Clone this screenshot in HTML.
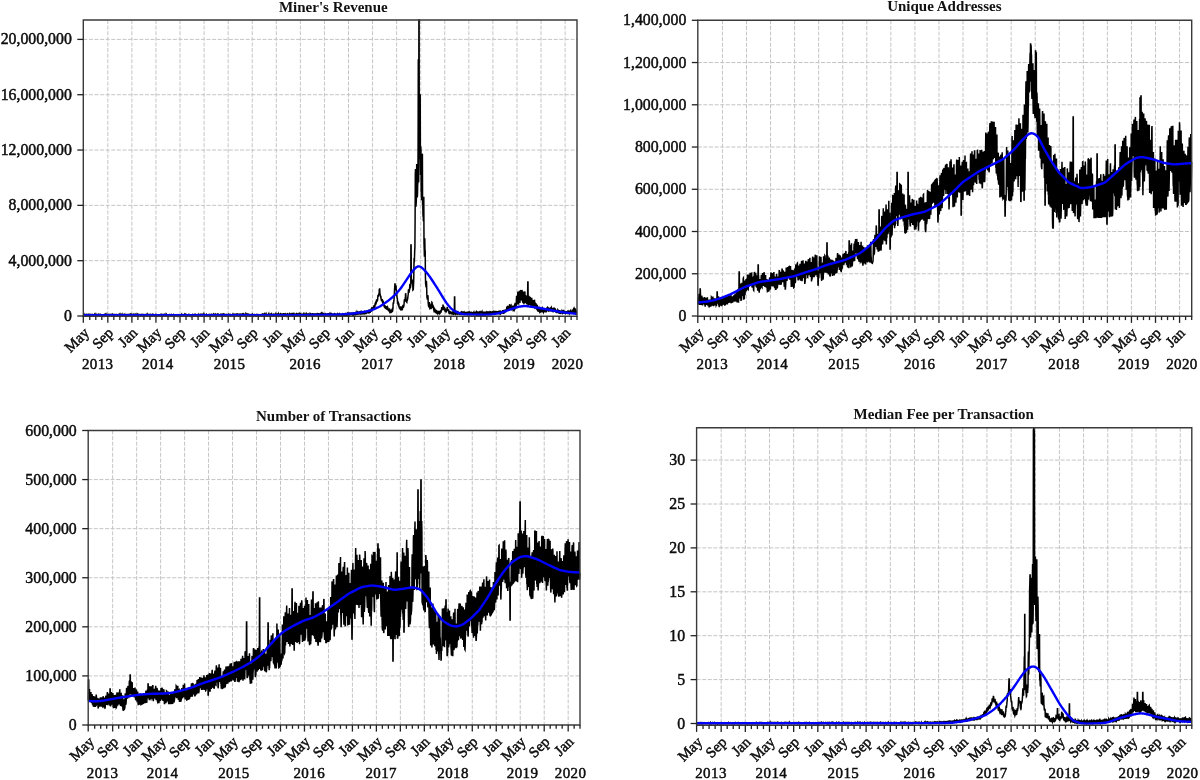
<!DOCTYPE html>
<html><head><meta charset="utf-8"><title>Charts</title><style>
html,body{margin:0;padding:0;background:#fff;}
svg{display:block;filter:blur(0.35px);}
.g{stroke:#c4c4c4;stroke-width:1;stroke-dasharray:4 1.6;fill:none;}
.d{stroke:#000;stroke-width:1.5;fill:none;stroke-linejoin:miter;}
.t{stroke:#0000ff;stroke-width:2.4;fill:none;}
.f{stroke:#3a3a3a;stroke-width:1.4;fill:none;}
.k{stroke:#222;stroke-width:1.3;}
text{font-family:"Liberation Serif",serif;fill:#111;}
.yl{font-size:15.8px;text-anchor:end;stroke:#000;stroke-width:0.45;}
.ml{font-size:15px;text-anchor:end;stroke:#000;stroke-width:0.45;}
.yr{font-size:15px;text-anchor:middle;letter-spacing:0.4px;stroke:#000;stroke-width:0.45;}
.ti{font-size:15px;font-weight:bold;text-anchor:middle;}
</style></head>
<body><svg width="1200" height="780" viewBox="0 0 1200 780">
<rect width="1200" height="780" fill="#fff"/>
<line x1="83.30" y1="260.68" x2="577.00" y2="260.68" class="g"/>
<line x1="83.30" y1="205.36" x2="577.00" y2="205.36" class="g"/>
<line x1="83.30" y1="150.04" x2="577.00" y2="150.04" class="g"/>
<line x1="83.30" y1="94.72" x2="577.00" y2="94.72" class="g"/>
<line x1="83.30" y1="39.40" x2="577.00" y2="39.40" class="g"/>
<line x1="107.82" y1="20.00" x2="107.82" y2="316.20" class="g"/>
<line x1="131.89" y1="20.00" x2="131.89" y2="316.20" class="g"/>
<line x1="155.95" y1="20.00" x2="155.95" y2="316.20" class="g"/>
<line x1="180.02" y1="20.00" x2="180.02" y2="316.20" class="g"/>
<line x1="204.09" y1="20.00" x2="204.09" y2="316.20" class="g"/>
<line x1="228.16" y1="20.00" x2="228.16" y2="316.20" class="g"/>
<line x1="252.23" y1="20.00" x2="252.23" y2="316.20" class="g"/>
<line x1="276.29" y1="20.00" x2="276.29" y2="316.20" class="g"/>
<line x1="300.36" y1="20.00" x2="300.36" y2="316.20" class="g"/>
<line x1="324.43" y1="20.00" x2="324.43" y2="316.20" class="g"/>
<line x1="348.50" y1="20.00" x2="348.50" y2="316.20" class="g"/>
<line x1="372.57" y1="20.00" x2="372.57" y2="316.20" class="g"/>
<line x1="396.63" y1="20.00" x2="396.63" y2="316.20" class="g"/>
<line x1="420.70" y1="20.00" x2="420.70" y2="316.20" class="g"/>
<line x1="444.77" y1="20.00" x2="444.77" y2="316.20" class="g"/>
<line x1="468.84" y1="20.00" x2="468.84" y2="316.20" class="g"/>
<line x1="492.91" y1="20.00" x2="492.91" y2="316.20" class="g"/>
<line x1="516.97" y1="20.00" x2="516.97" y2="316.20" class="g"/>
<line x1="541.04" y1="20.00" x2="541.04" y2="316.20" class="g"/>
<line x1="565.11" y1="20.00" x2="565.11" y2="316.20" class="g"/>
<path d="M83.4,315.6L83.6,316.0L83.8,315.9L84.0,315.9L84.2,315.5L84.4,314.9L84.6,314.6L84.8,315.8L85.0,315.8L85.2,316.0L85.4,315.9L85.6,315.6L85.8,315.0L86.0,314.8L86.2,315.8L86.4,316.0L86.6,315.8L86.8,315.6L87.0,315.5L87.2,314.6L87.4,314.6L87.6,315.7L87.8,315.7L87.9,315.8L88.1,315.8L88.3,315.5L88.5,314.5L88.7,314.3L88.9,315.6L89.1,315.5L89.3,315.8L89.5,315.8L89.7,315.6L89.9,314.9L90.1,314.7L90.3,315.9L90.5,315.8L90.7,315.9L90.9,315.8L91.1,315.7L91.3,314.7L91.5,314.6L91.7,315.5L91.9,315.7L92.1,315.5L92.3,315.8L92.5,315.5L92.7,314.6L92.9,314.7L93.1,315.8L93.3,315.7L93.5,315.8L93.7,315.6L93.9,315.4L94.1,314.8L94.3,314.5L94.5,315.7L94.7,315.8L94.9,315.9L95.1,315.8L95.3,315.5L95.5,314.8L95.7,314.4L95.9,315.4L96.1,315.6L96.3,315.7L96.5,315.5L96.7,315.7L96.8,314.6L97.0,314.5L97.2,315.7L97.4,315.7L97.6,315.6L97.8,315.6L98.0,315.5L98.2,314.7L98.4,314.5L98.6,315.5L98.8,315.8L99.0,315.8L99.2,315.6L99.4,315.4L99.6,314.4L99.8,314.3L100.0,315.5L100.2,315.6L100.4,315.7L100.6,315.5L100.8,315.5L101.0,314.7L101.2,314.8L101.4,315.8L101.6,315.7L101.8,315.9L102.0,315.8L102.2,315.3L102.4,314.7L102.6,314.7L102.8,315.4L103.0,315.5L103.2,315.6L103.4,315.6L103.6,315.4L103.8,314.8L104.0,314.6L104.2,315.9L104.4,315.7L104.6,315.6L104.8,315.9L105.0,315.4L105.2,314.8L105.4,314.5L105.6,315.5L105.7,315.9L105.9,316.0L106.1,315.8L106.3,315.7L106.5,314.9L106.7,314.5L106.9,315.7L107.1,315.9L107.3,315.7L107.5,315.6L107.7,315.6L107.9,314.9L108.1,314.7L108.3,315.5L108.5,315.8L108.7,315.6L108.9,315.7L109.1,315.6L109.3,314.6L109.5,314.5L109.7,315.7L109.9,315.9L110.1,315.6L110.3,315.7L110.5,315.5L110.7,314.4L110.9,314.3L111.1,315.4L111.3,315.7L111.5,315.6L111.7,315.6L111.9,315.4L112.1,314.6L112.3,314.4L112.5,315.6L112.7,315.9L112.9,315.9L113.1,315.6L113.3,315.3L113.5,314.6L113.7,314.6L113.9,315.6L114.1,315.8L114.3,315.6L114.5,315.4L114.7,315.3L114.8,314.5L115.0,314.5L115.2,315.6L115.4,315.7L115.6,315.5L115.8,315.6L116.0,315.5L116.2,314.8L116.4,314.7L116.6,315.8L116.8,315.7L117.0,315.7L117.2,315.8L117.4,315.6L117.6,314.7L117.8,314.6L118.0,315.6L118.2,315.9L118.4,315.8L118.6,315.5L118.8,315.6L119.0,314.8L119.2,314.5L119.4,315.5L119.6,316.1L119.8,316.2L120.0,315.8L120.2,315.7L120.4,315.0L120.6,314.6L120.8,315.7L121.0,315.8L121.2,315.9L121.4,316.0L121.6,315.4L121.8,314.6L122.0,314.3L122.2,315.6L122.4,315.7L122.6,315.8L122.8,315.5L123.0,315.6L123.2,314.9L123.4,314.7L123.6,315.9L123.7,315.9L123.9,315.9L124.1,315.9L124.3,315.8L124.5,314.8L124.7,314.5L124.9,315.8L125.1,315.7L125.3,315.7L125.5,315.7L125.7,315.4L125.9,314.7L126.1,314.6L126.3,315.4L126.5,315.5L126.7,315.8L126.9,315.4L127.1,315.6L127.3,314.7L127.5,314.6L127.7,315.4L127.9,315.8L128.1,315.5L128.3,315.7L128.5,315.3L128.7,314.4L128.9,314.3L129.1,315.3L129.3,315.5L129.5,315.4L129.7,315.3L129.9,315.4L130.1,314.6L130.3,314.4L130.5,315.5L130.7,315.6L130.9,315.4L131.1,315.4L131.3,315.3L131.5,314.3L131.7,314.5L131.9,315.5L132.1,315.4L132.3,315.8L132.5,315.4L132.7,315.2L132.8,314.6L133.0,314.4L133.2,315.6L133.4,315.4L133.6,315.5L133.8,315.5L134.0,315.3L134.2,314.5L134.4,314.4L134.6,315.4L134.8,315.8L135.0,315.6L135.2,315.5L135.4,315.2L135.6,314.6L135.8,314.3L136.0,315.4L136.2,315.5L136.4,315.6L136.6,315.7L136.8,315.3L137.0,314.5L137.2,314.3L137.4,315.5L137.6,315.7L137.8,315.6L138.0,315.7L138.2,315.5L138.4,314.3L138.6,314.4L138.8,315.4L139.0,315.5L139.2,315.8L139.4,315.5L139.6,315.2L139.8,314.6L140.0,314.6L140.2,315.5L140.4,315.5L140.6,315.5L140.8,315.3L141.0,315.2L141.2,314.6L141.4,314.5L141.6,315.6L141.7,315.9L141.9,315.9L142.1,315.8L142.3,315.8L142.5,314.8L142.7,314.6L142.9,315.5L143.1,315.9L143.3,315.6L143.5,315.6L143.7,315.4L143.9,314.9L144.1,314.8L144.3,315.6L144.5,315.9L144.7,315.9L144.9,315.8L145.1,315.5L145.3,314.8L145.5,314.7L145.7,315.8L145.9,315.9L146.1,315.6L146.3,315.7L146.5,315.4L146.7,314.8L146.9,314.4L147.1,315.5L147.3,315.7L147.5,315.6L147.7,315.4L147.9,315.2L148.1,314.4L148.3,314.5L148.5,315.4L148.7,315.8L148.9,315.9L149.1,315.5L149.3,315.3L149.5,314.8L149.7,314.6L149.9,315.5L150.1,315.9L150.3,315.7L150.5,315.8L150.6,315.5L150.8,314.6L151.0,314.6L151.2,315.3L151.4,315.8L151.6,315.6L151.8,315.7L152.0,315.4L152.2,314.7L152.4,314.5L152.6,315.5L152.8,315.7L153.0,315.7L153.2,315.6L153.4,315.7L153.6,314.6L153.8,314.7L154.0,315.7L154.2,315.9L154.4,315.9L154.6,315.8L154.8,315.5L155.0,314.8L155.2,314.7L155.4,315.6L155.6,316.0L155.8,316.0L156.0,315.7L156.2,315.5L156.4,314.7L156.6,314.8L156.8,315.8L157.0,315.7L157.2,316.0L157.4,315.7L157.6,315.6L157.8,314.8L158.0,314.8L158.2,315.8L158.4,315.9L158.6,316.0L158.8,315.9L159.0,315.6L159.2,314.8L159.4,314.8L159.6,315.9L159.7,316.0L159.9,316.1L160.1,316.1L160.3,315.6L160.5,315.0L160.7,314.7L160.9,315.9L161.1,315.9L161.3,315.8L161.5,315.8L161.7,315.5L161.9,314.6L162.1,314.7L162.3,315.9L162.5,315.7L162.7,315.9L162.9,315.8L163.1,315.7L163.3,314.6L163.5,314.8L163.7,315.6L163.9,315.8L164.1,316.0L164.3,315.9L164.5,315.4L164.7,314.6L164.9,314.3L165.1,315.4L165.3,315.5L165.5,315.6L165.7,315.5L165.9,315.6L166.1,314.8L166.3,314.5L166.5,315.6L166.7,315.6L166.9,315.8L167.1,315.6L167.3,315.6L167.5,314.8L167.7,314.8L167.9,315.6L168.1,316.0L168.3,316.0L168.5,315.8L168.6,315.9L168.8,314.9L169.0,314.8L169.2,315.8L169.4,316.1L169.6,316.2L169.8,316.0L170.0,315.6L170.2,314.6L170.4,314.7L170.6,315.7L170.8,315.9L171.0,315.8L171.2,315.7L171.4,315.8L171.6,314.7L171.8,314.9L172.0,316.0L172.2,316.2L172.4,316.2L172.6,315.9L172.8,315.7L173.0,315.1L173.2,314.8L173.4,315.7L173.6,315.8L173.8,316.0L174.0,316.1L174.2,315.8L174.4,315.2L174.6,315.2L174.8,316.1L175.0,316.2L175.2,316.2L175.4,316.0L175.6,315.8L175.8,315.2L176.0,315.1L176.2,316.1L176.4,316.2L176.6,316.2L176.8,315.9L177.0,315.8L177.2,314.9L177.4,314.8L177.6,315.8L177.7,315.8L177.9,316.2L178.1,316.0L178.3,315.8L178.5,314.8L178.7,314.9L178.9,315.8L179.1,316.2L179.3,316.0L179.5,316.1L179.7,316.0L179.9,315.2L180.1,315.1L180.3,316.1L180.5,316.1L180.7,315.9L180.9,316.0L181.1,315.9L181.3,315.1L181.5,314.7L181.7,315.7L181.9,316.1L182.1,316.1L182.3,315.9L182.5,315.6L182.7,314.7L182.9,314.8L183.1,315.7L183.3,315.9L183.5,315.8L183.7,315.8L183.9,315.5L184.1,314.8L184.3,314.5L184.5,315.7L184.7,315.9L184.9,315.7L185.1,315.5L185.3,315.3L185.5,314.5L185.7,314.8L185.9,315.7L186.1,315.8L186.3,315.7L186.5,315.9L186.6,315.7L186.8,314.8L187.0,315.0L187.2,316.0L187.4,316.0L187.6,315.9L187.8,315.9L188.0,315.4L188.2,314.8L188.4,314.6L188.6,315.4L188.8,315.6L189.0,315.8L189.2,315.5L189.4,315.6L189.6,314.7L189.8,314.8L190.0,315.8L190.2,316.1L190.4,316.1L190.6,316.0L190.8,315.7L191.0,314.8L191.2,314.8L191.4,316.1L191.6,315.8L191.8,315.9L192.0,315.8L192.2,315.8L192.4,315.0L192.6,314.7L192.8,315.4L193.0,315.7L193.2,316.0L193.4,315.8L193.6,315.7L193.8,314.8L194.0,314.6L194.2,315.9L194.4,315.9L194.6,315.9L194.8,316.1L195.0,315.7L195.2,314.9L195.4,314.7L195.5,316.1L195.7,316.1L195.9,315.9L196.1,315.9L196.3,315.8L196.5,315.1L196.7,315.1L196.9,315.9L197.1,316.1L197.3,315.8L197.5,315.7L197.7,315.7L197.9,314.8L198.1,314.5L198.3,315.7L198.5,316.0L198.7,315.7L198.9,315.6L199.1,315.6L199.3,314.7L199.5,314.6L199.7,315.3L199.9,315.5L200.1,315.5L200.3,315.2L200.5,315.2L200.7,314.3L200.9,314.3L201.1,315.1L201.3,315.3L201.5,315.4L201.7,315.3L201.9,315.1L202.1,314.3L202.3,314.3L202.5,315.5L202.7,315.7L202.9,315.7L203.1,315.7L203.3,315.7L203.5,314.8L203.7,314.3L203.9,315.5L204.1,315.8L204.3,315.6L204.5,315.6L204.6,315.3L204.8,314.4L205.0,314.5L205.2,315.4L205.4,315.7L205.6,315.7L205.8,315.6L206.0,315.5L206.2,314.9L206.4,314.6L206.6,315.7L206.8,315.7L207.0,316.0L207.2,315.8L207.4,315.6L207.6,315.0L207.8,315.0L208.0,315.8L208.2,316.2L208.4,316.1L208.6,316.0L208.8,315.8L209.0,314.6L209.2,314.6L209.4,315.8L209.6,315.9L209.8,315.9L210.0,315.8L210.2,315.8L210.4,314.7L210.6,314.9L210.8,315.7L211.0,315.8L211.2,315.9L211.4,315.6L211.6,315.4L211.8,314.4L212.0,314.5L212.2,315.6L212.4,315.4L212.6,315.6L212.8,315.5L213.0,315.2L213.2,314.4L213.4,314.2L213.5,315.5L213.7,315.2L213.9,315.5L214.1,315.1L214.3,314.9L214.5,314.2L214.7,314.2L214.9,315.2L215.1,315.5L215.3,315.4L215.5,315.5L215.7,315.3L215.9,314.2L216.1,314.4L216.3,315.4L216.5,315.2L216.7,315.6L216.9,315.3L217.1,315.1L217.3,314.5L217.5,314.3L217.7,315.5L217.9,315.4L218.1,315.7L218.3,315.3L218.5,315.2L218.7,314.4L218.9,314.5L219.1,315.7L219.3,315.6L219.5,315.6L219.7,315.7L219.9,315.3L220.1,314.4L220.3,314.3L220.5,315.4L220.7,315.5L220.9,315.8L221.1,315.5L221.3,315.4L221.5,314.3L221.7,314.3L221.9,315.2L222.1,315.3L222.3,315.0L222.4,315.1L222.6,314.9L222.8,314.1L223.0,314.1L223.2,315.0L223.4,315.2L223.6,315.2L223.8,315.1L224.0,314.9L224.2,314.1L224.4,314.3L224.6,315.3L224.8,315.3L225.0,315.5L225.2,315.3L225.4,315.4L225.6,314.6L225.8,314.5L226.0,315.5L226.2,315.7L226.4,316.0L226.6,315.7L226.8,315.2L227.0,314.4L227.2,314.4L227.4,315.5L227.6,315.6L227.8,315.9L228.0,315.9L228.2,315.6L228.4,314.5L228.6,314.3L228.8,315.4L229.0,315.6L229.2,315.7L229.4,315.8L229.6,315.2L229.8,314.5L230.0,314.4L230.2,315.3L230.4,315.5L230.6,315.7L230.8,315.4L231.0,315.4L231.2,314.7L231.4,314.2L231.5,315.3L231.7,315.5L231.9,315.6L232.1,315.7L232.3,315.5L232.5,314.6L232.7,314.3L232.9,315.5L233.1,315.6L233.3,315.5L233.5,315.5L233.7,315.3L233.9,314.2L234.1,314.2L234.3,315.2L234.5,315.4L234.7,315.3L234.9,315.3L235.1,315.4L235.3,314.3L235.5,314.3L235.7,315.4L235.9,315.6L236.1,315.7L236.3,315.2L236.5,315.4L236.7,314.0L236.9,314.0L237.1,315.3L237.3,315.1L237.5,315.1L237.7,315.0L237.9,314.9L238.1,314.1L238.3,314.2L238.5,315.2L238.7,315.3L238.9,315.4L239.1,315.2L239.3,315.0L239.5,314.3L239.7,314.2L239.9,315.3L240.1,315.6L240.3,315.5L240.4,315.8L240.6,315.3L240.8,314.2L241.0,314.2L241.2,315.6L241.4,315.4L241.6,315.7L241.8,315.5L242.0,315.0L242.2,314.1L242.4,314.0L242.6,315.3L242.8,315.4L243.0,315.2L243.2,315.3L243.4,315.2L243.6,314.1L243.8,314.3L244.0,315.2L244.2,315.4L244.4,315.7L244.6,315.4L244.8,315.1L245.0,314.4L245.2,314.0L245.4,315.4L245.6,315.4L245.8,315.4L246.0,315.3L246.2,315.1L246.4,314.5L246.6,314.2L246.8,315.2L247.0,315.4L247.2,315.7L247.4,315.7L247.6,315.5L247.8,314.1L248.0,314.1L248.2,315.6L248.4,315.8L248.6,315.7L248.8,315.4L249.0,315.3L249.2,314.4L249.4,314.4L249.5,315.3L249.7,315.6L249.9,315.4L250.1,315.6L250.3,315.2L250.5,314.7L250.7,314.6L250.9,315.5L251.1,315.6L251.3,315.5L251.5,315.5L251.7,315.4L251.9,314.6L252.1,314.4L252.3,315.5L252.5,315.5L252.7,315.8L252.9,315.7L253.1,315.5L253.3,314.6L253.5,314.7L253.7,316.0L253.9,315.8L254.1,315.9L254.3,315.8L254.5,315.8L254.7,314.7L254.9,314.8L255.1,315.9L255.3,316.0L255.5,316.1L255.7,316.0L255.9,315.5L256.1,314.6L256.3,314.5L256.5,315.7L256.7,315.8L256.9,315.6L257.1,315.8L257.3,315.6L257.5,314.6L257.7,314.5L257.9,315.4L258.1,315.5L258.3,315.8L258.4,315.6L258.6,315.4L258.8,314.9L259.0,314.3L259.2,316.0L259.4,316.1L259.6,315.9L259.8,315.8L260.0,315.4L260.2,314.9L260.4,314.8L260.6,315.7L260.8,315.6L261.0,315.9L261.2,315.8L261.4,315.2L261.6,314.6L261.8,314.4L262.0,315.4L262.2,315.6L262.4,315.5L262.6,315.4L262.8,315.1L263.0,314.1L263.2,314.1L263.4,315.3L263.6,315.6L263.8,315.8L264.0,315.2L264.2,315.3L264.4,314.2L264.6,313.9L264.8,315.4L265.0,315.3L265.2,315.5L265.4,315.5L265.6,315.3L265.8,314.4L266.0,314.0L266.2,315.2L266.4,315.5L266.6,315.5L266.8,315.4L267.0,315.5L267.2,314.4L267.3,314.4L267.5,315.5L267.7,315.5L267.9,315.4L268.1,315.3L268.3,315.2L268.5,314.2L268.7,313.8L268.9,315.3L269.1,315.5L269.3,315.6L269.5,315.3L269.7,315.1L269.9,314.2L270.1,314.1L270.3,315.5L270.5,315.3L270.7,315.8L270.9,315.7L271.1,315.3L271.3,314.3L271.5,314.0L271.7,315.4L271.9,315.3L272.1,315.6L272.3,315.3L272.5,315.5L272.7,314.5L272.9,314.4L273.1,315.6L273.3,315.7L273.5,315.7L273.7,315.7L273.9,315.2L274.1,314.2L274.3,314.2L274.5,315.4L274.7,315.6L274.9,315.5L275.1,315.2L275.3,314.8L275.5,314.2L275.7,313.8L275.9,315.0L276.1,315.4L276.3,315.3L276.4,315.3L276.6,315.2L276.8,314.5L277.0,314.3L277.2,315.5L277.4,315.3L277.6,315.7L277.8,315.5L278.0,315.3L278.2,314.6L278.4,314.1L278.6,315.6L278.8,315.3L279.0,315.5L279.2,315.7L279.4,315.4L279.6,314.5L279.8,314.3L280.0,315.4L280.2,315.6L280.4,315.2L280.6,315.5L280.8,314.9L281.0,314.0L281.2,314.2L281.4,315.4L281.6,315.5L281.8,315.7L282.0,315.4L282.2,314.9L282.4,314.0L282.6,314.0L282.8,315.2L283.0,315.4L283.2,315.6L283.4,315.3L283.6,314.9L283.8,313.8L284.0,313.8L284.2,314.7L284.4,314.9L284.6,315.2L284.8,315.0L285.0,314.8L285.2,314.1L285.3,314.0L285.5,314.9L285.7,315.3L285.9,315.4L286.1,315.0L286.3,314.9L286.5,314.2L286.7,314.1L286.9,315.6L287.1,315.3L287.3,315.2L287.5,315.7L287.7,315.3L287.9,314.1L288.1,314.3L288.3,315.6L288.5,315.7L288.7,315.7L288.9,315.5L289.1,315.2L289.3,313.9L289.5,313.7L289.7,315.1L289.9,315.1L290.1,315.1L290.3,315.2L290.5,314.9L290.7,314.0L290.9,314.0L291.1,315.0L291.3,315.0L291.5,314.9L291.7,314.8L291.9,314.9L292.1,313.6L292.3,313.6L292.5,315.1L292.7,315.1L292.9,315.3L293.1,315.2L293.3,314.7L293.5,314.0L293.7,313.7L293.9,315.0L294.1,315.4L294.2,315.4L294.4,315.4L294.6,315.2L294.8,314.0L295.0,314.1L295.2,315.3L295.4,315.6L295.6,315.3L295.8,315.4L296.0,315.0L296.2,314.1L296.4,313.9L296.6,315.3L296.8,315.5L297.0,315.7L297.2,315.3L297.4,315.2L297.6,314.1L297.8,313.9L298.0,315.2L298.2,315.4L298.4,315.6L298.6,315.2L298.8,315.4L299.0,314.2L299.2,313.9L299.4,315.3L299.6,315.4L299.8,315.4L300.0,315.2L300.2,314.9L300.4,314.1L300.6,313.9L300.8,315.4L301.0,315.1L301.2,315.5L301.4,315.3L301.6,315.1L301.8,314.3L302.0,313.7L302.2,315.2L302.4,315.5L302.6,315.4L302.8,315.1L303.0,315.2L303.2,314.4L303.3,314.2L303.5,315.3L303.7,315.6L303.9,315.8L304.1,315.6L304.3,315.4L304.5,314.5L304.7,314.1L304.9,315.3L305.1,315.7L305.3,315.8L305.5,315.6L305.7,315.5L305.9,314.4L306.1,314.0L306.3,315.6L306.5,315.4L306.7,315.7L306.9,315.4L307.1,315.0L307.3,314.1L307.5,314.1L307.7,315.4L307.9,315.5L308.1,315.8L308.3,315.8L308.5,315.0L308.7,314.3L308.9,314.0L309.1,315.2L309.3,315.6L309.5,315.7L309.7,315.7L309.9,315.4L310.1,314.0L310.3,313.8L310.5,315.6L310.7,315.7L310.9,315.4L311.1,315.5L311.3,315.2L311.5,313.9L311.7,313.9L311.9,315.1L312.1,315.3L312.2,315.1L312.4,315.1L312.6,314.7L312.8,313.7L313.0,313.7L313.2,314.9L313.4,315.0L313.6,315.2L313.8,315.1L314.0,315.1L314.2,314.2L314.4,314.1L314.6,315.4L314.8,315.3L315.0,315.6L315.2,315.2L315.4,314.9L315.6,314.1L315.8,314.0L316.0,315.4L316.2,315.4L316.4,315.4L316.6,315.2L316.8,315.2L317.0,314.2L317.2,314.0L317.4,315.3L317.6,315.3L317.8,315.1L318.0,315.2L318.2,315.0L318.4,313.8L318.6,313.8L318.8,314.9L319.0,315.3L319.2,315.3L319.4,315.4L319.6,315.3L319.8,314.0L320.0,313.8L320.2,315.1L320.4,315.2L320.6,315.4L320.8,315.4L321.0,315.1L321.2,313.8L321.3,313.6L321.5,314.9L321.7,315.3L321.9,315.0L322.1,315.1L322.3,314.7L322.5,313.5L322.7,313.8L322.9,314.8L323.1,315.2L323.3,315.1L323.5,314.9L323.7,314.7L323.9,313.6L324.1,313.7L324.3,314.8L324.5,315.3L324.7,315.4L324.9,315.0L325.1,314.9L325.3,314.2L325.5,314.0L325.7,315.1L325.9,315.3L326.1,315.3L326.3,315.1L326.5,315.2L326.7,314.2L326.9,314.1L327.1,315.6L327.3,315.5L327.5,315.5L327.7,315.5L327.9,315.3L328.1,313.8L328.3,313.8L328.5,315.4L328.7,315.2L328.9,315.6L329.1,315.1L329.3,315.2L329.5,313.9L329.7,313.6L329.9,315.4L330.1,315.1L330.2,315.0L330.4,315.1L330.6,314.7L330.8,313.4L331.0,313.4L331.2,315.1L331.4,315.0L331.6,315.2L331.8,315.5L332.0,315.4L332.2,314.1L332.4,314.3L332.6,315.7L332.8,315.8L333.0,315.7L333.2,315.6L333.4,315.2L333.6,314.3L333.8,314.1L334.0,315.4L334.2,315.7L334.4,315.5L334.6,315.4L334.8,315.2L335.0,313.9L335.2,314.0L335.4,315.3L335.6,315.7L335.8,315.5L336.0,315.7L336.2,315.2L336.4,314.3L336.6,314.3L336.8,315.5L337.0,315.7L337.2,315.4L337.4,315.5L337.6,314.7L337.8,313.7L338.0,313.9L338.2,315.2L338.4,315.2L338.6,315.4L338.8,315.3L339.0,314.9L339.1,314.0L339.3,313.8L339.5,315.3L339.7,315.5L339.9,315.4L340.1,315.7L340.3,315.2L340.5,314.3L340.7,313.8L340.9,315.4L341.1,315.7L341.3,315.6L341.5,315.6L341.7,315.5L341.9,314.3L342.1,314.1L342.3,315.1L342.5,315.7L342.7,315.7L342.9,315.7L343.1,315.5L343.3,314.4L343.5,314.3L343.7,315.5L343.9,315.7L344.1,315.8L344.3,315.6L344.5,315.2L344.7,314.4L344.9,314.1L345.1,315.2L345.3,315.2L345.5,315.4L345.7,315.1L345.9,314.9L346.1,313.8L346.3,313.9L346.5,315.1L346.7,315.6L346.9,315.3L347.1,315.2L347.3,314.7L347.5,313.2L347.7,313.0L347.9,314.4L348.1,314.9L348.2,314.8L348.4,314.7L348.6,314.9L348.8,313.3L349.0,313.2L349.2,314.8L349.4,315.0L349.6,314.9L349.8,314.8L350.0,314.2L350.2,313.4L350.4,313.3L350.6,314.4L350.8,314.5L351.0,314.7L351.2,314.5L351.4,314.3L351.6,313.4L351.8,313.2L352.0,314.3L352.2,314.5L352.4,314.8L352.6,314.6L352.8,314.5L353.0,313.6L353.2,313.4L353.4,314.8L353.6,314.6L353.8,314.8L354.0,314.5L354.2,314.5L354.4,313.2L354.6,313.1L354.8,314.1L355.0,314.3L355.2,314.7L355.4,314.4L355.6,314.0L355.8,313.0L356.0,312.5L356.2,313.9L356.4,314.1L356.6,313.9L356.8,313.7L357.0,313.8L357.1,312.6L357.3,312.3L357.5,313.7L357.7,313.9L357.9,314.1L358.1,313.9L358.3,313.3L358.5,312.3L358.7,312.2L358.9,313.3L359.1,313.7L359.3,313.3L359.5,313.0L359.7,313.0L359.9,312.0L360.1,311.8L360.3,313.4L360.5,313.7L360.7,313.9L360.9,313.5L361.1,313.2L361.3,311.9L361.5,311.7L361.7,313.4L361.9,313.8L362.1,313.7L362.3,313.1L362.5,313.3L362.7,311.8L362.9,311.8L363.1,313.4L363.3,313.3L363.5,313.3L363.7,313.5L363.9,312.9L364.1,311.9L364.3,311.7L364.5,313.1L364.7,313.1L364.9,313.5L365.1,313.2L365.3,312.7L365.5,311.8L365.7,311.6L365.9,313.0L366.1,313.4L366.2,313.3L366.4,312.9L366.6,312.7L366.8,311.4L367.0,311.5L367.2,312.7L367.4,312.8L367.6,312.8L367.8,312.5L368.0,312.0L368.2,311.1L368.4,310.9L368.6,312.1L368.8,312.5L369.0,312.8L369.2,312.3L369.4,312.1L369.6,310.7L369.8,311.0L370.0,312.2L370.2,312.2L370.4,311.8L370.6,311.6L370.8,311.1L371.0,309.4L371.2,309.0L371.4,310.7L371.6,310.8L371.8,310.6L372.0,310.4L372.2,310.0L372.4,308.0L372.6,307.3L372.8,309.3L373.0,309.0L373.2,309.0L373.4,308.4L373.6,307.5L373.8,306.0L374.0,305.8L374.2,307.4L374.4,307.5L374.6,307.2L374.8,307.1L375.0,305.8L375.1,303.6L375.3,303.2L375.5,305.0L375.7,304.1L375.9,303.9L376.1,303.3L376.3,302.6L376.5,300.0L376.7,299.4L376.9,301.3L377.1,301.0L377.3,300.6L377.5,300.2L377.7,298.7L377.9,295.9L378.1,295.0L378.3,296.7L378.5,295.8L378.7,294.9L378.9,293.9L379.1,292.9L379.3,289.4L379.5,289.0L379.7,289.0L379.9,293.3L380.1,294.2L380.3,295.7L380.5,296.4L380.7,296.1L380.9,296.4L381.1,299.4L381.3,300.0L381.5,300.6L381.7,300.8L381.9,300.8L382.1,299.6L382.3,299.7L382.5,302.1L382.7,302.7L382.9,302.9L383.1,303.6L383.3,303.5L383.5,302.6L383.7,303.2L383.9,305.7L384.0,306.1L384.2,306.6L384.4,306.9L384.6,307.1L384.8,305.6L385.0,305.7L385.2,308.0L385.4,308.2L385.6,308.4L385.8,308.3L386.0,308.1L386.2,306.5L386.4,306.0L386.6,308.4L386.8,309.1L387.0,309.3L387.2,309.3L387.4,308.8L387.6,307.2L387.8,307.5L388.0,309.8L388.2,310.2L388.4,310.6L388.6,310.6L388.8,310.2L389.0,309.2L389.2,309.1L389.4,311.6L389.6,311.8L389.8,312.2L390.0,311.7L390.2,311.9L390.4,310.4L390.6,310.7L390.8,313.0L391.0,312.5L391.2,312.1L391.4,312.1L391.6,311.6L391.8,310.0L392.0,309.6L392.2,311.1L392.4,311.3L392.6,310.9L392.8,309.5L393.0,308.1L393.1,304.3L393.3,302.2L393.5,304.0L393.7,302.0L393.9,301.0L394.1,298.3L394.3,295.3L394.5,290.0L394.7,287.6L394.9,284.0L395.1,284.0L395.3,287.6L395.5,288.2L395.7,287.7L395.9,286.5L396.1,286.4L396.3,290.5L396.5,291.6L396.7,293.4L396.9,295.6L397.1,297.8L397.3,298.2L397.5,300.2L397.7,302.7L397.9,304.0L398.1,304.6L398.3,305.1L398.5,304.6L398.7,303.6L398.9,304.1L399.1,307.3L399.3,307.8L399.5,308.3L399.7,308.4L399.9,308.7L400.1,307.3L400.3,307.2L400.5,309.4L400.7,309.5L400.9,309.7L401.1,309.4L401.3,309.3L401.5,307.5L401.7,307.7L401.9,309.8L402.0,310.4L402.2,309.6L402.4,309.2L402.6,307.6L402.8,305.8L403.0,304.9L403.2,307.6L403.4,307.1L403.6,306.9L403.8,306.0L404.0,305.0L404.2,301.9L404.4,299.4L404.6,301.9L404.8,301.0L405.0,299.4L405.2,298.7L405.4,296.4L405.6,293.2L405.8,294.1L406.0,298.8L406.2,299.7L406.4,301.5L406.6,302.1L406.8,302.3L407.0,300.4L407.2,299.0L407.4,299.8L407.6,299.1L407.8,298.0L408.0,295.8L408.2,294.4L408.4,290.1L408.6,289.4L408.8,292.2L409.0,290.8L409.2,291.1L409.4,289.4L409.6,289.4L409.8,284.7L410.0,284.1L410.2,288.5L410.4,286.4L410.6,286.5L410.8,285.2L410.9,245.0L411.1,245.0L411.3,276.0L411.5,280.8L411.7,281.1L411.9,282.2L412.1,280.4L412.3,283.6L412.5,279.6L412.7,282.3L412.9,290.1L413.1,289.9L413.3,289.2L413.5,285.1L413.7,281.4L413.9,268.9L414.1,257.9L414.3,262.4L414.5,257.2L414.7,250.6L414.9,247.5L415.1,219.4L415.3,174.4L415.5,169.0L415.7,205.2L415.9,206.7L416.1,204.3L416.3,201.0L416.5,190.9L416.7,164.1L416.9,168.9L417.1,188.3L417.3,197.5L417.5,193.7L417.7,184.0L417.9,183.1L418.1,143.9L418.3,60.0L418.5,60.0L418.7,182.3L418.9,20.0L419.1,20.0L419.3,156.1L419.5,130.5L419.7,126.0L419.9,159.6L420.0,95.0L420.2,95.0L420.4,166.3L420.6,175.0L420.8,146.4L421.0,151.3L421.2,190.4L421.4,193.9L421.6,200.3L421.8,194.4L422.0,195.1L422.2,153.9L422.4,154.4L422.6,205.1L422.8,203.9L423.0,216.4L423.2,215.5L423.4,221.1L423.6,200.6L423.8,196.8L424.0,242.8L424.2,248.6L424.4,256.7L424.6,239.0L424.8,239.0L425.0,250.8L425.2,250.2L425.4,275.0L425.6,283.7L425.8,284.7L426.0,286.6L426.2,287.4L426.4,280.7L426.6,283.8L426.8,293.5L427.0,297.7L427.2,297.8L427.4,299.7L427.6,298.2L427.8,295.2L428.0,296.2L428.2,302.6L428.4,305.3L428.6,306.3L428.8,306.6L428.9,305.7L429.1,302.6L429.3,302.1L429.5,306.3L429.7,306.7L429.9,308.1L430.1,307.8L430.3,307.2L430.5,305.2L430.7,305.6L430.9,308.9L431.1,308.4L431.3,307.9L431.5,306.9L431.7,306.0L431.9,302.3L432.1,302.5L432.3,306.0L432.5,306.5L432.7,307.4L432.9,307.6L433.1,307.3L433.3,306.3L433.5,306.7L433.7,309.6L433.9,310.6L434.1,311.3L434.3,311.0L434.5,310.8L434.7,309.0L434.9,309.3L435.1,311.8L435.3,312.0L435.5,312.4L435.7,312.3L435.9,311.9L436.1,310.5L436.3,310.6L436.5,312.7L436.7,313.2L436.9,313.4L437.1,313.5L437.3,313.1L437.5,311.4L437.7,311.5L437.9,312.9L438.0,313.6L438.2,313.2L438.4,312.9L438.6,312.7L438.8,311.6L439.0,311.7L439.2,313.2L439.4,313.7L439.6,313.9L439.8,313.7L440.0,313.6L440.2,311.2L440.4,310.3L440.6,312.1L440.8,312.1L441.0,311.2L441.2,311.4L441.4,310.5L441.6,308.1L441.8,307.3L442.0,310.2L442.2,309.4L442.4,308.9L442.6,308.6L442.8,307.9L443.0,304.6L443.2,305.6L443.4,307.9L443.6,309.1L443.8,309.3L444.0,309.6L444.2,309.4L444.4,307.7L444.6,307.9L444.8,310.2L445.0,311.0L445.2,311.3L445.4,311.4L445.6,311.2L445.8,310.2L446.0,310.6L446.2,311.7L446.4,311.4L446.6,310.6L446.8,310.2L446.9,309.7L447.1,307.7L447.3,307.1L447.5,308.6L447.7,309.8L447.9,309.8L448.1,310.4L448.3,310.4L448.5,309.9L448.7,309.9L448.9,312.8L449.1,313.2L449.3,312.9L449.5,313.1L449.7,312.4L449.9,311.5L450.1,311.6L450.3,312.9L450.5,313.4L450.7,313.4L450.9,313.1L451.1,313.1L451.3,312.2L451.5,311.5L451.7,313.3L451.9,313.6L452.1,314.0L452.3,313.7L452.5,313.3L452.7,312.0L452.9,311.9L453.1,313.6L453.3,313.6L453.5,314.0L453.7,313.6L453.9,313.3L454.1,312.3L454.3,312.2L454.5,297.0L454.7,297.0L454.9,314.1L455.1,314.2L455.3,314.1L455.5,312.9L455.7,312.5L455.8,314.1L456.0,313.9L456.2,314.1L456.4,314.0L456.6,313.8L456.8,312.5L457.0,312.3L457.2,313.8L457.4,314.0L457.6,313.9L457.8,313.7L458.0,313.2L458.2,312.2L458.4,312.5L458.6,313.7L458.8,313.6L459.0,313.9L459.2,313.9L459.4,313.4L459.6,312.7L459.8,312.6L460.0,314.0L460.2,313.8L460.4,313.9L460.6,314.0L460.8,313.4L461.0,312.4L461.2,312.2L461.4,313.8L461.6,313.5L461.8,313.7L462.0,313.7L462.2,313.5L462.4,312.1L462.6,312.1L462.8,313.6L463.0,313.7L463.2,313.8L463.4,313.4L463.6,313.1L463.8,312.2L464.0,312.0L464.2,313.6L464.4,313.5L464.6,313.8L464.8,313.3L464.9,313.2L465.1,312.4L465.3,311.8L465.5,313.3L465.7,313.7L465.9,313.6L466.1,313.7L466.3,313.3L466.5,312.4L466.7,312.3L466.9,313.6L467.1,313.8L467.3,313.4L467.5,313.7L467.7,313.2L467.9,312.4L468.1,312.2L468.3,313.4L468.5,313.8L468.7,313.8L468.9,314.0L469.1,313.5L469.3,312.5L469.5,312.2L469.7,313.7L469.9,313.9L470.1,314.0L470.3,313.9L470.5,313.6L470.7,312.5L470.9,312.4L471.1,313.7L471.3,314.0L471.5,313.8L471.7,313.6L471.9,313.7L472.1,312.5L472.3,312.0L472.5,313.7L472.7,314.1L472.9,314.1L473.1,313.7L473.3,313.2L473.5,312.5L473.7,312.2L473.8,313.9L474.0,313.8L474.2,313.7L474.4,313.4L474.6,313.2L474.8,312.5L475.0,312.4L475.2,313.4L475.4,313.8L475.6,313.5L475.8,313.8L476.0,313.6L476.2,312.2L476.4,311.9L476.6,313.6L476.8,313.4L477.0,313.9L477.2,313.9L477.4,313.2L477.6,312.1L477.8,312.1L478.0,313.2L478.2,313.5L478.4,313.5L478.6,313.7L478.8,313.4L479.0,312.3L479.2,312.1L479.4,313.5L479.6,313.4L479.8,313.7L480.0,313.3L480.2,313.0L480.4,312.0L480.6,311.8L480.8,313.1L481.0,313.1L481.2,313.1L481.4,313.1L481.6,313.1L481.8,312.2L482.0,311.8L482.2,313.3L482.4,314.0L482.6,314.0L482.7,313.6L482.9,313.6L483.1,312.2L483.3,312.2L483.5,313.9L483.7,313.7L483.9,313.5L484.1,313.7L484.3,313.2L484.5,312.3L484.7,312.3L484.9,313.4L485.1,313.9L485.3,313.9L485.5,313.5L485.7,313.5L485.9,312.3L486.1,312.1L486.3,313.5L486.5,313.4L486.7,313.7L486.9,313.4L487.1,313.2L487.3,312.1L487.5,312.0L487.7,313.2L487.9,313.2L488.1,313.4L488.3,313.2L488.5,313.2L488.7,312.2L488.9,312.0L489.1,313.6L489.3,313.8L489.5,313.5L489.7,313.7L489.9,313.3L490.1,311.9L490.3,311.8L490.5,313.0L490.7,313.4L490.9,313.4L491.1,313.5L491.3,313.3L491.5,311.9L491.7,311.9L491.8,313.2L492.0,313.2L492.2,313.4L492.4,313.4L492.6,312.9L492.8,311.7L493.0,311.5L493.2,313.0L493.4,313.3L493.6,312.9L493.8,312.8L494.0,312.8L494.2,311.8L494.4,311.7L494.6,312.8L494.8,313.1L495.0,313.3L495.2,313.3L495.4,312.8L495.6,311.6L495.8,311.6L496.0,312.9L496.2,313.0L496.4,313.0L496.6,313.1L496.8,313.0L497.0,311.9L497.2,311.2L497.4,312.9L497.6,313.0L497.8,313.0L498.0,313.1L498.2,313.0L498.4,311.4L498.6,311.3L498.8,313.1L499.0,313.3L499.2,313.7L499.4,313.4L499.6,313.0L499.8,311.2L500.0,311.1L500.2,312.8L500.4,312.9L500.6,313.6L500.7,313.4L500.9,312.6L501.1,311.7L501.3,311.1L501.5,312.6L501.7,313.1L501.9,313.0L502.1,312.8L502.3,312.3L502.5,310.8L502.7,310.8L502.9,313.0L503.1,313.1L503.3,313.2L503.5,312.8L503.7,312.7L503.9,310.6L504.1,310.6L504.3,312.2L504.5,312.7L504.7,312.6L504.9,312.3L505.1,311.6L505.3,310.1L505.5,309.5L505.7,311.2L505.9,311.4L506.1,311.4L506.3,310.7L506.5,309.7L506.7,307.5L506.9,307.2L507.1,310.0L507.3,309.5L507.5,309.2L507.7,309.3L507.9,308.5L508.1,306.7L508.3,306.6L508.5,308.5L508.7,308.5L508.9,308.2L509.1,308.2L509.3,307.3L509.5,305.4L509.7,304.2L509.8,307.2L510.0,307.6L510.2,307.8L510.4,308.1L510.6,307.7L510.8,305.7L511.0,305.4L511.2,308.2L511.4,308.5L511.6,309.0L511.8,308.5L512.0,308.2L512.2,306.4L512.4,305.5L512.6,308.6L512.8,309.4L513.0,310.0L513.2,309.6L513.4,309.4L513.6,306.9L513.8,306.5L514.0,309.7L514.2,310.4L514.4,310.0L514.6,309.0L514.8,307.9L515.0,304.1L515.2,302.8L515.4,307.3L515.6,307.0L515.8,307.7L516.0,307.4L516.2,304.9L516.4,299.2L516.6,295.7L516.8,302.6L517.0,303.3L517.2,303.5L517.4,302.9L517.6,298.9L517.8,292.5L518.0,291.8L518.2,302.9L518.4,303.0L518.6,303.4L518.7,301.7L518.9,301.1L519.1,293.7L519.3,290.7L519.5,300.8L519.7,301.8L519.9,303.0L520.1,299.2L520.3,300.0L520.5,291.2L520.7,289.9L520.9,298.5L521.1,300.4L521.3,298.1L521.5,297.4L521.7,296.5L521.9,290.0L522.1,290.9L522.3,300.1L522.5,300.8L522.7,301.7L522.9,301.4L523.1,298.9L523.3,292.1L523.5,291.4L523.7,302.4L523.9,303.3L524.1,303.1L524.3,300.9L524.5,300.6L524.7,294.7L524.9,291.4L525.1,300.3L525.3,302.9L525.5,302.3L525.7,301.7L525.9,300.1L526.1,296.2L526.3,296.4L526.5,301.6L526.7,303.0L526.9,304.4L527.1,302.1L527.3,302.3L527.5,296.5L527.6,295.6L527.8,282.0L528.0,282.0L528.2,305.6L528.4,305.2L528.6,303.5L528.8,298.2L529.0,295.8L529.2,302.6L529.4,304.1L529.6,304.0L529.8,304.0L530.0,303.5L530.2,296.9L530.4,297.8L530.6,304.7L530.8,304.9L531.0,305.5L531.2,305.3L531.4,303.3L531.6,297.9L531.8,298.5L532.0,305.1L532.2,306.6L532.4,307.8L532.6,306.7L532.8,305.9L533.0,301.8L533.2,300.1L533.4,305.3L533.6,305.5L533.8,305.6L534.0,305.5L534.2,305.4L534.4,299.7L534.6,301.0L534.8,306.4L535.0,307.6L535.2,307.3L535.4,307.5L535.6,307.0L535.8,303.6L536.0,303.8L536.2,307.8L536.4,308.2L536.6,309.4L536.7,308.7L536.9,309.1L537.1,305.3L537.3,305.4L537.5,309.7L537.7,310.5L537.9,310.7L538.1,310.9L538.3,310.3L538.5,308.0L538.7,307.7L538.9,310.1L539.1,310.3L539.3,310.9L539.5,311.4L539.7,310.2L539.9,308.3L540.1,309.0L540.3,311.5L540.5,311.9L540.7,311.8L540.9,311.6L541.1,310.4L541.3,308.6L541.5,308.1L541.7,310.9L541.9,311.0L542.1,311.4L542.3,311.0L542.5,310.5L542.7,308.4L542.9,308.8L543.1,311.2L543.3,311.2L543.5,312.0L543.7,311.4L543.9,310.8L544.1,309.1L544.3,308.5L544.5,311.0L544.7,311.4L544.9,311.7L545.1,311.8L545.3,311.2L545.5,309.4L545.6,308.6L545.8,311.0L546.0,311.0L546.2,310.8L546.4,311.1L546.6,310.1L546.8,308.2L547.0,307.9L547.2,310.3L547.4,310.6L547.6,310.5L547.8,310.2L548.0,309.7L548.2,307.8L548.4,308.0L548.6,310.7L548.8,311.1L549.0,310.9L549.2,310.2L549.4,310.0L549.6,308.4L549.8,308.3L550.0,310.2L550.2,310.7L550.4,310.8L550.6,310.2L550.8,309.7L551.0,307.8L551.2,307.5L551.4,310.5L551.6,310.6L551.8,310.5L552.0,310.8L552.2,309.7L552.4,308.6L552.6,307.9L552.8,310.5L553.0,310.5L553.2,310.9L553.4,310.2L553.6,309.9L553.8,308.3L554.0,308.3L554.2,310.7L554.4,310.5L554.6,310.8L554.7,310.9L554.9,310.6L555.1,308.8L555.3,309.0L555.5,311.2L555.7,311.5L555.9,312.0L556.1,311.9L556.3,311.6L556.5,310.2L556.7,309.7L556.9,311.7L557.1,312.4L557.3,312.2L557.5,312.1L557.7,311.6L557.9,309.9L558.1,310.2L558.3,312.1L558.5,312.7L558.7,312.6L558.9,312.0L559.1,312.3L559.3,310.8L559.5,310.8L559.7,312.6L559.9,312.9L560.1,313.1L560.3,312.5L560.5,312.7L560.7,311.2L560.9,310.7L561.1,312.3L561.3,312.7L561.5,312.8L561.7,312.9L561.9,312.7L562.1,311.0L562.3,311.4L562.5,313.0L562.7,312.7L562.9,313.0L563.1,312.8L563.3,312.2L563.5,310.6L563.6,310.6L563.8,312.9L564.0,312.8L564.2,313.0L564.4,313.1L564.6,312.7L564.8,311.3L565.0,311.4L565.2,312.9L565.4,313.0L565.6,313.5L565.8,313.2L566.0,312.7L566.2,311.7L566.4,311.2L566.6,312.8L566.8,313.0L567.0,313.2L567.2,312.8L567.4,312.4L567.6,311.3L567.8,311.1L568.0,312.6L568.2,313.1L568.4,312.8L568.6,312.9L568.8,312.8L569.0,311.2L569.2,311.2L569.4,312.4L569.6,313.2L569.8,312.5L570.0,312.3L570.2,312.1L570.4,310.9L570.6,310.6L570.8,312.7L571.0,313.1L571.2,312.9L571.4,312.8L571.6,312.7L571.8,311.5L572.0,311.2L572.2,312.4L572.4,312.8L572.5,312.8L572.7,312.6L572.9,312.3L573.1,309.9L573.3,309.5L573.5,312.3L573.7,312.5L573.9,311.8L574.1,311.7L574.3,311.5L574.5,308.8L574.7,309.2L574.9,311.5L575.1,311.7L575.3,312.4L575.5,312.5L575.7,312.0L575.9,310.4L576.1,310.8L576.3,313.0L576.5,313.5L576.7,313.3L576.9,313.5" class="d"/>
<path d="M83.3,315.30L83.8,315.30L84.3,315.30L84.8,315.30L85.3,315.30L85.8,315.30L86.3,315.30L86.8,315.30L87.3,315.30L87.8,315.30L88.3,315.30L88.8,315.30L89.3,315.30L89.8,315.30L90.3,315.30L90.8,315.30L91.3,315.30L91.8,315.30L92.3,315.30L92.8,315.30L93.3,315.30L93.8,315.30L94.3,315.29L94.8,315.29L95.3,315.29L95.8,315.29L96.3,315.29L96.8,315.29L97.3,315.29L97.8,315.29L98.3,315.29L98.8,315.29L99.3,315.29L99.8,315.29L100.3,315.29L100.8,315.29L101.3,315.29L101.8,315.29L102.3,315.29L102.8,315.29L103.3,315.29L103.8,315.29L104.3,315.29L104.8,315.29L105.3,315.29L105.8,315.29L106.3,315.29L106.8,315.29L107.3,315.29L107.8,315.29L108.3,315.29L108.8,315.29L109.3,315.29L109.8,315.29L110.3,315.29L110.8,315.29L111.3,315.29L111.8,315.29L112.3,315.29L112.8,315.29L113.3,315.29L113.8,315.29L114.3,315.29L114.8,315.29L115.3,315.29L115.8,315.29L116.3,315.28L116.8,315.28L117.3,315.28L117.8,315.28L118.3,315.28L118.8,315.28L119.3,315.28L119.8,315.28L120.3,315.28L120.8,315.28L121.3,315.28L121.8,315.28L122.3,315.28L122.8,315.28L123.3,315.28L123.8,315.28L124.3,315.28L124.8,315.28L125.3,315.28L125.8,315.28L126.3,315.28L126.8,315.28L127.3,315.28L127.8,315.28L128.3,315.28L128.8,315.28L129.3,315.28L129.8,315.28L130.3,315.28L130.8,315.28L131.3,315.28L131.8,315.28L132.3,315.28L132.8,315.28L133.3,315.28L133.8,315.28L134.3,315.28L134.8,315.28L135.3,315.28L135.8,315.28L136.3,315.28L136.8,315.28L137.3,315.28L137.8,315.27L138.3,315.27L138.8,315.27L139.3,315.27L139.8,315.27L140.3,315.27L140.8,315.27L141.3,315.27L141.8,315.27L142.3,315.27L142.8,315.27L143.3,315.27L143.8,315.27L144.3,315.27L144.8,315.27L145.3,315.27L145.8,315.27L146.3,315.27L146.8,315.27L147.3,315.27L147.8,315.27L148.3,315.27L148.8,315.27L149.3,315.27L149.8,315.27L150.3,315.27L150.8,315.27L151.3,315.27L151.8,315.27L152.3,315.27L152.8,315.27L153.3,315.27L153.8,315.27L154.3,315.27L154.8,315.27L155.3,315.27L155.8,315.27L156.3,315.27L156.8,315.27L157.3,315.27L157.8,315.27L158.3,315.27L158.8,315.27L159.3,315.26L159.8,315.26L160.3,315.26L160.8,315.26L161.3,315.26L161.8,315.26L162.3,315.26L162.8,315.26L163.3,315.26L163.8,315.26L164.3,315.26L164.8,315.26L165.3,315.26L165.8,315.26L166.3,315.26L166.8,315.26L167.3,315.26L167.8,315.26L168.3,315.26L168.8,315.26L169.3,315.26L169.8,315.26L170.3,315.26L170.8,315.26L171.3,315.26L171.8,315.26L172.3,315.26L172.8,315.26L173.3,315.26L173.8,315.26L174.3,315.26L174.8,315.26L175.3,315.26L175.8,315.26L176.3,315.26L176.8,315.26L177.3,315.26L177.8,315.26L178.3,315.26L178.8,315.26L179.3,315.26L179.8,315.26L180.3,315.26L180.8,315.26L181.3,315.25L181.8,315.25L182.3,315.25L182.8,315.25L183.3,315.25L183.8,315.25L184.3,315.25L184.8,315.25L185.3,315.25L185.8,315.25L186.3,315.25L186.8,315.25L187.3,315.25L187.8,315.25L188.3,315.25L188.8,315.25L189.3,315.25L189.8,315.25L190.3,315.25L190.8,315.25L191.3,315.25L191.8,315.25L192.3,315.25L192.8,315.25L193.3,315.25L193.8,315.25L194.3,315.25L194.8,315.25L195.3,315.25L195.8,315.25L196.3,315.25L196.8,315.25L197.3,315.25L197.8,315.25L198.3,315.25L198.8,315.25L199.3,315.25L199.8,315.25L200.3,315.25L200.8,315.25L201.3,315.25L201.8,315.25L202.3,315.25L202.8,315.24L203.3,315.24L203.8,315.24L204.3,315.24L204.8,315.24L205.3,315.24L205.8,315.24L206.3,315.24L206.8,315.24L207.3,315.24L207.8,315.24L208.3,315.24L208.8,315.24L209.3,315.24L209.8,315.24L210.3,315.24L210.8,315.24L211.3,315.24L211.8,315.24L212.3,315.24L212.8,315.24L213.3,315.24L213.8,315.24L214.3,315.24L214.8,315.24L215.3,315.24L215.8,315.24L216.3,315.24L216.8,315.24L217.3,315.24L217.8,315.24L218.3,315.24L218.8,315.24L219.3,315.24L219.8,315.24L220.3,315.24L220.8,315.24L221.3,315.24L221.8,315.24L222.3,315.24L222.8,315.24L223.3,315.24L223.8,315.24L224.3,315.23L224.8,315.23L225.3,315.23L225.8,315.23L226.3,315.23L226.8,315.23L227.3,315.23L227.8,315.23L228.3,315.23L228.8,315.23L229.3,315.23L229.8,315.23L230.3,315.23L230.8,315.23L231.3,315.23L231.8,315.23L232.3,315.23L232.8,315.23L233.3,315.23L233.8,315.23L234.3,315.23L234.8,315.23L235.3,315.23L235.8,315.23L236.3,315.23L236.8,315.23L237.3,315.23L237.8,315.23L238.3,315.23L238.8,315.23L239.3,315.23L239.8,315.23L240.3,315.23L240.8,315.23L241.3,315.23L241.8,315.23L242.3,315.23L242.8,315.23L243.3,315.23L243.8,315.23L244.3,315.23L244.8,315.23L245.3,315.23L245.8,315.23L246.3,315.22L246.8,315.22L247.3,315.22L247.8,315.22L248.3,315.22L248.8,315.22L249.3,315.22L249.8,315.22L250.3,315.22L250.8,315.22L251.3,315.22L251.8,315.22L252.3,315.22L252.8,315.22L253.3,315.22L253.8,315.22L254.3,315.22L254.8,315.22L255.3,315.22L255.8,315.22L256.3,315.22L256.8,315.22L257.3,315.22L257.8,315.22L258.3,315.22L258.8,315.22L259.3,315.22L259.8,315.22L260.3,315.22L260.8,315.22L261.3,315.22L261.8,315.22L262.3,315.22L262.8,315.22L263.3,315.22L263.8,315.22L264.3,315.22L264.8,315.22L265.3,315.22L265.8,315.22L266.3,315.22L266.8,315.22L267.3,315.22L267.8,315.21L268.3,315.21L268.8,315.21L269.3,315.21L269.8,315.21L270.3,315.21L270.8,315.21L271.3,315.21L271.8,315.21L272.3,315.21L272.8,315.21L273.3,315.21L273.8,315.21L274.3,315.21L274.8,315.21L275.3,315.21L275.8,315.21L276.3,315.21L276.8,315.21L277.3,315.21L277.8,315.21L278.3,315.21L278.8,315.21L279.3,315.21L279.8,315.21L280.3,315.21L280.8,315.21L281.3,315.21L281.8,315.21L282.3,315.21L282.8,315.21L283.3,315.21L283.8,315.21L284.3,315.21L284.8,315.21L285.3,315.21L285.8,315.21L286.3,315.21L286.8,315.21L287.3,315.21L287.8,315.21L288.3,315.21L288.8,315.21L289.3,315.20L289.8,315.20L290.3,315.20L290.8,315.20L291.3,315.20L291.8,315.20L292.3,315.20L292.8,315.20L293.3,315.20L293.8,315.20L294.3,315.20L294.8,315.20L295.3,315.20L295.8,315.20L296.3,315.20L296.8,315.20L297.3,315.20L297.8,315.20L298.3,315.20L298.8,315.20L299.3,315.20L299.8,315.19L300.3,315.19L300.8,315.18L301.3,315.18L301.8,315.17L302.3,315.16L302.8,315.16L303.3,315.15L303.8,315.14L304.3,315.14L304.8,315.13L305.3,315.12L305.8,315.11L306.3,315.11L306.8,315.10L307.3,315.09L307.8,315.08L308.3,315.08L308.8,315.07L309.3,315.06L309.8,315.05L310.3,315.05L310.8,315.04L311.3,315.03L311.8,315.02L312.3,315.02L312.8,315.01L313.3,315.00L313.8,314.99L314.3,314.99L314.8,314.98L315.3,314.97L315.8,314.96L316.3,314.96L316.8,314.95L317.3,314.94L317.8,314.93L318.3,314.93L318.8,314.92L319.3,314.91L319.8,314.90L320.3,314.90L320.8,314.89L321.3,314.88L321.8,314.87L322.3,314.87L322.8,314.86L323.3,314.85L323.8,314.84L324.3,314.84L324.8,314.83L325.3,314.82L325.8,314.81L326.3,314.81L326.8,314.80L327.3,314.79L327.8,314.78L328.3,314.78L328.8,314.77L329.3,314.76L329.8,314.75L330.3,314.75L330.8,314.74L331.3,314.73L331.8,314.72L332.3,314.72L332.8,314.71L333.3,314.70L333.8,314.69L334.3,314.69L334.8,314.68L335.3,314.67L335.8,314.66L336.3,314.66L336.8,314.65L337.3,314.64L337.8,314.63L338.3,314.62L338.8,314.61L339.3,314.59L339.8,314.57L340.3,314.54L340.8,314.51L341.3,314.48L341.8,314.44L342.3,314.40L342.8,314.36L343.3,314.31L343.8,314.27L344.3,314.23L344.8,314.18L345.3,314.14L345.8,314.10L346.3,314.05L346.8,314.01L347.3,313.97L347.8,313.92L348.3,313.88L348.8,313.84L349.3,313.79L349.8,313.75L350.3,313.71L350.8,313.66L351.3,313.62L351.8,313.58L352.3,313.53L352.8,313.49L353.3,313.44L353.8,313.39L354.3,313.34L354.8,313.29L355.3,313.23L355.8,313.16L356.3,313.09L356.8,313.02L357.3,312.95L357.8,312.88L358.3,312.80L358.8,312.73L359.3,312.65L359.8,312.58L360.3,312.50L360.8,312.43L361.3,312.35L361.8,312.28L362.3,312.20L362.8,312.13L363.3,312.05L363.8,311.96L364.3,311.88L364.8,311.79L365.3,311.69L365.8,311.58L366.3,311.48L366.8,311.36L367.3,311.25L367.8,311.13L368.3,311.01L368.8,310.89L369.3,310.77L369.8,310.64L370.3,310.51L370.8,310.36L371.3,310.21L371.8,310.04L372.3,309.86L372.8,309.67L373.3,309.46L373.8,309.25L374.3,309.04L374.8,308.82L375.3,308.59L375.8,308.37L376.3,308.15L376.8,307.92L377.3,307.70L377.8,307.47L378.3,307.23L378.8,306.99L379.3,306.73L379.8,306.46L380.3,306.17L380.8,305.87L381.3,305.55L381.8,305.22L382.3,304.88L382.8,304.53L383.3,304.18L383.8,303.84L384.3,303.48L384.8,303.13L385.3,302.78L385.8,302.43L386.3,302.08L386.8,301.72L387.3,301.36L387.8,300.99L388.3,300.62L388.8,300.23L389.3,299.83L389.8,299.43L390.3,299.01L390.8,298.59L391.3,298.17L391.8,297.74L392.3,297.31L392.8,296.87L393.3,296.43L393.8,295.98L394.3,295.51L394.8,295.03L395.3,294.53L395.8,294.01L396.3,293.48L396.8,292.93L397.3,292.38L397.8,291.81L398.3,291.24L398.8,290.66L399.3,290.07L399.8,289.47L400.3,288.84L400.8,288.19L401.3,287.52L401.8,286.82L402.3,286.09L402.8,285.35L403.3,284.60L403.8,283.85L404.3,283.09L404.8,282.33L405.3,281.58L405.8,280.83L406.3,280.08L406.8,279.34L407.3,278.59L407.8,277.85L408.3,277.11L408.8,276.38L409.3,275.64L409.8,274.91L410.3,274.19L410.8,273.48L411.3,272.78L411.8,272.09L412.3,271.42L412.8,270.77L413.3,270.16L413.8,269.59L414.3,269.05L414.8,268.56L415.3,268.11L415.8,267.69L416.3,267.32L416.8,266.99L417.3,266.72L417.8,266.51L418.3,266.39L418.8,266.36L419.3,266.41L419.8,266.55L420.3,266.75L420.8,267.01L421.3,267.33L421.8,267.68L422.3,268.09L422.8,268.53L423.3,269.00L423.8,269.51L424.3,270.03L424.8,270.56L425.3,271.11L425.8,271.66L426.3,272.23L426.8,272.82L427.3,273.42L427.8,274.05L428.3,274.71L428.8,275.39L429.3,276.09L429.8,276.80L430.3,277.53L430.8,278.26L431.3,279.00L431.8,279.74L432.3,280.49L432.8,281.25L433.3,282.01L433.8,282.77L434.3,283.54L434.8,284.31L435.3,285.08L435.8,285.86L436.3,286.64L436.8,287.42L437.3,288.22L437.8,289.03L438.3,289.84L438.8,290.66L439.3,291.49L439.8,292.32L440.3,293.15L440.8,293.98L441.3,294.80L441.8,295.62L442.3,296.44L442.8,297.25L443.3,298.05L443.8,298.85L444.3,299.64L444.8,300.43L445.3,301.20L445.8,301.96L446.3,302.69L446.8,303.40L447.3,304.07L447.8,304.72L448.3,305.33L448.8,305.92L449.3,306.49L449.8,307.04L450.3,307.57L450.8,308.08L451.3,308.56L451.8,309.01L452.3,309.43L452.8,309.81L453.3,310.16L453.8,310.48L454.3,310.79L454.8,311.08L455.3,311.36L455.8,311.62L456.3,311.87L456.8,312.11L457.3,312.33L457.8,312.53L458.3,312.72L458.8,312.91L459.3,313.08L459.8,313.24L460.3,313.41L460.8,313.56L461.3,313.71L461.8,313.85L462.3,313.98L462.8,314.08L463.3,314.17L463.8,314.24L464.3,314.29L464.8,314.33L465.3,314.36L465.8,314.38L466.3,314.39L466.8,314.41L467.3,314.43L467.8,314.44L468.3,314.46L468.8,314.47L469.3,314.49L469.8,314.50L470.3,314.51L470.8,314.53L471.3,314.54L471.8,314.56L472.3,314.57L472.8,314.59L473.3,314.60L473.8,314.62L474.3,314.63L474.8,314.65L475.3,314.66L475.8,314.68L476.3,314.69L476.8,314.71L477.3,314.72L477.8,314.73L478.3,314.75L478.8,314.76L479.3,314.76L479.8,314.77L480.3,314.77L480.8,314.77L481.3,314.77L481.8,314.76L482.3,314.75L482.8,314.74L483.3,314.73L483.8,314.72L484.3,314.71L484.8,314.70L485.3,314.69L485.8,314.68L486.3,314.67L486.8,314.66L487.3,314.65L487.8,314.64L488.3,314.62L488.8,314.60L489.3,314.57L489.8,314.54L490.3,314.49L490.8,314.44L491.3,314.38L491.8,314.32L492.3,314.25L492.8,314.18L493.3,314.10L493.8,314.03L494.3,313.95L494.8,313.88L495.3,313.80L495.8,313.73L496.3,313.65L496.8,313.58L497.3,313.50L497.8,313.42L498.3,313.33L498.8,313.24L499.3,313.14L499.8,313.02L500.3,312.90L500.8,312.75L501.3,312.60L501.8,312.43L502.3,312.26L502.8,312.09L503.3,311.91L503.8,311.73L504.3,311.55L504.8,311.37L505.3,311.19L505.8,311.01L506.3,310.83L506.8,310.65L507.3,310.47L507.8,310.29L508.3,310.11L508.8,309.94L509.3,309.76L509.8,309.58L510.3,309.41L510.8,309.24L511.3,309.06L511.8,308.89L512.3,308.72L512.8,308.56L513.3,308.39L513.8,308.22L514.3,308.05L514.8,307.88L515.3,307.72L515.8,307.55L516.3,307.39L516.8,307.24L517.3,307.10L517.8,306.97L518.3,306.86L518.8,306.76L519.3,306.67L519.8,306.59L520.3,306.51L520.8,306.44L521.3,306.38L521.8,306.31L522.3,306.25L522.8,306.20L523.3,306.14L523.8,306.10L524.3,306.07L524.8,306.06L525.3,306.07L525.8,306.09L526.3,306.13L526.8,306.17L527.3,306.23L527.8,306.30L528.3,306.36L528.8,306.43L529.3,306.50L529.8,306.57L530.3,306.64L530.8,306.71L531.3,306.78L531.8,306.85L532.3,306.92L532.8,306.99L533.3,307.06L533.8,307.14L534.3,307.21L534.8,307.29L535.3,307.36L535.8,307.44L536.3,307.53L536.8,307.61L537.3,307.69L537.8,307.78L538.3,307.86L538.8,307.95L539.3,308.03L539.8,308.12L540.3,308.20L540.8,308.29L541.3,308.37L541.8,308.46L542.3,308.54L542.8,308.63L543.3,308.71L543.8,308.80L544.3,308.89L544.8,308.98L545.3,309.07L545.8,309.16L546.3,309.26L546.8,309.35L547.3,309.45L547.8,309.54L548.3,309.64L548.8,309.73L549.3,309.83L549.8,309.93L550.3,310.02L550.8,310.12L551.3,310.22L551.8,310.31L552.3,310.41L552.8,310.51L553.3,310.60L553.8,310.70L554.3,310.80L554.8,310.89L555.3,310.99L555.8,311.09L556.3,311.18L556.8,311.28L557.3,311.38L557.8,311.47L558.3,311.56L558.8,311.65L559.3,311.74L559.8,311.82L560.3,311.90L560.8,311.97L561.3,312.04L561.8,312.11L562.3,312.17L562.8,312.23L563.3,312.29L563.8,312.35L564.3,312.41L564.8,312.46L565.3,312.52L565.8,312.58L566.3,312.64L566.8,312.70L567.3,312.76L567.8,312.82L568.3,312.88L568.8,312.94L569.3,312.99L569.8,313.05L570.3,313.11L570.8,313.17L571.3,313.23L571.8,313.29L572.3,313.35L572.8,313.41L573.3,313.46L573.8,313.52L574.3,313.58L574.8,313.63L575.3,313.69L575.8,313.73L576.3,313.77L576.8,313.81" class="t"/>
<path d="M83.30,316.20V20.00H577.00V316.20Z" class="f"/>
<line x1="77.30" y1="316.00" x2="83.30" y2="316.00" class="k"/>
<text x="71.80" y="321.00" class="yl">0</text>
<line x1="77.30" y1="260.68" x2="83.30" y2="260.68" class="k"/>
<text x="71.80" y="265.68" class="yl">4,000,000</text>
<line x1="77.30" y1="205.36" x2="83.30" y2="205.36" class="k"/>
<text x="71.80" y="210.36" class="yl">8,000,000</text>
<line x1="77.30" y1="150.04" x2="83.30" y2="150.04" class="k"/>
<text x="71.80" y="155.04" class="yl">12,000,000</text>
<line x1="77.30" y1="94.72" x2="83.30" y2="94.72" class="k"/>
<text x="71.80" y="99.72" class="yl">16,000,000</text>
<line x1="77.30" y1="39.40" x2="83.30" y2="39.40" class="k"/>
<text x="71.80" y="44.40" class="yl">20,000,000</text>
<line x1="83.30" y1="316.20" x2="83.30" y2="322.80" class="k"/>
<line x1="89.77" y1="316.20" x2="89.77" y2="320.00" class="k"/>
<line x1="95.78" y1="316.20" x2="95.78" y2="320.00" class="k"/>
<line x1="101.80" y1="316.20" x2="101.80" y2="320.00" class="k"/>
<line x1="107.82" y1="316.20" x2="107.82" y2="322.80" class="k"/>
<line x1="113.84" y1="316.20" x2="113.84" y2="320.00" class="k"/>
<line x1="119.85" y1="316.20" x2="119.85" y2="320.00" class="k"/>
<line x1="125.87" y1="316.20" x2="125.87" y2="320.00" class="k"/>
<line x1="131.89" y1="316.20" x2="131.89" y2="322.80" class="k"/>
<line x1="137.90" y1="316.20" x2="137.90" y2="320.00" class="k"/>
<line x1="143.92" y1="316.20" x2="143.92" y2="320.00" class="k"/>
<line x1="149.94" y1="316.20" x2="149.94" y2="320.00" class="k"/>
<line x1="155.95" y1="316.20" x2="155.95" y2="322.80" class="k"/>
<line x1="161.97" y1="316.20" x2="161.97" y2="320.00" class="k"/>
<line x1="167.99" y1="316.20" x2="167.99" y2="320.00" class="k"/>
<line x1="174.00" y1="316.20" x2="174.00" y2="320.00" class="k"/>
<line x1="180.02" y1="316.20" x2="180.02" y2="322.80" class="k"/>
<line x1="186.04" y1="316.20" x2="186.04" y2="320.00" class="k"/>
<line x1="192.06" y1="316.20" x2="192.06" y2="320.00" class="k"/>
<line x1="198.07" y1="316.20" x2="198.07" y2="320.00" class="k"/>
<line x1="204.09" y1="316.20" x2="204.09" y2="322.80" class="k"/>
<line x1="210.11" y1="316.20" x2="210.11" y2="320.00" class="k"/>
<line x1="216.12" y1="316.20" x2="216.12" y2="320.00" class="k"/>
<line x1="222.14" y1="316.20" x2="222.14" y2="320.00" class="k"/>
<line x1="228.16" y1="316.20" x2="228.16" y2="322.80" class="k"/>
<line x1="234.18" y1="316.20" x2="234.18" y2="320.00" class="k"/>
<line x1="240.19" y1="316.20" x2="240.19" y2="320.00" class="k"/>
<line x1="246.21" y1="316.20" x2="246.21" y2="320.00" class="k"/>
<line x1="252.23" y1="316.20" x2="252.23" y2="322.80" class="k"/>
<line x1="258.24" y1="316.20" x2="258.24" y2="320.00" class="k"/>
<line x1="264.26" y1="316.20" x2="264.26" y2="320.00" class="k"/>
<line x1="270.28" y1="316.20" x2="270.28" y2="320.00" class="k"/>
<line x1="276.29" y1="316.20" x2="276.29" y2="322.80" class="k"/>
<line x1="282.31" y1="316.20" x2="282.31" y2="320.00" class="k"/>
<line x1="288.33" y1="316.20" x2="288.33" y2="320.00" class="k"/>
<line x1="294.35" y1="316.20" x2="294.35" y2="320.00" class="k"/>
<line x1="300.36" y1="316.20" x2="300.36" y2="322.80" class="k"/>
<line x1="306.38" y1="316.20" x2="306.38" y2="320.00" class="k"/>
<line x1="312.40" y1="316.20" x2="312.40" y2="320.00" class="k"/>
<line x1="318.41" y1="316.20" x2="318.41" y2="320.00" class="k"/>
<line x1="324.43" y1="316.20" x2="324.43" y2="322.80" class="k"/>
<line x1="330.45" y1="316.20" x2="330.45" y2="320.00" class="k"/>
<line x1="336.46" y1="316.20" x2="336.46" y2="320.00" class="k"/>
<line x1="342.48" y1="316.20" x2="342.48" y2="320.00" class="k"/>
<line x1="348.50" y1="316.20" x2="348.50" y2="322.80" class="k"/>
<line x1="354.52" y1="316.20" x2="354.52" y2="320.00" class="k"/>
<line x1="360.53" y1="316.20" x2="360.53" y2="320.00" class="k"/>
<line x1="366.55" y1="316.20" x2="366.55" y2="320.00" class="k"/>
<line x1="372.57" y1="316.20" x2="372.57" y2="322.80" class="k"/>
<line x1="378.58" y1="316.20" x2="378.58" y2="320.00" class="k"/>
<line x1="384.60" y1="316.20" x2="384.60" y2="320.00" class="k"/>
<line x1="390.62" y1="316.20" x2="390.62" y2="320.00" class="k"/>
<line x1="396.63" y1="316.20" x2="396.63" y2="322.80" class="k"/>
<line x1="402.65" y1="316.20" x2="402.65" y2="320.00" class="k"/>
<line x1="408.67" y1="316.20" x2="408.67" y2="320.00" class="k"/>
<line x1="414.69" y1="316.20" x2="414.69" y2="320.00" class="k"/>
<line x1="420.70" y1="316.20" x2="420.70" y2="322.80" class="k"/>
<line x1="426.72" y1="316.20" x2="426.72" y2="320.00" class="k"/>
<line x1="432.74" y1="316.20" x2="432.74" y2="320.00" class="k"/>
<line x1="438.75" y1="316.20" x2="438.75" y2="320.00" class="k"/>
<line x1="444.77" y1="316.20" x2="444.77" y2="322.80" class="k"/>
<line x1="450.79" y1="316.20" x2="450.79" y2="320.00" class="k"/>
<line x1="456.80" y1="316.20" x2="456.80" y2="320.00" class="k"/>
<line x1="462.82" y1="316.20" x2="462.82" y2="320.00" class="k"/>
<line x1="468.84" y1="316.20" x2="468.84" y2="322.80" class="k"/>
<line x1="474.86" y1="316.20" x2="474.86" y2="320.00" class="k"/>
<line x1="480.87" y1="316.20" x2="480.87" y2="320.00" class="k"/>
<line x1="486.89" y1="316.20" x2="486.89" y2="320.00" class="k"/>
<line x1="492.91" y1="316.20" x2="492.91" y2="322.80" class="k"/>
<line x1="498.92" y1="316.20" x2="498.92" y2="320.00" class="k"/>
<line x1="504.94" y1="316.20" x2="504.94" y2="320.00" class="k"/>
<line x1="510.96" y1="316.20" x2="510.96" y2="320.00" class="k"/>
<line x1="516.97" y1="316.20" x2="516.97" y2="322.80" class="k"/>
<line x1="522.99" y1="316.20" x2="522.99" y2="320.00" class="k"/>
<line x1="529.01" y1="316.20" x2="529.01" y2="320.00" class="k"/>
<line x1="535.03" y1="316.20" x2="535.03" y2="320.00" class="k"/>
<line x1="541.04" y1="316.20" x2="541.04" y2="322.80" class="k"/>
<line x1="547.06" y1="316.20" x2="547.06" y2="320.00" class="k"/>
<line x1="553.08" y1="316.20" x2="553.08" y2="320.00" class="k"/>
<line x1="559.09" y1="316.20" x2="559.09" y2="320.00" class="k"/>
<line x1="565.11" y1="316.20" x2="565.11" y2="322.80" class="k"/>
<line x1="571.13" y1="316.20" x2="571.13" y2="320.00" class="k"/>
<line x1="577.00" y1="316.20" x2="577.00" y2="320.00" class="k"/>
<text x="90.05" y="333.80" transform="rotate(-45 90.05 333.80)" class="ml">May</text>
<text x="114.12" y="333.80" transform="rotate(-45 114.12 333.80)" class="ml">Sep</text>
<text x="138.19" y="333.80" transform="rotate(-45 138.19 333.80)" class="ml">Jan</text>
<text x="162.25" y="333.80" transform="rotate(-45 162.25 333.80)" class="ml">May</text>
<text x="186.32" y="333.80" transform="rotate(-45 186.32 333.80)" class="ml">Sep</text>
<text x="210.39" y="333.80" transform="rotate(-45 210.39 333.80)" class="ml">Jan</text>
<text x="234.46" y="333.80" transform="rotate(-45 234.46 333.80)" class="ml">May</text>
<text x="258.53" y="333.80" transform="rotate(-45 258.53 333.80)" class="ml">Sep</text>
<text x="282.59" y="333.80" transform="rotate(-45 282.59 333.80)" class="ml">Jan</text>
<text x="306.66" y="333.80" transform="rotate(-45 306.66 333.80)" class="ml">May</text>
<text x="330.73" y="333.80" transform="rotate(-45 330.73 333.80)" class="ml">Sep</text>
<text x="354.80" y="333.80" transform="rotate(-45 354.80 333.80)" class="ml">Jan</text>
<text x="378.87" y="333.80" transform="rotate(-45 378.87 333.80)" class="ml">May</text>
<text x="402.93" y="333.80" transform="rotate(-45 402.93 333.80)" class="ml">Sep</text>
<text x="427.00" y="333.80" transform="rotate(-45 427.00 333.80)" class="ml">Jan</text>
<text x="451.07" y="333.80" transform="rotate(-45 451.07 333.80)" class="ml">May</text>
<text x="475.14" y="333.80" transform="rotate(-45 475.14 333.80)" class="ml">Sep</text>
<text x="499.21" y="333.80" transform="rotate(-45 499.21 333.80)" class="ml">Jan</text>
<text x="523.27" y="333.80" transform="rotate(-45 523.27 333.80)" class="ml">May</text>
<text x="547.34" y="333.80" transform="rotate(-45 547.34 333.80)" class="ml">Sep</text>
<text x="571.41" y="333.80" transform="rotate(-45 571.41 333.80)" class="ml">Jan</text>
<text x="97.71" y="369.00" class="yr">2013</text>
<text x="157.88" y="369.00" class="yr">2014</text>
<text x="229.60" y="369.00" class="yr">2015</text>
<text x="305.18" y="369.00" class="yr">2016</text>
<text x="377.38" y="369.00" class="yr">2017</text>
<text x="449.58" y="369.00" class="yr">2018</text>
<text x="519.38" y="369.00" class="yr">2019</text>
<text x="567.52" y="369.00" class="yr">2020</text>
<text x="333.30" y="11.70" class="ti">Miner's Revenue</text>
<line x1="697.80" y1="273.76" x2="1191.70" y2="273.76" class="g"/>
<line x1="697.80" y1="231.51" x2="1191.70" y2="231.51" class="g"/>
<line x1="697.80" y1="189.27" x2="1191.70" y2="189.27" class="g"/>
<line x1="697.80" y1="147.03" x2="1191.70" y2="147.03" class="g"/>
<line x1="697.80" y1="104.79" x2="1191.70" y2="104.79" class="g"/>
<line x1="697.80" y1="62.54" x2="1191.70" y2="62.54" class="g"/>
<line x1="722.43" y1="20.30" x2="722.43" y2="316.30" class="g"/>
<line x1="746.49" y1="20.30" x2="746.49" y2="316.30" class="g"/>
<line x1="770.55" y1="20.30" x2="770.55" y2="316.30" class="g"/>
<line x1="794.61" y1="20.30" x2="794.61" y2="316.30" class="g"/>
<line x1="818.67" y1="20.30" x2="818.67" y2="316.30" class="g"/>
<line x1="842.73" y1="20.30" x2="842.73" y2="316.30" class="g"/>
<line x1="866.79" y1="20.30" x2="866.79" y2="316.30" class="g"/>
<line x1="890.85" y1="20.30" x2="890.85" y2="316.30" class="g"/>
<line x1="914.91" y1="20.30" x2="914.91" y2="316.30" class="g"/>
<line x1="938.97" y1="20.30" x2="938.97" y2="316.30" class="g"/>
<line x1="963.03" y1="20.30" x2="963.03" y2="316.30" class="g"/>
<line x1="987.09" y1="20.30" x2="987.09" y2="316.30" class="g"/>
<line x1="1011.15" y1="20.30" x2="1011.15" y2="316.30" class="g"/>
<line x1="1035.21" y1="20.30" x2="1035.21" y2="316.30" class="g"/>
<line x1="1059.27" y1="20.30" x2="1059.27" y2="316.30" class="g"/>
<line x1="1083.33" y1="20.30" x2="1083.33" y2="316.30" class="g"/>
<line x1="1107.39" y1="20.30" x2="1107.39" y2="316.30" class="g"/>
<line x1="1131.45" y1="20.30" x2="1131.45" y2="316.30" class="g"/>
<line x1="1155.51" y1="20.30" x2="1155.51" y2="316.30" class="g"/>
<line x1="1179.57" y1="20.30" x2="1179.57" y2="316.30" class="g"/>
<path d="M697.9,302.8L698.1,304.4L698.3,302.4L698.5,299.5L698.7,299.8L698.9,296.1L699.1,293.8L699.3,303.9L699.5,304.7L699.7,303.8L699.9,303.8L700.1,289.0L700.3,289.0L700.5,294.5L700.7,303.3L700.9,305.0L701.1,303.7L701.3,302.2L701.5,303.2L701.7,295.7L701.9,296.7L702.1,304.7L702.3,304.0L702.5,305.4L702.6,303.4L702.8,304.3L703.0,299.1L703.2,297.4L703.4,303.4L703.6,301.9L703.8,304.4L704.0,302.5L704.2,303.5L704.4,299.4L704.6,297.1L704.8,304.4L705.0,305.1L705.2,306.6L705.4,304.4L705.6,303.7L705.8,297.9L706.0,299.2L706.2,305.0L706.4,303.6L706.6,303.4L706.8,303.4L707.0,302.6L707.2,298.9L707.4,297.3L707.6,304.3L707.8,304.7L708.0,304.3L708.2,303.8L708.4,304.5L708.6,299.8L708.8,300.4L709.0,306.7L709.2,306.7L709.4,306.7L709.6,305.7L709.8,305.3L710.0,301.0L710.2,299.7L710.4,306.1L710.6,305.3L710.8,306.6L711.0,304.1L711.2,301.9L711.4,297.2L711.6,297.5L711.8,303.3L711.9,305.7L712.1,304.2L712.3,305.4L712.5,304.1L712.7,297.7L712.9,296.6L713.1,303.2L713.3,303.8L713.5,306.1L713.7,303.8L713.9,303.9L714.1,298.6L714.3,299.0L714.5,302.8L714.7,303.8L714.9,303.4L715.1,303.5L715.3,303.9L715.5,299.7L715.7,300.0L715.9,303.8L716.1,305.3L716.3,304.8L716.5,304.9L716.7,302.6L716.9,298.6L717.1,292.0L717.3,292.0L717.5,302.8L717.7,302.6L717.9,300.7L718.1,302.0L718.3,297.6L718.5,296.2L718.7,305.5L718.9,304.9L719.1,305.9L719.3,307.2L719.5,304.3L719.7,300.2L719.9,299.4L720.1,304.2L720.3,303.3L720.5,304.3L720.7,305.7L720.9,303.6L721.1,299.7L721.2,299.1L721.4,305.5L721.6,305.1L721.8,306.0L722.0,305.2L722.2,303.0L722.4,299.2L722.6,298.6L722.8,304.7L723.0,303.5L723.2,304.3L723.4,303.3L723.6,300.8L723.8,297.8L724.0,298.7L724.2,304.0L724.4,304.9L724.6,303.0L724.8,305.7L725.0,303.3L725.2,298.3L725.4,296.9L725.6,303.5L725.8,303.9L726.0,303.7L726.2,302.8L726.4,301.7L726.6,297.9L726.8,296.3L727.0,302.2L727.2,302.5L727.4,304.4L727.6,302.1L727.8,301.1L728.0,297.8L728.2,295.3L728.4,301.7L728.6,302.8L728.8,301.9L729.0,301.9L729.2,301.7L729.4,297.3L729.6,295.5L729.8,301.3L730.0,302.7L730.2,301.5L730.4,301.2L730.5,299.4L730.7,296.4L730.9,295.1L731.1,301.5L731.3,302.5L731.5,302.3L731.7,302.3L731.9,301.1L732.1,296.5L732.3,297.1L732.5,302.6L732.7,300.5L732.9,302.0L733.1,300.9L733.3,300.0L733.5,296.9L733.7,295.4L733.9,298.7L734.1,301.4L734.3,300.2L734.5,299.9L734.7,299.9L734.9,295.8L735.1,293.7L735.3,300.6L735.5,300.4L735.7,300.7L735.9,301.4L736.1,297.6L736.3,292.9L736.5,291.7L736.7,300.5L736.9,301.4L737.1,302.2L737.3,298.2L737.5,298.4L737.7,291.0L737.9,291.3L738.1,300.3L738.3,299.6L738.5,302.7L738.7,298.2L738.9,294.8L739.1,272.0L739.3,272.0L739.5,297.7L739.7,297.7L739.8,297.2L740.0,298.0L740.2,294.1L740.4,287.1L740.6,283.4L740.8,297.5L741.0,300.9L741.2,298.0L741.4,300.0L741.6,298.9L741.8,286.1L742.0,282.8L742.2,294.6L742.4,295.7L742.6,295.1L742.8,294.4L743.0,290.6L743.2,278.2L743.4,277.9L743.6,296.1L743.8,298.9L744.0,298.8L744.2,298.6L744.4,298.5L744.6,282.7L744.8,280.5L745.0,295.2L745.2,291.8L745.4,288.7L745.6,290.3L745.8,289.0L746.0,279.6L746.2,279.5L746.4,291.1L746.6,289.3L746.8,288.5L747.0,287.7L747.2,287.1L747.4,276.8L747.6,274.5L747.8,287.5L748.0,288.9L748.2,289.2L748.4,286.3L748.6,283.0L748.8,279.3L749.0,274.6L749.1,286.3L749.3,285.8L749.5,285.6L749.7,284.3L749.9,281.9L750.1,273.4L750.3,273.4L750.5,281.8L750.7,284.1L750.9,281.0L751.1,278.5L751.3,275.2L751.5,273.2L751.7,273.1L751.9,284.4L752.1,286.9L752.3,287.0L752.5,287.5L752.7,280.7L752.9,277.8L753.1,277.5L753.3,284.2L753.5,290.1L753.7,290.4L753.9,283.8L754.1,284.0L754.3,272.7L754.5,272.6L754.7,279.7L754.9,281.0L755.1,284.1L755.3,282.3L755.5,285.3L755.7,272.8L755.9,277.2L756.1,286.4L756.3,286.6L756.5,285.9L756.7,285.8L756.9,278.9L757.1,275.4L757.3,276.0L757.5,286.2L757.7,290.7L757.9,286.2L758.1,265.0L758.3,265.0L758.4,279.8L758.6,275.5L758.8,288.5L759.0,290.8L759.2,292.6L759.4,290.0L759.6,289.6L759.8,279.0L760.0,279.4L760.2,289.1L760.4,284.8L760.6,285.8L760.8,283.9L761.0,287.8L761.2,276.8L761.4,274.9L761.6,285.0L761.8,287.2L762.0,287.5L762.2,282.9L762.4,283.5L762.6,272.9L762.8,273.8L763.0,284.8L763.2,286.0L763.4,284.5L763.6,284.5L763.8,284.1L764.0,273.1L764.2,272.3L764.4,283.8L764.6,285.4L764.8,285.9L765.0,286.8L765.2,284.9L765.4,278.8L765.6,275.1L765.8,284.7L766.0,285.5L766.2,284.8L766.4,287.8L766.6,285.2L766.8,279.0L767.0,280.7L767.2,289.1L767.4,291.3L767.6,291.1L767.7,289.3L767.9,288.5L768.1,280.5L768.3,281.9L768.5,291.1L768.7,291.1L768.9,291.0L769.1,289.1L769.3,286.1L769.5,279.0L769.7,277.3L769.9,286.6L770.1,289.7L770.3,286.7L770.5,287.0L770.7,282.8L770.9,272.5L771.1,273.5L771.3,284.0L771.5,286.2L771.7,283.4L771.9,283.5L772.1,281.9L772.3,273.7L772.5,273.3L772.7,286.5L772.9,283.0L773.1,283.3L773.3,284.0L773.5,283.1L773.7,274.6L773.9,272.0L774.1,284.0L774.3,286.0L774.5,287.1L774.7,287.3L774.9,286.0L775.1,276.6L775.3,277.0L775.5,288.6L775.7,288.4L775.9,290.0L776.1,288.3L776.3,283.9L776.5,274.0L776.7,274.4L776.9,286.1L777.0,285.1L777.2,288.3L777.4,287.6L777.6,284.7L777.8,277.9L778.0,276.6L778.2,283.2L778.4,282.0L778.6,284.5L778.8,283.5L779.0,276.7L779.2,270.6L779.4,270.2L779.6,281.6L779.8,281.7L780.0,284.8L780.2,282.9L780.4,277.1L780.6,273.3L780.8,271.7L781.0,280.3L781.2,284.6L781.4,280.9L781.6,279.6L781.8,276.1L782.0,269.2L782.2,269.2L782.4,280.5L782.6,277.8L782.8,282.2L783.0,271.0L783.2,271.0L783.4,274.0L783.6,271.6L783.8,281.4L784.0,282.2L784.2,285.5L784.4,286.9L784.6,283.7L784.8,275.9L785.0,271.8L785.2,288.9L785.4,288.9L785.6,286.4L785.8,282.7L786.0,278.0L786.2,269.0L786.3,267.6L786.5,277.7L786.7,279.0L786.9,281.0L787.1,279.8L787.3,275.2L787.5,268.2L787.7,267.1L787.9,273.4L788.1,275.6L788.3,275.3L788.5,275.2L788.7,272.5L788.9,266.6L789.1,266.5L789.3,277.3L789.5,278.6L789.7,279.5L789.9,277.8L790.1,278.4L790.3,270.1L790.5,266.0L790.7,275.7L790.9,279.3L791.1,279.9L791.3,286.9L791.5,281.4L791.7,271.5L791.9,269.7L792.1,284.3L792.3,285.8L792.5,286.1L792.7,286.0L792.9,280.8L793.1,273.9L793.3,270.2L793.5,283.8L793.7,287.9L793.9,287.8L794.1,287.1L794.3,283.9L794.5,270.5L794.7,268.6L794.9,280.7L795.1,283.1L795.3,282.0L795.5,281.9L795.6,277.2L795.8,265.0L796.0,264.5L796.2,276.8L796.4,274.6L796.6,274.0L796.8,273.0L797.0,275.0L797.2,263.2L797.4,263.0L797.6,277.6L797.8,275.3L798.0,278.8L798.2,280.4L798.4,275.3L798.6,267.4L798.8,265.5L799.0,274.9L799.2,278.5L799.4,279.3L799.6,275.1L799.8,275.8L800.0,263.7L800.2,266.0L800.4,278.7L800.6,280.7L800.8,276.9L801.0,277.4L801.2,271.8L801.4,264.0L801.6,260.9L801.8,276.5L802.0,281.2L802.2,279.9L802.4,274.4L802.6,274.3L802.8,264.3L803.0,260.2L803.2,274.3L803.4,276.6L803.6,277.6L803.8,276.9L804.0,278.0L804.2,266.4L804.4,263.4L804.6,278.3L804.8,283.9L805.0,281.0L805.1,282.1L805.3,277.6L805.5,266.5L805.7,260.8L805.9,271.3L806.1,273.1L806.3,275.1L806.5,271.8L806.7,268.4L806.9,262.1L807.1,261.5L807.3,276.7L807.5,276.4L807.7,276.7L807.9,274.2L808.1,270.1L808.3,259.3L808.5,259.9L808.7,272.8L808.9,275.3L809.1,267.8L809.3,267.2L809.5,264.8L809.7,259.9L809.9,257.7L810.1,272.3L810.3,271.8L810.5,276.9L810.7,273.8L810.9,272.6L811.1,262.1L811.3,265.4L811.5,281.4L811.7,278.9L811.9,279.2L812.1,278.8L812.3,273.8L812.5,258.7L812.7,256.6L812.9,271.0L813.1,272.5L813.3,277.0L813.5,272.9L813.7,275.1L813.9,260.0L814.1,257.6L814.3,271.1L814.4,275.9L814.6,275.6L814.8,274.5L815.0,271.5L815.2,255.4L815.4,254.8L815.6,272.1L815.8,274.2L816.0,274.9L816.2,272.2L816.4,271.0L816.6,258.3L816.8,255.2L817.0,270.5L817.2,276.1L817.4,276.6L817.6,274.5L817.8,271.5L818.0,285.0L818.2,285.0L818.4,270.6L818.6,273.1L818.8,278.1L819.0,272.5L819.2,270.1L819.4,260.0L819.6,256.2L819.8,268.5L820.0,271.4L820.2,269.3L820.4,273.4L820.6,272.0L820.8,257.0L821.0,257.6L821.2,274.2L821.4,278.0L821.6,280.1L821.8,280.0L822.0,274.3L822.2,264.3L822.4,264.0L822.6,273.7L822.8,277.6L823.0,279.6L823.2,278.4L823.4,271.4L823.6,256.3L823.7,258.2L823.9,268.8L824.1,268.7L824.3,270.1L824.5,272.6L824.7,267.6L824.9,255.7L825.1,256.0L825.3,271.7L825.5,271.1L825.7,270.8L825.9,271.8L826.1,272.4L826.3,260.2L826.5,258.0L826.7,270.6L826.9,243.0L827.1,243.0L827.3,273.3L827.5,270.8L827.7,256.8L827.9,256.7L828.1,271.2L828.3,271.7L828.5,274.4L828.7,268.9L828.9,272.1L829.1,263.3L829.3,257.5L829.5,267.5L829.7,275.0L829.9,276.2L830.1,275.2L830.3,276.6L830.5,259.3L830.7,262.1L830.9,273.4L831.1,270.6L831.3,269.9L831.5,270.1L831.7,270.7L831.9,261.8L832.1,259.7L832.3,273.6L832.5,275.9L832.7,272.2L832.9,269.4L833.0,267.4L833.2,262.4L833.4,260.5L833.6,270.2L833.8,275.5L834.0,272.5L834.2,275.3L834.4,273.9L834.6,262.2L834.8,261.5L835.0,273.0L835.2,272.9L835.4,271.9L835.6,273.4L835.8,267.2L836.0,258.5L836.2,258.0L836.4,267.3L836.6,270.7L836.8,273.2L837.0,270.4L837.2,269.4L837.4,256.4L837.6,253.0L837.8,265.4L838.0,265.5L838.2,267.1L838.4,266.4L838.6,263.1L838.8,256.4L839.0,254.5L839.2,266.4L839.4,270.0L839.6,268.7L839.8,266.9L840.0,268.2L840.2,256.2L840.4,256.3L840.6,267.2L840.8,270.9L841.0,269.8L841.2,272.2L841.4,268.5L841.6,261.6L841.8,257.5L842.0,269.1L842.2,267.0L842.3,268.3L842.5,265.0L842.7,265.5L842.9,256.3L843.1,253.9L843.3,263.2L843.5,263.3L843.7,263.8L843.9,264.0L844.1,263.4L844.3,255.0L844.5,252.9L844.7,262.5L844.9,261.3L845.1,260.4L845.3,262.6L845.5,260.0L845.7,254.9L845.9,250.9L846.1,260.9L846.3,260.7L846.5,263.7L846.7,263.5L846.9,264.2L847.1,254.0L847.3,255.4L847.5,266.3L847.7,267.4L847.9,265.8L848.1,266.4L848.3,261.9L848.5,253.9L848.7,252.3L848.9,268.2L849.1,241.0L849.3,241.0L849.5,261.3L849.7,258.7L849.9,246.9L850.1,245.0L850.3,264.2L850.5,262.6L850.7,267.5L850.9,263.6L851.1,261.3L851.3,248.3L851.5,243.2L851.6,260.4L851.8,262.9L852.0,266.4L852.2,265.6L852.4,264.5L852.6,250.6L852.8,252.4L853.0,258.9L853.2,259.8L853.4,260.3L853.6,261.4L853.8,256.9L854.0,246.0L854.2,243.5L854.4,256.5L854.6,260.9L854.8,255.9L855.0,242.0L855.2,242.0L855.4,242.2L855.6,239.0L855.8,251.6L856.0,253.1L856.2,250.5L856.4,249.9L856.6,247.6L856.8,238.9L857.0,241.6L857.2,255.7L857.4,257.1L857.6,259.2L857.8,254.8L858.0,249.9L858.2,243.5L858.4,242.1L858.6,254.7L858.8,259.5L859.0,261.6L859.2,261.1L859.4,257.2L859.6,247.2L859.8,245.0L860.0,255.9L860.2,258.0L860.4,261.7L860.6,261.3L860.8,255.9L860.9,247.5L861.1,241.8L861.3,256.4L861.5,255.5L861.7,254.0L861.9,257.0L862.1,263.2L862.3,246.5L862.5,246.4L862.7,263.4L862.9,265.6L863.1,263.6L863.3,261.6L863.5,259.7L863.7,251.9L863.9,247.1L864.1,261.7L864.3,260.7L864.5,261.0L864.7,263.4L864.9,262.1L865.1,252.5L865.3,248.9L865.5,264.4L865.7,262.8L865.9,259.3L866.1,258.5L866.3,256.2L866.5,251.5L866.7,247.4L866.9,260.4L867.1,261.6L867.3,260.9L867.5,262.5L867.7,257.9L867.9,246.3L868.1,245.2L868.3,257.4L868.5,261.7L868.7,259.5L868.9,261.3L869.1,260.5L869.3,248.1L869.5,246.3L869.7,262.5L869.9,259.1L870.1,262.1L870.2,261.0L870.4,255.3L870.6,246.7L870.8,241.8L871.0,255.0L871.2,257.5L871.4,263.2L871.6,261.3L871.8,262.8L872.0,263.0L872.2,263.0L872.4,263.2L872.6,262.6L872.8,261.9L873.0,261.2L873.2,256.5L873.4,244.4L873.6,239.0L873.8,255.2L874.0,251.9L874.2,254.2L874.4,253.4L874.6,250.3L874.8,237.8L875.0,234.7L875.2,246.9L875.4,246.0L875.6,246.7L875.8,243.1L876.0,240.0L876.2,225.4L876.4,227.2L876.6,242.1L876.8,244.5L877.0,246.4L877.2,249.5L877.4,247.9L877.6,236.2L877.8,233.7L878.0,248.6L878.2,251.0L878.4,251.0L878.6,251.0L878.8,249.4L879.0,210.0L879.2,210.0L879.4,248.5L879.5,250.1L879.7,249.9L879.9,246.3L880.1,246.7L880.3,232.8L880.5,226.6L880.7,247.4L880.9,247.9L881.1,250.6L881.3,242.2L881.5,239.5L881.7,218.2L881.9,215.9L882.1,238.5L882.3,241.1L882.5,244.5L882.7,242.5L882.9,240.3L883.1,219.0L883.3,208.2L883.5,233.0L883.7,236.6L883.9,240.0L884.1,239.2L884.3,233.5L884.5,211.4L884.7,215.7L884.9,237.5L885.1,241.2L885.3,239.0L885.5,241.2L885.7,235.0L885.9,211.5L886.1,204.4L886.3,244.4L886.5,238.7L886.7,232.3L886.9,238.0L887.1,227.2L887.3,209.9L887.5,209.3L887.7,224.1L887.9,234.0L888.1,233.0L888.3,231.1L888.5,228.5L888.7,209.8L888.8,200.7L889.0,229.8L889.2,231.5L889.4,222.6L889.6,226.1L889.8,212.7L890.0,249.0L890.2,249.0L890.4,226.1L890.6,229.5L890.8,237.1L891.0,236.8L891.2,234.5L891.4,213.4L891.6,202.7L891.8,232.6L892.0,235.4L892.2,230.2L892.4,224.7L892.6,222.3L892.8,195.6L893.0,195.7L893.2,222.4L893.4,225.0L893.6,224.4L893.8,219.4L894.0,213.6L894.2,200.3L894.4,192.9L894.6,228.3L894.8,222.3L895.0,220.0L895.2,225.9L895.4,211.2L895.6,188.3L895.8,185.6L896.0,202.5L896.2,207.2L896.4,215.9L896.6,206.9L896.8,202.6L897.0,172.5L897.2,172.5L897.4,223.9L897.6,222.0L897.8,225.9L898.0,221.7L898.2,210.4L898.3,190.2L898.5,193.0L898.7,214.9L898.9,211.6L899.1,213.0L899.3,205.8L899.5,206.3L899.7,184.0L899.9,184.2L900.1,207.8L900.3,211.3L900.5,217.9L900.7,219.2L900.9,212.5L901.1,185.4L901.3,185.6L901.5,203.3L901.7,218.2L901.9,218.6L902.1,211.7L902.3,212.2L902.5,197.0L902.7,193.6L902.9,215.2L903.1,218.4L903.3,221.5L903.5,211.5L903.7,212.0L903.9,199.8L904.1,194.5L904.3,225.8L904.5,224.9L904.7,227.5L904.9,233.3L905.1,229.8L905.3,204.7L905.5,206.2L905.7,232.5L905.9,232.3L906.1,229.3L906.3,230.8L906.5,232.4L906.7,214.1L906.9,208.7L907.1,226.4L907.3,226.4L907.5,229.9L907.6,224.4L907.8,224.7L908.0,172.5L908.2,172.5L908.4,217.8L908.6,217.8L908.8,216.9L909.0,219.4L909.2,217.1L909.4,196.7L909.6,195.2L909.8,218.9L910.0,224.0L910.2,225.7L910.4,226.4L910.6,220.0L910.8,204.2L911.0,202.4L911.2,223.0L911.4,216.7L911.6,223.1L911.8,216.1L912.0,218.7L912.2,198.9L912.4,199.7L912.6,218.6L912.8,224.9L913.0,224.0L913.2,220.0L913.4,217.9L913.6,204.7L913.8,199.7L914.0,220.8L914.2,225.8L914.4,225.4L914.6,229.7L914.8,222.8L915.0,207.0L915.2,206.1L915.4,221.3L915.6,226.3L915.8,229.5L916.0,226.0L916.2,227.3L916.4,207.4L916.6,200.5L916.8,221.7L916.9,218.1L917.1,217.3L917.3,218.2L917.5,221.5L917.7,204.9L917.9,205.2L918.1,225.4L918.3,226.2L918.5,230.8L918.7,222.5L918.9,214.1L919.1,201.7L919.3,197.8L919.5,221.1L919.7,219.0L919.9,220.9L920.1,220.6L920.3,217.9L920.5,199.3L920.7,196.7L920.9,218.9L921.1,215.3L921.3,219.7L921.5,216.3L921.7,212.5L921.9,198.0L922.1,197.4L922.3,215.3L922.5,216.9L922.7,214.1L922.9,219.5L923.1,216.6L923.3,194.6L923.5,194.4L923.7,216.0L923.9,220.7L924.1,216.3L924.3,214.8L924.5,215.6L924.7,206.0L924.9,202.5L925.1,222.9L925.3,230.4L925.5,228.5L925.7,232.3L925.9,227.8L926.1,205.6L926.2,202.0L926.4,221.2L926.6,224.2L926.8,221.9L927.0,221.1L927.2,215.5L927.4,192.9L927.6,189.9L927.8,218.3L928.0,211.2L928.2,219.1L928.4,211.8L928.6,211.0L928.8,191.1L929.0,195.8L929.2,216.8L929.4,218.4L929.6,218.3L929.8,212.9L930.0,209.7L930.2,191.8L930.4,196.1L930.6,214.6L930.8,214.1L931.0,206.2L931.2,206.2L931.4,201.8L931.6,185.0L931.8,184.8L932.0,200.1L932.2,203.6L932.4,200.9L932.6,200.5L932.8,201.8L933.0,183.3L933.2,183.1L933.4,202.5L933.6,201.9L933.8,201.9L934.0,198.8L934.2,195.5L934.4,181.6L934.6,181.3L934.8,200.8L935.0,207.3L935.2,205.3L935.4,198.5L935.5,194.6L935.7,179.9L935.9,179.6L936.1,201.4L936.3,202.1L936.5,201.1L936.7,206.5L936.9,201.8L937.1,178.2L937.3,184.1L937.5,204.6L937.7,210.8L937.9,222.6L938.1,220.7L938.3,213.6L938.5,190.8L938.7,185.3L938.9,210.8L939.1,212.3L939.3,214.5L939.5,207.1L939.7,198.6L939.9,178.3L940.1,175.2L940.3,207.3L940.5,208.3L940.7,211.1L940.9,203.9L941.1,199.7L941.3,175.8L941.5,172.9L941.7,208.1L941.9,206.7L942.1,206.8L942.3,201.8L942.5,195.7L942.7,170.4L942.9,170.1L943.1,195.5L943.3,193.6L943.5,196.0L943.7,194.7L943.9,185.4L944.1,168.8L944.3,168.0L944.5,183.3L944.7,186.0L944.8,183.6L945.0,189.8L945.2,182.0L945.4,166.1L945.6,165.8L945.8,184.9L946.0,194.0L946.2,187.4L946.4,187.2L946.6,181.6L946.8,163.9L947.0,164.5L947.2,185.8L947.4,190.2L947.6,185.9L947.8,194.2L948.0,183.8L948.2,167.2L948.4,171.7L948.6,189.4L948.8,196.1L949.0,209.5L949.2,205.4L949.4,191.3L949.6,171.5L949.8,170.3L950.0,162.0L950.2,162.0L950.4,191.0L950.6,194.7L950.8,187.8L951.0,159.2L951.2,162.7L951.4,185.5L951.6,193.2L951.8,192.5L952.0,186.9L952.2,193.0L952.4,170.0L952.6,167.6L952.8,195.2L953.0,207.2L953.2,199.7L953.4,190.5L953.6,186.0L953.8,167.6L954.0,164.2L954.1,193.8L954.3,205.8L954.5,206.6L954.7,200.0L954.9,195.7L955.1,177.6L955.3,174.4L955.5,198.1L955.7,200.8L955.9,202.8L956.1,192.0L956.3,194.7L956.5,166.6L956.7,159.5L956.9,185.0L957.1,186.1L957.3,197.4L957.5,187.8L957.7,191.8L957.9,166.2L958.1,160.0L958.3,187.7L958.5,192.2L958.7,190.0L958.9,186.2L959.1,183.7L959.3,157.0L959.5,165.5L959.7,192.1L959.9,192.1L960.1,190.8L960.3,181.0L960.5,183.0L960.7,172.4L960.9,165.4L961.1,215.0L961.3,215.0L961.5,195.4L961.7,195.4L961.9,185.6L962.1,165.7L962.3,161.8L962.5,180.2L962.7,193.7L962.9,199.9L963.1,189.8L963.3,190.4L963.4,164.3L963.6,159.9L963.8,178.7L964.0,191.4L964.2,184.7L964.4,188.8L964.6,191.6L964.8,168.6L965.0,155.5L965.2,188.0L965.4,180.9L965.6,190.4L965.8,190.5L966.0,181.2L966.2,162.8L966.4,162.7L966.6,188.1L966.8,189.8L967.0,195.1L967.2,192.6L967.4,188.6L967.6,175.0L967.8,168.5L968.0,184.6L968.2,193.9L968.4,185.3L968.6,194.8L968.8,183.9L969.0,171.3L969.2,175.8L969.4,191.2L969.6,196.0L969.8,189.2L970.0,185.0L970.2,177.2L970.4,164.0L970.6,153.5L970.8,180.3L971.0,181.8L971.2,189.8L971.4,181.2L971.6,178.9L971.8,158.3L972.0,151.3L972.2,184.5L972.4,179.3L972.6,192.3L972.7,188.0L972.9,173.9L973.1,154.6L973.3,156.6L973.5,185.3L973.7,180.5L973.9,177.9L974.1,177.3L974.3,178.7L974.5,150.9L974.7,150.9L974.9,180.9L975.1,181.5L975.3,182.0L975.5,182.6L975.7,175.7L975.9,158.7L976.1,159.9L976.3,180.2L976.5,176.3L976.7,184.1L976.9,173.6L977.1,167.7L977.3,150.5L977.5,150.4L977.7,171.4L977.9,172.6L978.1,174.0L978.3,174.6L978.5,166.1L978.7,155.5L978.9,153.6L979.1,179.8L979.3,170.1L979.5,183.4L979.7,175.5L979.9,169.0L980.1,150.1L980.3,154.6L980.5,174.1L980.7,170.8L980.9,179.7L981.1,184.1L981.3,182.1L981.5,160.3L981.7,149.8L981.9,177.4L982.0,182.3L982.2,188.2L982.4,187.4L982.6,177.0L982.8,152.7L983.0,151.7L983.2,168.4L983.4,171.1L983.6,172.0L983.8,182.3L984.0,176.6L984.2,154.9L984.4,151.1L984.6,182.1L984.8,179.1L985.0,171.6L985.2,170.8L985.4,159.8L985.6,147.5L985.8,132.5L986.0,161.7L986.2,166.3L986.4,164.0L986.6,167.7L986.8,151.5L987.0,134.4L987.2,133.4L987.4,168.7L987.6,170.5L987.8,166.3L988.0,163.3L988.2,160.7L988.4,132.4L988.6,131.7L988.8,164.0L989.0,172.3L989.2,171.0L989.4,162.9L989.6,161.6L989.8,126.3L990.0,123.1L990.2,154.8L990.4,165.8L990.6,160.4L990.8,158.2L991.0,154.9L991.2,125.5L991.3,121.2L991.5,153.3L991.7,159.5L991.9,163.5L992.1,161.8L992.3,152.6L992.5,128.4L992.7,121.4L992.9,158.5L993.1,157.8L993.3,159.3L993.5,154.3L993.7,148.4L993.9,122.4L994.1,121.8L994.3,150.9L994.5,158.0L994.7,154.7L994.9,157.3L995.1,146.6L995.3,128.6L995.5,126.9L995.7,156.7L995.9,168.0L996.1,164.3L996.3,173.6L996.5,158.9L996.7,145.3L996.9,134.4L997.1,173.7L997.3,174.3L997.5,175.8L997.7,174.1L997.9,180.3L998.1,152.8L998.3,153.3L998.5,181.4L998.7,184.7L998.9,169.4L999.1,179.3L999.3,174.6L999.5,156.6L999.7,159.5L999.9,197.5L1000.1,194.9L1000.3,183.7L1000.5,189.4L1000.7,191.5L1000.8,155.4L1001.0,155.3L1001.2,191.2L1001.4,196.7L1001.6,185.3L1001.8,189.8L1002.0,190.1L1002.2,152.2L1002.4,163.9L1002.6,198.7L1002.8,193.5L1003.0,198.9L1003.2,198.6L1003.4,187.6L1003.6,162.2L1003.8,158.5L1004.0,194.7L1004.2,195.3L1004.4,199.4L1004.6,198.4L1004.8,194.9L1005.0,216.0L1005.2,216.0L1005.4,199.7L1005.6,195.7L1005.8,199.9L1006.0,199.9L1006.2,192.1L1006.4,162.9L1006.6,147.0L1006.8,177.4L1007.0,186.9L1007.2,178.4L1007.4,180.4L1007.6,173.6L1007.8,150.5L1008.0,157.7L1008.2,180.3L1008.4,190.3L1008.6,194.3L1008.8,200.6L1009.0,186.6L1009.2,154.0L1009.4,160.8L1009.6,200.5L1009.8,200.5L1010.0,200.5L1010.1,200.5L1010.3,198.8L1010.5,175.0L1010.7,162.9L1010.9,191.9L1011.1,190.8L1011.3,192.6L1011.5,200.4L1011.7,195.0L1011.9,159.8L1012.1,136.0L1012.3,183.9L1012.5,196.3L1012.7,185.4L1012.9,192.0L1013.1,176.9L1013.3,147.0L1013.5,140.2L1013.7,168.9L1013.9,174.9L1014.1,181.4L1014.3,174.8L1014.5,169.2L1014.7,144.3L1014.9,130.0L1015.1,163.9L1015.3,172.1L1015.5,179.1L1015.7,178.6L1015.9,165.9L1016.1,125.4L1016.3,124.6L1016.5,170.4L1016.7,170.6L1016.9,165.0L1017.1,176.3L1017.3,150.9L1017.5,126.2L1017.7,124.8L1017.9,160.7L1018.1,186.9L1018.3,168.9L1018.5,163.1L1018.7,158.5L1018.9,118.2L1019.1,129.4L1019.3,175.8L1019.4,175.3L1019.6,166.1L1019.8,175.9L1020.0,165.8L1020.2,128.0L1020.4,123.3L1020.6,186.6L1020.8,202.1L1021.0,201.3L1021.2,184.6L1021.4,186.9L1021.6,128.7L1021.8,148.0L1022.0,181.0L1022.2,183.1L1022.4,191.8L1022.6,184.0L1022.8,165.3L1023.0,114.8L1023.2,120.5L1023.4,162.6L1023.6,182.3L1023.8,166.1L1024.0,200.0L1024.2,200.0L1024.4,104.4L1024.6,126.5L1024.8,190.4L1025.0,176.5L1025.2,157.2L1025.4,158.9L1025.6,132.8L1025.8,93.2L1026.0,81.2L1026.2,138.9L1026.4,136.2L1026.6,136.9L1026.8,127.1L1027.0,129.1L1027.2,70.9L1027.4,71.5L1027.6,126.0L1027.8,132.6L1028.0,126.5L1028.2,106.7L1028.4,105.1L1028.6,68.8L1028.7,64.1L1028.9,92.7L1029.1,91.7L1029.3,85.5L1029.5,89.2L1029.7,91.4L1029.9,62.7L1030.1,52.8L1030.3,81.8L1030.5,44.0L1030.7,44.0L1030.9,46.0L1031.1,46.0L1031.3,54.0L1031.5,55.1L1031.7,87.5L1031.9,98.1L1032.1,98.8L1032.3,84.2L1032.5,85.4L1032.7,71.4L1032.9,63.3L1033.1,105.6L1033.3,114.1L1033.5,107.8L1033.7,111.1L1033.9,108.9L1034.1,79.2L1034.3,70.0L1034.5,106.6L1034.7,113.8L1034.9,113.5L1035.1,118.1L1035.3,104.5L1035.5,51.0L1035.7,51.0L1035.9,101.8L1036.1,53.0L1036.3,53.0L1036.5,112.7L1036.7,121.8L1036.9,92.5L1037.1,97.5L1037.3,132.3L1037.5,136.8L1037.7,131.9L1037.9,128.1L1038.0,134.3L1038.2,104.2L1038.4,104.1L1038.6,150.7L1038.8,147.3L1039.0,146.2L1039.2,139.6L1039.4,138.4L1039.6,108.5L1039.8,117.6L1040.0,144.5L1040.2,157.5L1040.4,154.3L1040.6,158.8L1040.8,154.6L1041.0,125.0L1041.2,133.9L1041.4,166.6L1041.6,167.5L1041.8,169.2L1042.0,148.2L1042.2,147.2L1042.4,113.5L1042.6,111.0L1042.8,149.6L1043.0,160.9L1043.2,163.4L1043.4,155.0L1043.6,142.0L1043.8,115.6L1044.0,113.5L1044.2,153.4L1044.4,177.9L1044.6,173.1L1044.8,162.9L1045.0,205.0L1045.2,205.0L1045.4,121.3L1045.6,180.0L1045.8,184.0L1046.0,179.4L1046.2,176.5L1046.4,170.1L1046.6,128.0L1046.8,123.7L1047.0,168.2L1047.2,191.5L1047.3,184.6L1047.5,187.5L1047.7,178.7L1047.9,145.3L1048.1,137.4L1048.3,195.1L1048.5,194.3L1048.7,204.4L1048.9,199.6L1049.1,196.6L1049.3,149.3L1049.5,145.1L1049.7,178.5L1049.9,190.5L1050.1,206.5L1050.3,193.0L1050.5,180.4L1050.7,146.0L1050.9,149.4L1051.1,205.3L1051.3,207.6L1051.5,196.1L1051.7,200.3L1051.9,195.4L1052.1,162.7L1052.3,166.0L1052.5,220.0L1052.7,228.4L1052.9,224.8L1053.1,228.0L1053.3,228.0L1053.5,164.0L1053.7,154.9L1053.9,199.5L1054.1,204.0L1054.3,211.9L1054.5,197.3L1054.7,186.5L1054.9,153.7L1055.1,163.5L1055.3,201.0L1055.5,198.4L1055.7,203.9L1055.9,208.8L1056.1,213.0L1056.3,174.9L1056.5,158.6L1056.6,197.5L1056.8,217.6L1057.0,203.9L1057.2,209.5L1057.4,207.4L1057.6,169.4L1057.8,172.7L1058.0,204.9L1058.2,204.5L1058.4,211.9L1058.6,219.5L1058.8,214.1L1059.0,173.3L1059.2,174.5L1059.4,222.5L1059.6,218.4L1059.8,222.3L1060.0,208.5L1060.2,218.8L1060.4,168.9L1060.6,175.4L1060.8,211.9L1061.0,218.7L1061.2,211.8L1061.4,203.6L1061.6,196.1L1061.8,171.3L1062.0,161.8L1062.2,190.0L1062.4,195.3L1062.6,203.9L1062.8,200.2L1063.0,191.4L1063.2,169.7L1063.4,167.8L1063.6,193.7L1063.8,209.1L1064.0,209.0L1064.2,199.9L1064.4,193.1L1064.6,175.5L1064.8,167.0L1065.0,201.6L1065.2,219.0L1065.4,207.9L1065.6,211.8L1065.8,208.1L1065.9,186.8L1066.1,184.0L1066.3,213.8L1066.5,213.8L1066.7,216.5L1066.9,213.4L1067.1,207.3L1067.3,168.4L1067.5,173.2L1067.7,194.1L1067.9,195.4L1068.1,207.7L1068.3,208.2L1068.5,199.5L1068.7,177.3L1068.9,172.2L1069.1,208.0L1069.3,203.8L1069.5,201.5L1069.7,199.5L1069.9,189.8L1070.1,168.1L1070.3,161.4L1070.5,204.2L1070.7,201.9L1070.9,196.0L1071.1,202.4L1071.3,187.6L1071.5,167.5L1071.7,161.8L1071.9,204.0L1072.1,201.0L1072.3,210.9L1072.5,199.2L1072.7,206.9L1072.9,176.5L1073.1,117.0L1073.3,117.0L1073.5,213.1L1073.7,210.1L1073.9,207.3L1074.1,202.0L1074.3,182.1L1074.5,182.1L1074.7,205.3L1074.9,212.9L1075.1,216.4L1075.2,207.9L1075.4,205.0L1075.6,181.0L1075.8,177.5L1076.0,202.7L1076.2,198.9L1076.4,204.4L1076.6,193.8L1076.8,197.7L1077.0,173.8L1077.2,178.9L1077.4,203.3L1077.6,217.7L1077.8,219.1L1078.0,215.7L1078.2,206.8L1078.4,185.2L1078.6,183.3L1078.8,208.2L1079.0,222.1L1079.2,217.2L1079.4,208.9L1079.6,204.4L1079.8,169.4L1080.0,171.7L1080.2,206.4L1080.4,216.4L1080.6,209.5L1080.8,197.2L1081.0,198.4L1081.2,170.6L1081.4,167.0L1081.6,189.4L1081.8,194.6L1082.0,204.2L1082.2,199.6L1082.4,189.2L1082.6,161.9L1082.8,161.8L1083.0,193.8L1083.2,196.5L1083.4,200.3L1083.6,191.6L1083.8,190.7L1084.0,167.8L1084.2,165.6L1084.4,188.6L1084.5,199.3L1084.7,195.8L1084.9,187.6L1085.1,192.3L1085.3,161.5L1085.5,164.7L1085.7,201.0L1085.9,203.1L1086.1,204.3L1086.3,205.6L1086.5,197.7L1086.7,175.0L1086.9,174.6L1087.1,190.0L1087.3,205.7L1087.5,201.0L1087.7,195.3L1087.9,185.0L1088.1,159.1L1088.3,159.0L1088.5,199.8L1088.7,193.6L1088.9,195.3L1089.1,188.0L1089.3,184.2L1089.5,165.1L1089.7,159.3L1089.9,188.6L1090.1,192.6L1090.3,197.0L1090.5,201.1L1090.7,177.6L1090.9,159.6L1091.1,157.7L1091.3,186.3L1091.5,193.3L1091.7,199.2L1091.9,201.8L1092.1,193.2L1092.3,173.5L1092.5,174.7L1092.7,206.9L1092.9,206.6L1093.1,209.7L1093.3,205.1L1093.5,205.0L1093.7,187.4L1093.9,186.3L1094.0,217.6L1094.2,217.6L1094.4,217.6L1094.6,217.6L1094.8,217.6L1095.0,201.2L1095.2,199.4L1095.4,217.5L1095.6,217.5L1095.8,217.5L1096.0,217.5L1096.2,214.9L1096.4,187.6L1096.6,181.1L1096.8,208.6L1097.0,154.0L1097.2,154.0L1097.4,215.1L1097.6,217.4L1097.8,186.4L1098.0,178.6L1098.2,217.3L1098.4,217.3L1098.6,217.3L1098.8,216.8L1099.0,206.6L1099.2,190.3L1099.4,178.1L1099.6,217.2L1099.8,217.2L1100.0,217.2L1100.2,217.2L1100.4,205.0L1100.6,182.7L1100.8,174.2L1101.0,210.5L1101.2,216.0L1101.4,217.2L1101.6,217.2L1101.8,212.8L1102.0,187.3L1102.2,180.8L1102.4,217.2L1102.6,211.4L1102.8,213.6L1103.0,217.2L1103.2,198.7L1103.3,177.7L1103.5,173.9L1103.7,215.5L1103.9,217.2L1104.1,212.4L1104.3,212.8L1104.5,212.5L1104.7,177.8L1104.9,175.7L1105.1,217.2L1105.3,215.2L1105.5,217.2L1105.7,203.8L1105.9,210.4L1106.1,175.5L1106.3,160.4L1106.5,194.4L1106.7,208.9L1106.9,224.0L1107.1,224.0L1107.3,203.1L1107.5,165.1L1107.7,159.1L1107.9,200.1L1108.1,202.1L1108.3,209.8L1108.5,211.5L1108.7,205.6L1108.9,181.2L1109.1,174.3L1109.3,215.5L1109.5,217.2L1109.7,215.0L1109.9,204.6L1110.1,194.6L1110.3,167.1L1110.5,163.3L1110.7,196.1L1110.9,208.3L1111.1,216.5L1111.3,204.8L1111.5,202.0L1111.7,172.1L1111.9,173.8L1112.1,207.9L1112.3,215.7L1112.5,215.6L1112.6,215.2L1112.8,209.1L1113.0,171.8L1113.2,169.2L1113.4,192.7L1113.6,190.9L1113.8,193.4L1114.0,183.2L1114.2,190.3L1114.4,169.4L1114.6,165.2L1114.8,196.2L1115.0,145.0L1115.2,145.0L1115.4,209.2L1115.6,195.4L1115.8,170.6L1116.0,175.2L1116.2,206.1L1116.4,209.9L1116.6,202.9L1116.8,204.6L1117.0,206.7L1117.2,180.2L1117.4,171.7L1117.6,200.8L1117.8,205.9L1118.0,203.8L1118.2,195.5L1118.4,190.9L1118.6,173.0L1118.8,167.2L1119.0,196.9L1119.2,202.1L1119.4,207.9L1119.6,196.0L1119.8,188.1L1120.0,159.5L1120.2,152.0L1120.4,185.7L1120.6,190.9L1120.8,198.2L1121.0,197.3L1121.2,185.1L1121.4,154.8L1121.6,146.2L1121.8,176.3L1121.9,195.6L1122.1,179.9L1122.3,188.6L1122.5,182.1L1122.7,141.3L1122.9,140.9L1123.1,184.3L1123.3,186.8L1123.5,182.7L1123.7,172.1L1123.9,160.4L1124.1,138.5L1124.3,138.1L1124.5,165.3L1124.7,170.4L1124.9,180.3L1125.1,164.7L1125.3,168.2L1125.5,142.4L1125.7,135.7L1125.9,171.9L1126.1,176.4L1126.3,189.7L1126.5,173.7L1126.7,174.7L1126.9,153.2L1127.1,146.3L1127.3,187.4L1127.5,196.4L1127.7,192.3L1127.9,200.4L1128.1,196.3L1128.3,157.4L1128.5,159.9L1128.7,196.0L1128.9,199.8L1129.1,195.7L1129.3,191.0L1129.5,190.2L1129.7,147.2L1129.9,159.4L1130.1,188.8L1130.3,186.9L1130.5,197.5L1130.7,189.7L1130.9,182.5L1131.1,150.9L1131.2,133.5L1131.4,176.0L1131.6,180.9L1131.8,169.6L1132.0,163.0L1132.2,139.6L1132.4,124.6L1132.6,124.0L1132.8,152.8L1133.0,151.7L1133.2,156.0L1133.4,149.3L1133.6,153.3L1133.8,124.6L1134.0,119.6L1134.2,172.0L1134.4,177.8L1134.6,168.9L1134.8,158.1L1135.0,157.7L1135.2,119.9L1135.4,116.9L1135.6,161.6L1135.8,174.4L1136.0,179.6L1136.2,178.3L1136.4,155.9L1136.6,129.2L1136.8,121.1L1137.0,173.4L1137.2,183.2L1137.4,185.8L1137.6,191.1L1137.8,186.3L1138.0,142.5L1138.2,129.9L1138.4,183.0L1138.6,188.4L1138.8,190.5L1139.0,189.8L1139.2,169.0L1139.4,132.0L1139.6,118.9L1139.8,187.1L1140.0,98.0L1140.2,98.0L1140.4,172.3L1140.5,146.3L1140.7,119.5L1140.9,96.0L1141.1,96.0L1141.3,158.2L1141.5,170.2L1141.7,160.2L1141.9,163.6L1142.1,111.7L1142.3,113.9L1142.5,172.5L1142.7,176.2L1142.9,195.2L1143.1,180.4L1143.3,172.7L1143.5,122.6L1143.7,113.5L1143.9,168.7L1144.1,177.6L1144.3,181.5L1144.5,176.4L1144.7,162.9L1144.9,118.3L1145.1,119.2L1145.3,165.5L1145.5,163.9L1145.7,159.5L1145.9,153.7L1146.1,145.6L1146.3,121.0L1146.5,121.5L1146.7,147.5L1146.9,159.3L1147.1,170.2L1147.3,170.4L1147.5,150.9L1147.7,124.8L1147.9,125.6L1148.1,165.9L1148.3,173.8L1148.5,162.9L1148.7,170.4L1148.9,149.1L1149.1,125.5L1149.3,125.5L1149.5,175.1L1149.7,192.9L1149.8,177.8L1150.0,173.4L1150.2,164.3L1150.4,143.0L1150.6,139.7L1150.8,177.4L1151.0,185.4L1151.2,194.3L1151.4,174.8L1151.6,165.3L1151.8,128.6L1152.0,126.1L1152.2,170.4L1152.4,181.6L1152.6,191.1L1152.8,187.9L1153.0,174.3L1153.2,153.3L1153.4,152.0L1153.6,207.9L1153.8,205.5L1154.0,204.4L1154.2,200.6L1154.4,201.2L1154.6,164.2L1154.8,158.5L1155.0,198.9L1155.2,210.1L1155.4,210.8L1155.6,214.8L1155.8,214.7L1156.0,170.5L1156.2,171.6L1156.4,214.3L1156.6,214.2L1156.8,214.1L1157.0,213.9L1157.2,213.8L1157.4,172.6L1157.6,160.9L1157.8,201.4L1158.0,200.9L1158.2,199.8L1158.4,208.2L1158.6,198.6L1158.8,174.3L1159.0,168.8L1159.1,212.6L1159.3,208.3L1159.5,202.1L1159.7,204.9L1159.9,196.8L1160.1,160.8L1160.3,146.3L1160.5,188.3L1160.7,202.0L1160.9,211.4L1161.1,198.3L1161.3,207.5L1161.5,172.7L1161.7,152.1L1161.9,205.0L1162.1,205.0L1162.3,208.5L1162.5,201.2L1162.7,201.2L1162.9,169.0L1163.1,159.3L1163.3,208.4L1163.5,200.1L1163.7,207.4L1163.9,197.4L1164.1,196.7L1164.3,169.2L1164.5,166.0L1164.7,209.0L1164.9,208.9L1165.1,208.9L1165.3,208.9L1165.5,206.9L1165.7,175.9L1165.9,170.2L1166.1,209.1L1166.3,209.1L1166.5,189.6L1166.7,186.6L1166.9,186.2L1167.1,159.8L1167.3,140.3L1167.5,183.4L1167.7,195.9L1167.9,196.6L1168.1,189.2L1168.3,185.2L1168.4,140.0L1168.6,135.2L1168.8,185.0L1169.0,191.1L1169.2,180.7L1169.4,170.6L1169.6,165.0L1169.8,128.2L1170.0,132.4L1170.2,158.8L1170.4,164.7L1170.6,170.9L1170.8,158.8L1171.0,168.5L1171.2,127.0L1171.4,126.9L1171.6,158.1L1171.8,171.8L1172.0,164.5L1172.2,172.7L1172.4,167.5L1172.6,128.4L1172.8,125.8L1173.0,171.9L1173.2,185.7L1173.4,184.4L1173.6,194.0L1173.8,174.5L1174.0,145.4L1174.2,147.7L1174.4,177.1L1174.6,194.1L1174.8,192.8L1175.0,201.4L1175.2,194.4L1175.4,155.3L1175.6,139.8L1175.8,201.7L1176.0,186.4L1176.2,192.0L1176.4,191.4L1176.6,177.2L1176.8,141.7L1177.0,139.8L1177.2,184.2L1177.4,207.4L1177.6,192.4L1177.7,189.0L1177.9,205.0L1178.1,205.0L1178.3,130.7L1178.5,159.8L1178.7,181.6L1178.9,171.5L1179.1,174.9L1179.3,160.6L1179.5,122.2L1179.7,125.6L1179.9,182.1L1180.1,194.7L1180.3,188.2L1180.5,191.9L1180.7,186.9L1180.9,138.8L1181.1,130.5L1181.3,182.9L1181.5,205.7L1181.7,202.2L1181.9,188.7L1182.1,195.4L1182.3,143.4L1182.5,156.3L1182.7,201.4L1182.9,196.3L1183.1,206.9L1183.3,198.3L1183.5,193.4L1183.7,166.2L1183.9,150.7L1184.1,199.6L1184.3,196.0L1184.5,196.4L1184.7,202.9L1184.9,192.0L1185.1,153.8L1185.3,157.1L1185.5,187.8L1185.7,205.0L1185.9,202.0L1186.1,190.0L1186.3,196.0L1186.5,161.2L1186.7,155.4L1186.9,190.9L1187.0,203.1L1187.2,202.8L1187.4,189.9L1187.6,199.0L1187.8,159.7L1188.0,146.7L1188.2,196.1L1188.4,201.2L1188.6,200.9L1188.8,199.5L1189.0,187.7L1189.2,140.1L1189.4,137.4L1189.6,179.4L1189.8,179.8L1190.0,192.3L1190.2,185.3L1190.4,170.6L1190.6,140.6L1190.8,133.9L1191.0,162.9L1191.2,184.5L1191.4,174.4L1191.6,162.0" class="d"/>
<path d="M697.8,302.45L698.3,302.42L698.8,302.39L699.3,302.35L699.8,302.31L700.3,302.27L700.8,302.22L701.3,302.17L701.8,302.12L702.3,302.07L702.8,302.02L703.3,301.97L703.8,301.92L704.3,301.87L704.8,301.82L705.3,301.77L705.8,301.71L706.3,301.66L706.8,301.60L707.3,301.53L707.8,301.46L708.3,301.38L708.8,301.30L709.3,301.20L709.8,301.10L710.3,301.00L710.8,300.90L711.3,300.79L711.8,300.68L712.3,300.58L712.8,300.47L713.3,300.35L713.8,300.24L714.3,300.11L714.8,299.98L715.3,299.85L715.8,299.70L716.3,299.55L716.8,299.39L717.3,299.23L717.8,299.06L718.3,298.90L718.8,298.73L719.3,298.57L719.8,298.40L720.3,298.23L720.8,298.06L721.3,297.89L721.8,297.71L722.3,297.53L722.8,297.35L723.3,297.16L723.8,296.97L724.3,296.77L724.8,296.58L725.3,296.38L725.8,296.18L726.3,295.98L726.8,295.78L727.3,295.58L727.8,295.38L728.3,295.17L728.8,294.96L729.3,294.75L729.8,294.53L730.3,294.30L730.8,294.07L731.3,293.83L731.8,293.59L732.3,293.35L732.8,293.10L733.3,292.85L733.8,292.60L734.3,292.35L734.8,292.10L735.3,291.85L735.8,291.60L736.3,291.34L736.8,291.09L737.3,290.83L737.8,290.57L738.3,290.31L738.8,290.05L739.3,289.79L739.8,289.53L740.3,289.27L740.8,289.01L741.3,288.74L741.8,288.48L742.3,288.22L742.8,287.96L743.3,287.71L743.8,287.47L744.3,287.23L744.8,287.00L745.3,286.79L745.8,286.59L746.3,286.40L746.8,286.23L747.3,286.05L747.8,285.88L748.3,285.72L748.8,285.55L749.3,285.39L749.8,285.22L750.3,285.06L750.8,284.89L751.3,284.72L751.8,284.55L752.3,284.38L752.8,284.21L753.3,284.03L753.8,283.85L754.3,283.68L754.8,283.50L755.3,283.32L755.8,283.14L756.3,282.97L756.8,282.80L757.3,282.63L757.8,282.47L758.3,282.32L758.8,282.18L759.3,282.06L759.8,281.95L760.3,281.86L760.8,281.77L761.3,281.70L761.8,281.62L762.3,281.55L762.8,281.48L763.3,281.41L763.8,281.35L764.3,281.28L764.8,281.21L765.3,281.14L765.8,281.07L766.3,281.00L766.8,280.94L767.3,280.87L767.8,280.80L768.3,280.73L768.8,280.66L769.3,280.59L769.8,280.52L770.3,280.45L770.8,280.38L771.3,280.30L771.8,280.23L772.3,280.15L772.8,280.08L773.3,280.00L773.8,279.93L774.3,279.85L774.8,279.78L775.3,279.70L775.8,279.63L776.3,279.55L776.8,279.48L777.3,279.40L777.8,279.33L778.3,279.25L778.8,279.17L779.3,279.09L779.8,279.00L780.3,278.92L780.8,278.83L781.3,278.73L781.8,278.64L782.3,278.54L782.8,278.44L783.3,278.34L783.8,278.24L784.3,278.14L784.8,278.04L785.3,277.94L785.8,277.84L786.3,277.74L786.8,277.64L787.3,277.54L787.8,277.44L788.3,277.34L788.8,277.24L789.3,277.14L789.8,277.04L790.3,276.94L790.8,276.84L791.3,276.74L791.8,276.64L792.3,276.54L792.8,276.43L793.3,276.33L793.8,276.21L794.3,276.09L794.8,275.96L795.3,275.83L795.8,275.68L796.3,275.52L796.8,275.36L797.3,275.19L797.8,275.02L798.3,274.84L798.8,274.67L799.3,274.49L799.8,274.32L800.3,274.15L800.8,273.97L801.3,273.80L801.8,273.62L802.3,273.45L802.8,273.27L803.3,273.10L803.8,272.93L804.3,272.76L804.8,272.60L805.3,272.43L805.8,272.27L806.3,272.12L806.8,271.96L807.3,271.81L807.8,271.66L808.3,271.51L808.8,271.36L809.3,271.21L809.8,271.06L810.3,270.91L810.8,270.76L811.3,270.61L811.8,270.46L812.3,270.31L812.8,270.16L813.3,270.00L813.8,269.84L814.3,269.68L814.8,269.52L815.3,269.35L815.8,269.17L816.3,268.99L816.8,268.80L817.3,268.61L817.8,268.42L818.3,268.23L818.8,268.04L819.3,267.85L819.8,267.65L820.3,267.46L820.8,267.27L821.3,267.08L821.8,266.88L822.3,266.69L822.8,266.50L823.3,266.31L823.8,266.12L824.3,265.93L824.8,265.74L825.3,265.55L825.8,265.37L826.3,265.20L826.8,265.03L827.3,264.87L827.8,264.72L828.3,264.57L828.8,264.43L829.3,264.29L829.8,264.15L830.3,264.02L830.8,263.88L831.3,263.74L831.8,263.61L832.3,263.47L832.8,263.33L833.3,263.20L833.8,263.06L834.3,262.92L834.8,262.79L835.3,262.65L835.8,262.51L836.3,262.38L836.8,262.24L837.3,262.10L837.8,261.97L838.3,261.83L838.8,261.69L839.3,261.56L839.8,261.42L840.3,261.28L840.8,261.15L841.3,261.01L841.8,260.87L842.3,260.73L842.8,260.59L843.3,260.45L843.8,260.30L844.3,260.14L844.8,259.97L845.3,259.79L845.8,259.59L846.3,259.39L846.8,259.18L847.3,258.97L847.8,258.75L848.3,258.52L848.8,258.30L849.3,258.08L849.8,257.86L850.3,257.63L850.8,257.41L851.3,257.19L851.8,256.96L852.3,256.74L852.8,256.52L853.3,256.29L853.8,256.07L854.3,255.85L854.8,255.62L855.3,255.40L855.8,255.18L856.3,254.95L856.8,254.73L857.3,254.50L857.8,254.27L858.3,254.03L858.8,253.77L859.3,253.50L859.8,253.21L860.3,252.90L860.8,252.57L861.3,252.21L861.8,251.84L862.3,251.46L862.8,251.07L863.3,250.67L863.8,250.28L864.3,249.88L864.8,249.48L865.3,249.08L865.8,248.68L866.3,248.28L866.8,247.87L867.3,247.45L867.8,247.02L868.3,246.58L868.8,246.12L869.3,245.65L869.8,245.18L870.3,244.69L870.8,244.19L871.3,243.70L871.8,243.20L872.3,242.70L872.8,242.20L873.3,241.70L873.8,241.20L874.3,240.69L874.8,240.19L875.3,239.67L875.8,239.15L876.3,238.61L876.8,238.07L877.3,237.51L877.8,236.93L878.3,236.35L878.8,235.76L879.3,235.16L879.8,234.56L880.3,233.96L880.8,233.36L881.3,232.76L881.8,232.16L882.3,231.56L882.8,230.96L883.3,230.38L883.8,229.80L884.3,229.24L884.8,228.69L885.3,228.17L885.8,227.66L886.3,227.17L886.8,226.70L887.3,226.23L887.8,225.78L888.3,225.32L888.8,224.87L889.3,224.42L889.8,223.96L890.3,223.52L890.8,223.07L891.3,222.64L891.8,222.22L892.3,221.82L892.8,221.44L893.3,221.10L893.8,220.80L894.3,220.52L894.8,220.27L895.3,220.05L895.8,219.83L896.3,219.63L896.8,219.43L897.3,219.23L897.8,219.03L898.3,218.84L898.8,218.64L899.3,218.45L899.8,218.25L900.3,218.07L900.8,217.88L901.3,217.70L901.8,217.53L902.3,217.37L902.8,217.21L903.3,217.06L903.8,216.91L904.3,216.76L904.8,216.62L905.3,216.48L905.8,216.33L906.3,216.19L906.8,216.05L907.3,215.91L907.8,215.76L908.3,215.62L908.8,215.48L909.3,215.34L909.8,215.20L910.3,215.05L910.8,214.91L911.3,214.77L911.8,214.64L912.3,214.50L912.8,214.37L913.3,214.24L913.8,214.12L914.3,214.00L914.8,213.89L915.3,213.78L915.8,213.67L916.3,213.56L916.8,213.45L917.3,213.35L917.8,213.24L918.3,213.13L918.8,213.02L919.3,212.92L919.8,212.81L920.3,212.70L920.8,212.60L921.3,212.49L921.8,212.38L922.3,212.27L922.8,212.16L923.3,212.03L923.8,211.90L924.3,211.76L924.8,211.59L925.3,211.41L925.8,211.20L926.3,210.98L926.8,210.75L927.3,210.50L927.8,210.25L928.3,210.00L928.8,209.74L929.3,209.49L929.8,209.23L930.3,208.97L930.8,208.72L931.3,208.46L931.8,208.20L932.3,207.95L932.8,207.69L933.3,207.43L933.8,207.17L934.3,206.92L934.8,206.66L935.3,206.40L935.8,206.14L936.3,205.88L936.8,205.61L937.3,205.34L937.8,205.05L938.3,204.74L938.8,204.41L939.3,204.06L939.8,203.68L940.3,203.28L940.8,202.86L941.3,202.43L941.8,202.00L942.3,201.56L942.8,201.11L943.3,200.67L943.8,200.22L944.3,199.78L944.8,199.33L945.3,198.88L945.8,198.44L946.3,197.99L946.8,197.55L947.3,197.10L947.8,196.65L948.3,196.21L948.8,195.76L949.3,195.31L949.8,194.87L950.3,194.41L950.8,193.96L951.3,193.49L951.8,193.02L952.3,192.55L952.8,192.06L953.3,191.57L953.8,191.07L954.3,190.57L954.8,190.07L955.3,189.57L955.8,189.06L956.3,188.56L956.8,188.05L957.3,187.55L957.8,187.05L958.3,186.54L958.8,186.04L959.3,185.53L959.8,185.03L960.3,184.53L960.8,184.04L961.3,183.56L961.8,183.10L962.3,182.65L962.8,182.22L963.3,181.82L963.8,181.44L964.3,181.07L964.8,180.72L965.3,180.38L965.8,180.04L966.3,179.71L966.8,179.38L967.3,179.04L967.8,178.71L968.3,178.38L968.8,178.05L969.3,177.71L969.8,177.38L970.3,177.05L970.8,176.72L971.3,176.38L971.8,176.05L972.3,175.72L972.8,175.39L973.3,175.06L973.8,174.72L974.3,174.39L974.8,174.06L975.3,173.73L975.8,173.40L976.3,173.07L976.8,172.74L977.3,172.42L977.8,172.10L978.3,171.79L978.8,171.50L979.3,171.21L979.8,170.94L980.3,170.67L980.8,170.41L981.3,170.15L981.8,169.90L982.3,169.65L982.8,169.40L983.3,169.15L983.8,168.90L984.3,168.65L984.8,168.40L985.3,168.15L985.8,167.90L986.3,167.65L986.8,167.40L987.3,167.15L987.8,166.90L988.3,166.65L988.8,166.40L989.3,166.15L989.8,165.90L990.3,165.65L990.8,165.39L991.3,165.14L991.8,164.89L992.3,164.64L992.8,164.39L993.3,164.14L993.8,163.88L994.3,163.63L994.8,163.38L995.3,163.13L995.8,162.88L996.3,162.63L996.8,162.37L997.3,162.12L997.8,161.87L998.3,161.62L998.8,161.37L999.3,161.11L999.8,160.86L1000.3,160.60L1000.8,160.34L1001.3,160.08L1001.8,159.80L1002.3,159.50L1002.8,159.18L1003.3,158.84L1003.8,158.48L1004.3,158.09L1004.8,157.68L1005.3,157.27L1005.8,156.84L1006.3,156.41L1006.8,155.98L1007.3,155.54L1007.8,155.11L1008.3,154.67L1008.8,154.24L1009.3,153.80L1009.8,153.37L1010.3,152.93L1010.8,152.50L1011.3,152.06L1011.8,151.61L1012.3,151.16L1012.8,150.70L1013.3,150.22L1013.8,149.72L1014.3,149.20L1014.8,148.67L1015.3,148.11L1015.8,147.55L1016.3,146.97L1016.8,146.39L1017.3,145.80L1017.8,145.22L1018.3,144.63L1018.8,144.04L1019.3,143.46L1019.8,142.88L1020.3,142.30L1020.8,141.73L1021.3,141.17L1021.8,140.62L1022.3,140.09L1022.8,139.56L1023.3,139.05L1023.8,138.54L1024.3,138.04L1024.8,137.55L1025.3,137.06L1025.8,136.57L1026.3,136.09L1026.8,135.63L1027.3,135.19L1027.8,134.78L1028.3,134.42L1028.8,134.11L1029.3,133.86L1029.8,133.65L1030.3,133.49L1030.8,133.38L1031.3,133.32L1031.8,133.30L1032.3,133.34L1032.8,133.43L1033.3,133.58L1033.8,133.78L1034.3,134.03L1034.8,134.32L1035.3,134.63L1035.8,134.98L1036.3,135.37L1036.8,135.81L1037.3,136.32L1037.8,136.92L1038.3,137.62L1038.8,138.42L1039.3,139.30L1039.8,140.26L1040.3,141.27L1040.8,142.29L1041.3,143.33L1041.8,144.35L1042.3,145.34L1042.8,146.32L1043.3,147.26L1043.8,148.18L1044.3,149.09L1044.8,149.98L1045.3,150.86L1045.8,151.74L1046.3,152.62L1046.8,153.50L1047.3,154.38L1047.8,155.25L1048.3,156.12L1048.8,156.99L1049.3,157.85L1049.8,158.69L1050.3,159.52L1050.8,160.33L1051.3,161.13L1051.8,161.91L1052.3,162.68L1052.8,163.44L1053.3,164.20L1053.8,164.95L1054.3,165.70L1054.8,166.45L1055.3,167.20L1055.8,167.94L1056.3,168.68L1056.8,169.41L1057.3,170.13L1057.8,170.82L1058.3,171.49L1058.8,172.13L1059.3,172.73L1059.8,173.30L1060.3,173.85L1060.8,174.37L1061.3,174.89L1061.8,175.40L1062.3,175.90L1062.8,176.40L1063.3,176.90L1063.8,177.40L1064.3,177.90L1064.8,178.40L1065.3,178.90L1065.8,179.40L1066.3,179.89L1066.8,180.37L1067.3,180.85L1067.8,181.30L1068.3,181.73L1068.8,182.13L1069.3,182.49L1069.8,182.82L1070.3,183.12L1070.8,183.39L1071.3,183.64L1071.8,183.89L1072.3,184.13L1072.8,184.36L1073.3,184.59L1073.8,184.82L1074.3,185.06L1074.8,185.29L1075.3,185.52L1075.8,185.75L1076.3,185.98L1076.8,186.21L1077.3,186.45L1077.8,186.68L1078.3,186.90L1078.8,187.13L1079.3,187.34L1079.8,187.53L1080.3,187.71L1080.8,187.85L1081.3,187.96L1081.8,188.02L1082.3,188.05L1082.8,188.05L1083.3,188.03L1083.8,187.99L1084.3,187.94L1084.8,187.89L1085.3,187.83L1085.8,187.77L1086.3,187.71L1086.8,187.65L1087.3,187.59L1087.8,187.53L1088.3,187.47L1088.8,187.41L1089.3,187.35L1089.8,187.28L1090.3,187.20L1090.8,187.11L1091.3,187.01L1091.8,186.90L1092.3,186.77L1092.8,186.63L1093.3,186.48L1093.8,186.32L1094.3,186.16L1094.8,186.00L1095.3,185.83L1095.8,185.67L1096.3,185.50L1096.8,185.33L1097.3,185.17L1097.8,185.00L1098.3,184.83L1098.8,184.67L1099.3,184.50L1099.8,184.33L1100.3,184.17L1100.8,184.00L1101.3,183.83L1101.8,183.66L1102.3,183.49L1102.8,183.31L1103.3,183.11L1103.8,182.90L1104.3,182.65L1104.8,182.38L1105.3,182.07L1105.8,181.72L1106.3,181.33L1106.8,180.93L1107.3,180.50L1107.8,180.06L1108.3,179.62L1108.8,179.17L1109.3,178.72L1109.8,178.27L1110.3,177.81L1110.8,177.36L1111.3,176.91L1111.8,176.46L1112.3,176.01L1112.8,175.56L1113.3,175.11L1113.8,174.65L1114.3,174.20L1114.8,173.75L1115.3,173.30L1115.8,172.85L1116.3,172.40L1116.8,171.95L1117.3,171.50L1117.8,171.05L1118.3,170.59L1118.8,170.14L1119.3,169.69L1119.8,169.24L1120.3,168.79L1120.8,168.34L1121.3,167.89L1121.8,167.44L1122.3,166.99L1122.8,166.54L1123.3,166.10L1123.8,165.66L1124.3,165.24L1124.8,164.83L1125.3,164.44L1125.8,164.07L1126.3,163.71L1126.8,163.38L1127.3,163.06L1127.8,162.75L1128.3,162.45L1128.8,162.15L1129.3,161.85L1129.8,161.55L1130.3,161.26L1130.8,160.96L1131.3,160.67L1131.8,160.37L1132.3,160.07L1132.8,159.78L1133.3,159.49L1133.8,159.21L1134.3,158.94L1134.8,158.68L1135.3,158.45L1135.8,158.24L1136.3,158.06L1136.8,157.91L1137.3,157.78L1137.8,157.66L1138.3,157.56L1138.8,157.47L1139.3,157.38L1139.8,157.30L1140.3,157.23L1140.8,157.18L1141.3,157.14L1141.8,157.13L1142.3,157.14L1142.8,157.18L1143.3,157.24L1143.8,157.32L1144.3,157.40L1144.8,157.50L1145.3,157.60L1145.8,157.70L1146.3,157.80L1146.8,157.90L1147.3,158.00L1147.8,158.10L1148.3,158.21L1148.8,158.31L1149.3,158.41L1149.8,158.52L1150.3,158.62L1150.8,158.73L1151.3,158.85L1151.8,158.97L1152.3,159.10L1152.8,159.24L1153.3,159.39L1153.8,159.55L1154.3,159.71L1154.8,159.87L1155.3,160.03L1155.8,160.20L1156.3,160.37L1156.8,160.53L1157.3,160.70L1157.8,160.87L1158.3,161.03L1158.8,161.20L1159.3,161.37L1159.8,161.53L1160.3,161.70L1160.8,161.87L1161.3,162.03L1161.8,162.20L1162.3,162.36L1162.8,162.51L1163.3,162.66L1163.8,162.81L1164.3,162.93L1164.8,163.05L1165.3,163.15L1165.8,163.25L1166.3,163.33L1166.8,163.41L1167.3,163.48L1167.8,163.55L1168.3,163.62L1168.8,163.69L1169.3,163.76L1169.8,163.83L1170.3,163.90L1170.8,163.96L1171.3,164.03L1171.8,164.10L1172.3,164.16L1172.8,164.22L1173.3,164.27L1173.8,164.32L1174.3,164.35L1174.8,164.36L1175.3,164.36L1175.8,164.35L1176.3,164.32L1176.8,164.28L1177.3,164.24L1177.8,164.20L1178.3,164.15L1178.8,164.10L1179.3,164.06L1179.8,164.01L1180.3,163.96L1180.8,163.91L1181.3,163.87L1181.8,163.82L1182.3,163.78L1182.8,163.73L1183.3,163.69L1183.8,163.65L1184.3,163.61L1184.8,163.58L1185.3,163.54L1185.8,163.51L1186.3,163.47L1186.8,163.44L1187.3,163.40L1187.8,163.37L1188.3,163.34L1188.8,163.30L1189.3,163.27L1189.8,163.24L1190.3,163.21L1190.8,163.19L1191.3,163.17" class="t"/>
<path d="M697.80,316.30V20.30H1191.70V316.30Z" class="f"/>
<line x1="691.80" y1="316.00" x2="697.80" y2="316.00" class="k"/>
<text x="686.30" y="321.00" class="yl">0</text>
<line x1="691.80" y1="273.76" x2="697.80" y2="273.76" class="k"/>
<text x="686.30" y="278.76" class="yl">200,000</text>
<line x1="691.80" y1="231.51" x2="697.80" y2="231.51" class="k"/>
<text x="686.30" y="236.51" class="yl">400,000</text>
<line x1="691.80" y1="189.27" x2="697.80" y2="189.27" class="k"/>
<text x="686.30" y="194.27" class="yl">600,000</text>
<line x1="691.80" y1="147.03" x2="697.80" y2="147.03" class="k"/>
<text x="686.30" y="152.03" class="yl">800,000</text>
<line x1="691.80" y1="104.79" x2="697.80" y2="104.79" class="k"/>
<text x="686.30" y="109.79" class="yl">1,000,000</text>
<line x1="691.80" y1="62.54" x2="697.80" y2="62.54" class="k"/>
<text x="686.30" y="67.54" class="yl">1,200,000</text>
<line x1="691.80" y1="20.30" x2="697.80" y2="20.30" class="k"/>
<text x="686.30" y="25.30" class="yl">1,400,000</text>
<line x1="697.80" y1="316.30" x2="697.80" y2="322.90" class="k"/>
<line x1="704.38" y1="316.30" x2="704.38" y2="320.10" class="k"/>
<line x1="710.40" y1="316.30" x2="710.40" y2="320.10" class="k"/>
<line x1="716.41" y1="316.30" x2="716.41" y2="320.10" class="k"/>
<line x1="722.43" y1="316.30" x2="722.43" y2="322.90" class="k"/>
<line x1="728.45" y1="316.30" x2="728.45" y2="320.10" class="k"/>
<line x1="734.46" y1="316.30" x2="734.46" y2="320.10" class="k"/>
<line x1="740.48" y1="316.30" x2="740.48" y2="320.10" class="k"/>
<line x1="746.49" y1="316.30" x2="746.49" y2="322.90" class="k"/>
<line x1="752.50" y1="316.30" x2="752.50" y2="320.10" class="k"/>
<line x1="758.52" y1="316.30" x2="758.52" y2="320.10" class="k"/>
<line x1="764.53" y1="316.30" x2="764.53" y2="320.10" class="k"/>
<line x1="770.55" y1="316.30" x2="770.55" y2="322.90" class="k"/>
<line x1="776.57" y1="316.30" x2="776.57" y2="320.10" class="k"/>
<line x1="782.58" y1="316.30" x2="782.58" y2="320.10" class="k"/>
<line x1="788.60" y1="316.30" x2="788.60" y2="320.10" class="k"/>
<line x1="794.61" y1="316.30" x2="794.61" y2="322.90" class="k"/>
<line x1="800.62" y1="316.30" x2="800.62" y2="320.10" class="k"/>
<line x1="806.64" y1="316.30" x2="806.64" y2="320.10" class="k"/>
<line x1="812.65" y1="316.30" x2="812.65" y2="320.10" class="k"/>
<line x1="818.67" y1="316.30" x2="818.67" y2="322.90" class="k"/>
<line x1="824.68" y1="316.30" x2="824.68" y2="320.10" class="k"/>
<line x1="830.70" y1="316.30" x2="830.70" y2="320.10" class="k"/>
<line x1="836.72" y1="316.30" x2="836.72" y2="320.10" class="k"/>
<line x1="842.73" y1="316.30" x2="842.73" y2="322.90" class="k"/>
<line x1="848.75" y1="316.30" x2="848.75" y2="320.10" class="k"/>
<line x1="854.76" y1="316.30" x2="854.76" y2="320.10" class="k"/>
<line x1="860.77" y1="316.30" x2="860.77" y2="320.10" class="k"/>
<line x1="866.79" y1="316.30" x2="866.79" y2="322.90" class="k"/>
<line x1="872.81" y1="316.30" x2="872.81" y2="320.10" class="k"/>
<line x1="878.82" y1="316.30" x2="878.82" y2="320.10" class="k"/>
<line x1="884.84" y1="316.30" x2="884.84" y2="320.10" class="k"/>
<line x1="890.85" y1="316.30" x2="890.85" y2="322.90" class="k"/>
<line x1="896.87" y1="316.30" x2="896.87" y2="320.10" class="k"/>
<line x1="902.88" y1="316.30" x2="902.88" y2="320.10" class="k"/>
<line x1="908.89" y1="316.30" x2="908.89" y2="320.10" class="k"/>
<line x1="914.91" y1="316.30" x2="914.91" y2="322.90" class="k"/>
<line x1="920.92" y1="316.30" x2="920.92" y2="320.10" class="k"/>
<line x1="926.94" y1="316.30" x2="926.94" y2="320.10" class="k"/>
<line x1="932.95" y1="316.30" x2="932.95" y2="320.10" class="k"/>
<line x1="938.97" y1="316.30" x2="938.97" y2="322.90" class="k"/>
<line x1="944.99" y1="316.30" x2="944.99" y2="320.10" class="k"/>
<line x1="951.00" y1="316.30" x2="951.00" y2="320.10" class="k"/>
<line x1="957.01" y1="316.30" x2="957.01" y2="320.10" class="k"/>
<line x1="963.03" y1="316.30" x2="963.03" y2="322.90" class="k"/>
<line x1="969.05" y1="316.30" x2="969.05" y2="320.10" class="k"/>
<line x1="975.06" y1="316.30" x2="975.06" y2="320.10" class="k"/>
<line x1="981.08" y1="316.30" x2="981.08" y2="320.10" class="k"/>
<line x1="987.09" y1="316.30" x2="987.09" y2="322.90" class="k"/>
<line x1="993.11" y1="316.30" x2="993.11" y2="320.10" class="k"/>
<line x1="999.12" y1="316.30" x2="999.12" y2="320.10" class="k"/>
<line x1="1005.13" y1="316.30" x2="1005.13" y2="320.10" class="k"/>
<line x1="1011.15" y1="316.30" x2="1011.15" y2="322.90" class="k"/>
<line x1="1017.16" y1="316.30" x2="1017.16" y2="320.10" class="k"/>
<line x1="1023.18" y1="316.30" x2="1023.18" y2="320.10" class="k"/>
<line x1="1029.19" y1="316.30" x2="1029.19" y2="320.10" class="k"/>
<line x1="1035.21" y1="316.30" x2="1035.21" y2="322.90" class="k"/>
<line x1="1041.22" y1="316.30" x2="1041.22" y2="320.10" class="k"/>
<line x1="1047.24" y1="316.30" x2="1047.24" y2="320.10" class="k"/>
<line x1="1053.26" y1="316.30" x2="1053.26" y2="320.10" class="k"/>
<line x1="1059.27" y1="316.30" x2="1059.27" y2="322.90" class="k"/>
<line x1="1065.28" y1="316.30" x2="1065.28" y2="320.10" class="k"/>
<line x1="1071.30" y1="316.30" x2="1071.30" y2="320.10" class="k"/>
<line x1="1077.32" y1="316.30" x2="1077.32" y2="320.10" class="k"/>
<line x1="1083.33" y1="316.30" x2="1083.33" y2="322.90" class="k"/>
<line x1="1089.35" y1="316.30" x2="1089.35" y2="320.10" class="k"/>
<line x1="1095.36" y1="316.30" x2="1095.36" y2="320.10" class="k"/>
<line x1="1101.38" y1="316.30" x2="1101.38" y2="320.10" class="k"/>
<line x1="1107.39" y1="316.30" x2="1107.39" y2="322.90" class="k"/>
<line x1="1113.40" y1="316.30" x2="1113.40" y2="320.10" class="k"/>
<line x1="1119.42" y1="316.30" x2="1119.42" y2="320.10" class="k"/>
<line x1="1125.43" y1="316.30" x2="1125.43" y2="320.10" class="k"/>
<line x1="1131.45" y1="316.30" x2="1131.45" y2="322.90" class="k"/>
<line x1="1137.46" y1="316.30" x2="1137.46" y2="320.10" class="k"/>
<line x1="1143.48" y1="316.30" x2="1143.48" y2="320.10" class="k"/>
<line x1="1149.49" y1="316.30" x2="1149.49" y2="320.10" class="k"/>
<line x1="1155.51" y1="316.30" x2="1155.51" y2="322.90" class="k"/>
<line x1="1161.53" y1="316.30" x2="1161.53" y2="320.10" class="k"/>
<line x1="1167.54" y1="316.30" x2="1167.54" y2="320.10" class="k"/>
<line x1="1173.56" y1="316.30" x2="1173.56" y2="320.10" class="k"/>
<line x1="1179.57" y1="316.30" x2="1179.57" y2="322.90" class="k"/>
<line x1="1185.59" y1="316.30" x2="1185.59" y2="320.10" class="k"/>
<line x1="1191.70" y1="316.30" x2="1191.70" y2="320.10" class="k"/>
<text x="704.67" y="333.90" transform="rotate(-45 704.67 333.90)" class="ml">May</text>
<text x="728.73" y="333.90" transform="rotate(-45 728.73 333.90)" class="ml">Sep</text>
<text x="752.79" y="333.90" transform="rotate(-45 752.79 333.90)" class="ml">Jan</text>
<text x="776.85" y="333.90" transform="rotate(-45 776.85 333.90)" class="ml">May</text>
<text x="800.91" y="333.90" transform="rotate(-45 800.91 333.90)" class="ml">Sep</text>
<text x="824.97" y="333.90" transform="rotate(-45 824.97 333.90)" class="ml">Jan</text>
<text x="849.03" y="333.90" transform="rotate(-45 849.03 333.90)" class="ml">May</text>
<text x="873.09" y="333.90" transform="rotate(-45 873.09 333.90)" class="ml">Sep</text>
<text x="897.15" y="333.90" transform="rotate(-45 897.15 333.90)" class="ml">Jan</text>
<text x="921.21" y="333.90" transform="rotate(-45 921.21 333.90)" class="ml">May</text>
<text x="945.27" y="333.90" transform="rotate(-45 945.27 333.90)" class="ml">Sep</text>
<text x="969.33" y="333.90" transform="rotate(-45 969.33 333.90)" class="ml">Jan</text>
<text x="993.39" y="333.90" transform="rotate(-45 993.39 333.90)" class="ml">May</text>
<text x="1017.45" y="333.90" transform="rotate(-45 1017.45 333.90)" class="ml">Sep</text>
<text x="1041.51" y="333.90" transform="rotate(-45 1041.51 333.90)" class="ml">Jan</text>
<text x="1065.57" y="333.90" transform="rotate(-45 1065.57 333.90)" class="ml">May</text>
<text x="1089.63" y="333.90" transform="rotate(-45 1089.63 333.90)" class="ml">Sep</text>
<text x="1113.69" y="333.90" transform="rotate(-45 1113.69 333.90)" class="ml">Jan</text>
<text x="1137.75" y="333.90" transform="rotate(-45 1137.75 333.90)" class="ml">May</text>
<text x="1161.81" y="333.90" transform="rotate(-45 1161.81 333.90)" class="ml">Sep</text>
<text x="1185.87" y="333.90" transform="rotate(-45 1185.87 333.90)" class="ml">Jan</text>
<text x="712.32" y="369.10" class="yr">2013</text>
<text x="772.47" y="369.10" class="yr">2014</text>
<text x="844.17" y="369.10" class="yr">2015</text>
<text x="919.72" y="369.10" class="yr">2016</text>
<text x="991.90" y="369.10" class="yr">2017</text>
<text x="1064.08" y="369.10" class="yr">2018</text>
<text x="1133.86" y="369.10" class="yr">2019</text>
<text x="1181.98" y="369.10" class="yr">2020</text>
<text x="944.30" y="10.80" class="ti">Unique Addresses</text>
<line x1="88.20" y1="675.92" x2="580.00" y2="675.92" class="g"/>
<line x1="88.20" y1="626.83" x2="580.00" y2="626.83" class="g"/>
<line x1="88.20" y1="577.75" x2="580.00" y2="577.75" class="g"/>
<line x1="88.20" y1="528.67" x2="580.00" y2="528.67" class="g"/>
<line x1="88.20" y1="479.58" x2="580.00" y2="479.58" class="g"/>
<line x1="112.67" y1="430.50" x2="112.67" y2="725.00" class="g"/>
<line x1="136.65" y1="430.50" x2="136.65" y2="725.00" class="g"/>
<line x1="160.62" y1="430.50" x2="160.62" y2="725.00" class="g"/>
<line x1="184.60" y1="430.50" x2="184.60" y2="725.00" class="g"/>
<line x1="208.57" y1="430.50" x2="208.57" y2="725.00" class="g"/>
<line x1="232.54" y1="430.50" x2="232.54" y2="725.00" class="g"/>
<line x1="256.52" y1="430.50" x2="256.52" y2="725.00" class="g"/>
<line x1="280.49" y1="430.50" x2="280.49" y2="725.00" class="g"/>
<line x1="304.47" y1="430.50" x2="304.47" y2="725.00" class="g"/>
<line x1="328.44" y1="430.50" x2="328.44" y2="725.00" class="g"/>
<line x1="352.41" y1="430.50" x2="352.41" y2="725.00" class="g"/>
<line x1="376.39" y1="430.50" x2="376.39" y2="725.00" class="g"/>
<line x1="400.36" y1="430.50" x2="400.36" y2="725.00" class="g"/>
<line x1="424.34" y1="430.50" x2="424.34" y2="725.00" class="g"/>
<line x1="448.31" y1="430.50" x2="448.31" y2="725.00" class="g"/>
<line x1="472.28" y1="430.50" x2="472.28" y2="725.00" class="g"/>
<line x1="496.26" y1="430.50" x2="496.26" y2="725.00" class="g"/>
<line x1="520.23" y1="430.50" x2="520.23" y2="725.00" class="g"/>
<line x1="544.21" y1="430.50" x2="544.21" y2="725.00" class="g"/>
<line x1="568.18" y1="430.50" x2="568.18" y2="725.00" class="g"/>
<path d="M88.3,700.6L88.5,680.0L88.7,680.0L88.9,700.8L89.1,699.5L89.3,690.0L89.5,689.1L89.7,697.0L89.9,698.2L90.1,701.9L90.3,701.3L90.5,699.3L90.7,694.4L90.9,692.0L91.1,700.9L91.3,700.4L91.5,702.7L91.6,702.1L91.8,702.3L92.0,694.1L92.2,695.4L92.4,704.4L92.6,703.9L92.8,704.4L93.0,703.5L93.2,704.3L93.4,698.5L93.6,696.1L93.8,704.7L94.0,707.0L94.2,704.5L94.4,705.4L94.6,704.6L94.8,698.9L95.0,696.6L95.2,706.9L95.4,704.1L95.6,705.9L95.8,703.4L96.0,700.3L96.2,694.6L96.4,696.1L96.6,704.5L96.8,704.2L97.0,703.0L97.2,702.4L97.4,704.9L97.6,697.9L97.8,698.8L98.0,707.0L98.2,707.7L98.3,707.6L98.5,706.3L98.7,705.3L98.9,698.4L99.1,699.7L99.3,705.3L99.5,706.5L99.7,705.4L99.9,706.7L100.1,705.1L100.3,698.4L100.5,697.3L100.7,705.6L100.9,704.1L101.1,706.3L101.3,705.8L101.5,706.3L101.7,698.6L101.9,697.3L102.1,705.8L102.3,705.7L102.5,706.2L102.7,705.6L102.9,705.6L103.1,696.2L103.3,698.0L103.5,705.1L103.7,705.9L103.9,705.3L104.1,704.6L104.3,703.2L104.5,697.5L104.7,698.1L104.8,707.1L105.0,706.8L105.2,707.1L105.4,704.1L105.6,703.2L105.8,696.6L106.0,695.6L106.2,703.1L106.4,703.0L106.6,704.8L106.8,703.7L107.0,699.7L107.2,693.8L107.4,692.1L107.6,703.6L107.8,704.0L108.0,702.9L108.2,702.8L108.4,700.4L108.6,694.4L108.8,693.5L109.0,703.7L109.2,704.3L109.4,702.9L109.6,704.3L109.8,705.5L110.0,689.0L110.2,689.0L110.4,705.6L110.6,706.4L110.8,704.4L111.0,705.5L111.2,700.2L111.4,693.7L111.5,692.0L111.7,702.4L111.9,701.9L112.1,703.8L112.3,703.7L112.5,701.8L112.7,694.0L112.9,692.9L113.1,705.1L113.3,704.8L113.5,706.1L113.7,708.1L113.9,706.6L114.1,697.5L114.3,695.1L114.5,704.0L114.7,705.7L114.9,708.0L115.1,706.7L115.3,702.4L115.5,694.7L115.7,695.8L115.9,704.4L116.1,704.2L116.3,707.4L116.5,707.0L116.7,705.1L116.9,693.0L117.1,692.6L117.3,703.1L117.5,705.6L117.7,703.6L117.9,704.0L118.1,703.2L118.2,693.9L118.4,692.4L118.6,701.9L118.8,703.7L119.0,704.4L119.2,702.9L119.4,698.1L119.6,691.5L119.8,689.3L120.0,700.8L120.2,703.6L120.4,705.1L120.6,705.7L120.8,703.0L121.0,692.9L121.2,693.4L121.4,704.6L121.6,706.4L121.8,705.5L122.0,705.1L122.2,704.5L122.4,697.5L122.6,695.3L122.8,707.0L123.0,710.1L123.2,710.2L123.4,708.0L123.6,709.6L123.8,699.4L124.0,699.9L124.2,710.0L124.4,709.3L124.6,708.6L124.8,707.9L124.9,707.3L125.1,697.6L125.3,693.2L125.5,705.2L125.7,703.6L125.9,703.8L126.1,703.1L126.3,698.1L126.5,689.1L126.7,687.8L126.9,695.5L127.1,697.8L127.3,696.8L127.5,698.6L127.7,696.4L127.9,686.9L128.1,685.9L128.3,697.3L128.5,695.9L128.7,696.2L128.9,692.8L129.1,691.4L129.3,681.6L129.5,680.8L129.7,694.4L129.9,693.1L130.1,675.0L130.3,675.0L130.5,690.4L130.7,683.7L130.9,680.9L131.1,692.9L131.3,692.4L131.4,694.7L131.6,690.5L131.8,690.0L132.0,682.0L132.2,683.4L132.4,694.3L132.6,694.3L132.8,694.8L133.0,696.0L133.2,693.4L133.4,689.1L133.6,688.1L133.8,694.6L134.0,697.2L134.2,696.0L134.4,695.0L134.6,695.3L134.8,689.5L135.0,687.6L135.2,696.3L135.4,696.1L135.6,698.7L135.8,698.4L136.0,696.4L136.2,691.6L136.4,689.5L136.6,697.3L136.8,699.0L137.0,701.6L137.2,700.6L137.4,700.1L137.6,691.5L137.8,693.3L138.0,702.9L138.1,703.3L138.3,705.1L138.5,702.1L138.7,701.3L138.9,694.1L139.1,694.6L139.3,702.9L139.5,704.5L139.7,703.4L139.9,702.0L140.1,701.2L140.3,694.2L140.5,694.3L140.7,702.9L140.9,704.5L141.1,704.4L141.3,702.5L141.5,702.7L141.7,696.2L141.9,694.2L142.1,703.7L142.3,703.8L142.5,703.7L142.7,703.5L142.9,702.7L143.1,696.3L143.3,696.0L143.5,703.2L143.7,703.1L143.9,701.6L144.1,701.4L144.3,701.9L144.5,694.3L144.7,694.1L144.8,701.0L145.0,702.4L145.2,702.4L145.4,700.2L145.6,697.4L145.8,692.6L146.0,690.7L146.2,700.8L146.4,700.5L146.6,702.2L146.8,702.6L147.0,697.7L147.2,691.0L147.4,689.5L147.6,697.0L147.8,698.5L148.0,684.0L148.2,684.0L148.4,695.0L148.6,686.2L148.8,687.8L149.0,697.2L149.2,698.1L149.4,700.2L149.6,697.5L149.8,694.7L150.0,688.0L150.2,686.3L150.4,696.5L150.6,698.9L150.8,697.9L151.0,698.5L151.2,697.6L151.3,689.6L151.5,686.2L151.7,694.9L151.9,697.1L152.1,697.5L152.3,695.9L152.5,692.5L152.7,685.1L152.9,685.9L153.1,697.2L153.3,701.2L153.5,699.4L153.7,697.7L153.9,696.3L154.1,690.6L154.3,688.8L154.5,697.6L154.7,695.4L154.9,697.6L155.1,698.4L155.3,695.0L155.5,689.1L155.7,685.8L155.9,698.9L156.1,699.3L156.3,700.1L156.5,698.3L156.7,698.5L156.9,688.4L157.1,687.9L157.3,698.7L157.5,701.6L157.7,702.1L157.9,701.3L158.0,699.8L158.2,691.1L158.4,691.4L158.6,701.1L158.8,702.6L159.0,702.6L159.2,700.6L159.4,700.5L159.6,692.8L159.8,690.6L160.0,696.5L160.2,698.1L160.4,701.0L160.6,699.0L160.8,697.6L161.0,688.6L161.2,688.0L161.4,698.3L161.6,696.8L161.8,697.6L162.0,697.0L162.2,697.1L162.4,689.0L162.6,689.3L162.8,700.8L163.0,699.8L163.2,699.0L163.4,699.3L163.6,698.2L163.8,689.3L164.0,690.8L164.2,700.5L164.4,703.5L164.6,703.5L164.7,701.7L164.9,700.5L165.1,692.9L165.3,692.9L165.5,700.5L165.7,701.4L165.9,703.1L166.1,701.7L166.3,698.7L166.5,690.9L166.7,691.1L166.9,698.7L167.1,701.2L167.3,699.2L167.5,701.5L167.7,699.9L167.9,691.5L168.1,692.4L168.3,701.1L168.5,702.0L168.7,703.4L168.9,703.4L169.1,701.2L169.3,695.6L169.5,694.7L169.7,703.4L169.9,703.4L170.1,703.4L170.3,702.0L170.5,703.3L170.7,695.6L170.9,693.4L171.1,702.0L171.3,703.2L171.4,703.2L171.6,703.1L171.8,701.9L172.0,693.9L172.2,695.9L172.4,703.0L172.6,702.8L172.8,703.0L173.0,702.9L173.2,700.8L173.4,694.0L173.6,691.6L173.8,700.1L174.0,701.2L174.2,701.4L174.4,700.1L174.6,698.6L174.8,690.6L175.0,689.2L175.2,696.5L175.4,697.2L175.6,696.2L175.8,696.9L176.0,693.6L176.2,686.0L176.4,686.3L176.6,697.2L176.8,698.1L177.0,697.3L177.2,696.5L177.4,696.0L177.6,687.1L177.8,685.8L177.9,696.7L178.1,697.3L178.3,698.8L178.5,700.0L178.7,696.7L178.9,689.5L179.1,689.4L179.3,698.2L179.5,702.0L179.7,700.1L179.9,699.7L180.1,698.6L180.3,691.3L180.5,693.2L180.7,701.1L180.9,701.7L181.1,700.0L181.3,699.0L181.5,698.7L181.7,688.8L181.9,688.2L182.1,697.6L182.3,697.6L182.5,698.2L182.7,695.6L182.9,694.8L183.1,689.5L183.3,684.9L183.5,695.7L183.7,696.3L183.9,697.0L184.1,696.0L184.3,693.5L184.5,683.6L184.6,685.3L184.8,695.4L185.0,697.4L185.2,697.0L185.4,699.1L185.6,697.7L185.8,690.3L186.0,690.9L186.2,698.9L186.4,699.2L186.6,699.9L186.8,699.8L187.0,699.2L187.2,689.2L187.4,691.0L187.6,699.5L187.8,699.4L188.0,699.3L188.2,699.2L188.4,698.3L188.6,688.6L188.8,688.8L189.0,698.9L189.2,698.8L189.4,698.7L189.6,698.6L189.8,696.2L190.0,689.1L190.2,687.7L190.4,695.3L190.6,696.7L190.8,696.0L191.0,695.7L191.2,695.3L191.3,686.3L191.5,683.3L191.7,693.2L191.9,696.2L192.1,695.1L192.3,696.6L192.5,694.9L192.7,684.1L192.9,682.9L193.1,691.8L193.3,694.4L193.5,693.7L193.7,692.4L193.9,691.9L194.1,686.8L194.3,684.5L194.5,692.5L194.7,694.4L194.9,696.5L195.1,694.3L195.3,693.9L195.5,685.4L195.7,683.8L195.9,693.1L196.1,693.8L196.3,693.4L196.5,694.2L196.7,690.5L196.9,683.9L197.1,680.1L197.3,690.0L197.5,690.7L197.7,693.3L197.9,692.5L198.0,690.6L198.2,680.1L198.4,679.1L198.6,692.3L198.8,692.4L199.0,691.3L199.2,688.2L199.4,685.7L199.6,679.6L199.8,677.1L200.0,685.7L200.2,688.0L200.4,687.2L200.6,686.3L200.8,687.5L201.0,679.6L201.2,677.4L201.4,688.4L201.6,690.0L201.8,688.1L202.0,688.8L202.2,688.9L202.4,680.2L202.6,677.8L202.8,687.3L203.0,686.4L203.2,687.4L203.4,689.6L203.6,685.7L203.8,677.9L204.0,675.3L204.2,685.7L204.4,689.2L204.5,689.8L204.7,688.1L204.9,687.2L205.1,678.1L205.3,677.3L205.5,687.8L205.7,690.5L205.9,690.3L206.1,687.3L206.3,688.5L206.5,679.2L206.7,675.0L206.9,688.0L207.1,688.5L207.3,688.6L207.5,684.6L207.7,685.7L207.9,674.4L208.1,695.0L208.3,695.0L208.5,686.7L208.7,688.5L208.9,685.5L209.1,685.3L209.3,675.2L209.5,673.0L209.7,685.9L209.9,691.0L210.1,691.0L210.3,688.3L210.5,689.0L210.7,677.0L210.9,673.6L211.1,686.3L211.2,689.0L211.4,686.1L211.6,683.2L211.8,681.1L212.0,672.4L212.2,669.8L212.4,681.9L212.6,685.4L212.8,687.8L213.0,687.1L213.2,687.0L213.4,674.8L213.6,674.6L213.8,686.6L214.0,688.0L214.2,688.7L214.4,686.7L214.6,683.3L214.8,672.6L215.0,670.6L215.2,683.4L215.4,684.8L215.6,684.9L215.8,684.8L216.0,685.0L216.2,667.9L216.4,665.3L216.6,682.5L216.8,680.8L217.0,681.4L217.2,681.4L217.4,676.8L217.6,669.1L217.8,667.5L217.9,682.9L218.1,688.3L218.3,686.4L218.5,682.9L218.7,678.8L218.9,670.2L219.1,664.3L219.3,677.2L219.5,678.5L219.7,681.1L219.9,681.8L220.1,679.0L220.3,672.0L220.5,667.7L220.7,680.1L220.9,683.6L221.1,684.0L221.3,688.6L221.5,687.7L221.7,677.4L221.9,676.9L222.1,687.5L222.3,688.4L222.5,688.4L222.7,688.3L222.9,687.6L223.1,675.9L223.3,671.2L223.5,687.9L223.7,686.6L223.9,688.1L224.1,682.6L224.3,681.7L224.4,671.5L224.6,669.5L224.8,685.4L225.0,682.5L225.2,687.5L225.4,685.3L225.6,684.2L225.8,672.4L226.0,666.5L226.2,681.0L226.4,683.9L226.6,681.9L226.8,682.8L227.0,680.6L227.2,670.4L227.4,666.3L227.6,679.5L227.8,683.6L228.0,680.4L228.2,678.7L228.4,678.2L228.6,667.1L228.8,666.9L229.0,675.8L229.2,682.2L229.4,678.3L229.6,676.0L229.8,677.8L230.0,666.6L230.2,663.5L230.4,676.5L230.6,681.4L230.8,678.5L231.0,679.0L231.1,676.5L231.3,664.8L231.5,663.2L231.7,677.6L231.9,679.0L232.1,678.5L232.3,676.2L232.5,674.1L232.7,667.3L232.9,666.3L233.1,679.0L233.3,677.9L233.5,680.4L233.7,678.5L233.9,675.0L234.1,665.4L234.3,661.9L234.5,675.6L234.7,680.9L234.9,681.8L235.1,680.8L235.3,679.1L235.5,664.1L235.7,661.5L235.9,677.9L236.1,675.3L236.3,677.5L236.5,676.0L236.7,670.0L236.9,662.1L237.1,662.3L237.3,676.3L237.5,681.6L237.7,679.3L237.8,679.7L238.0,673.6L238.2,663.2L238.4,661.2L238.6,677.2L238.8,677.9L239.0,682.2L239.2,680.6L239.4,679.6L239.6,666.5L239.8,661.2L240.0,674.7L240.2,675.4L240.4,680.1L240.6,678.1L240.8,672.2L241.0,658.7L241.2,660.5L241.4,674.7L241.6,674.7L241.8,679.5L242.0,676.6L242.2,673.0L242.4,659.9L242.6,655.7L242.8,675.5L243.0,680.7L243.2,674.7L243.4,673.0L243.6,672.6L243.8,658.0L244.0,658.4L244.2,676.6L244.4,675.8L244.5,678.5L244.7,678.6L244.9,672.1L245.1,652.0L245.3,651.9L245.5,663.8L245.7,668.4L245.9,669.9L246.1,668.8L246.3,665.8L246.5,622.0L246.7,622.0L246.9,670.3L247.1,677.4L247.3,677.4L247.5,677.3L247.7,676.9L247.9,661.3L248.1,656.0L248.3,673.0L248.5,674.4L248.7,674.0L248.9,671.8L249.1,670.7L249.3,656.7L249.5,653.2L249.7,672.5L249.9,678.0L250.1,677.8L250.3,683.6L250.5,680.0L250.7,668.2L250.9,664.1L251.0,677.1L251.2,681.9L251.4,681.6L251.6,683.4L251.8,672.8L252.0,656.8L252.2,655.9L252.4,674.2L252.6,677.3L252.8,679.7L253.0,673.1L253.2,669.9L253.4,648.8L253.6,648.1L253.8,664.9L254.0,669.4L254.2,667.0L254.4,663.3L254.6,666.5L254.8,649.2L255.0,651.4L255.2,674.7L255.4,677.1L255.6,675.4L255.8,674.9L256.0,667.3L256.2,656.2L256.4,650.1L256.6,667.2L256.8,671.0L257.0,671.6L257.2,670.4L257.4,662.5L257.6,648.0L257.7,650.2L257.9,662.9L258.1,666.3L258.3,670.2L258.5,666.8L258.7,665.2L258.9,652.3L259.1,646.2L259.3,661.7L259.5,598.0L259.7,598.0L259.9,669.0L260.1,666.9L260.3,652.3L260.5,652.9L260.7,669.0L260.9,670.0L261.1,670.0L261.3,670.6L261.5,666.3L261.7,652.0L261.9,652.3L262.1,668.3L262.3,666.6L262.5,670.1L262.7,668.0L262.9,662.8L263.1,652.1L263.3,649.1L263.5,664.0L263.7,663.6L263.9,666.6L264.1,662.2L264.3,662.8L264.4,651.2L264.6,651.7L264.8,670.4L265.0,670.4L265.2,670.6L265.4,670.5L265.6,668.2L265.8,659.3L266.0,653.7L266.2,672.2L266.4,671.8L266.6,669.1L266.8,667.1L267.0,663.1L267.2,652.4L267.4,646.0L267.6,664.0L267.8,665.7L268.0,623.0L268.2,623.0L268.4,665.3L268.6,645.4L268.8,648.2L269.0,666.8L269.2,670.1L269.4,667.6L269.6,668.2L269.8,661.3L270.0,645.4L270.2,639.8L270.4,658.2L270.6,657.0L270.8,661.3L271.0,658.3L271.1,651.0L271.3,635.6L271.5,636.0L271.7,651.0L271.9,657.0L272.1,655.1L272.3,656.0L272.5,654.0L272.7,638.5L272.9,633.2L273.1,656.1L273.3,659.9L273.5,663.2L273.7,662.4L273.9,664.1L274.1,641.6L274.3,640.9L274.5,664.6L274.7,665.1L274.9,666.6L275.1,668.4L275.3,663.3L275.5,640.3L275.7,639.1L275.9,662.8L276.1,663.9L276.3,668.4L276.5,663.0L276.7,659.3L276.9,623.5L277.1,633.3L277.3,661.6L277.5,655.4L277.6,655.7L277.8,662.8L278.0,660.3L278.2,629.6L278.4,634.8L278.6,662.9L278.8,667.8L279.0,667.7L279.2,667.6L279.4,660.5L279.6,637.7L279.8,634.5L280.0,662.9L280.2,666.6L280.4,662.8L280.6,662.2L280.8,653.6L281.0,664.0L281.2,664.0L281.4,655.0L281.6,661.4L281.8,660.1L282.0,659.7L282.2,651.2L282.4,624.4L282.6,629.1L282.8,648.1L283.0,658.4L283.2,648.0L283.4,653.1L283.6,645.5L283.8,616.3L284.0,621.5L284.2,643.2L284.3,652.3L284.5,653.2L284.7,652.6L284.9,647.1L285.1,621.2L285.3,612.2L285.5,645.4L285.7,638.3L285.9,639.9L286.1,633.9L286.3,628.0L286.5,613.4L286.7,605.5L286.9,640.3L287.1,642.0L287.3,638.7L287.5,637.1L287.7,635.1L287.9,613.6L288.1,617.9L288.3,636.9L288.5,644.0L288.7,641.0L288.9,640.3L289.1,634.9L289.3,616.8L289.5,608.0L289.7,641.6L289.9,646.5L290.1,638.7L290.3,639.4L290.5,639.4L290.7,620.4L290.9,614.7L291.0,643.9L291.2,635.6L291.4,643.5L291.6,637.8L291.8,631.1L292.0,589.0L292.2,589.0L292.4,640.7L292.6,644.9L292.8,643.3L293.0,644.1L293.2,641.7L293.4,613.9L293.6,611.1L293.8,643.7L294.0,643.3L294.2,650.7L294.4,641.1L294.6,636.2L294.8,605.5L295.0,601.8L295.2,636.7L295.4,641.9L295.6,639.1L295.8,629.5L296.0,626.9L296.2,613.7L296.4,603.0L296.6,638.2L296.8,634.6L297.0,642.9L297.2,641.8L297.4,640.0L297.5,613.2L297.7,612.8L297.9,632.7L298.1,641.9L298.3,636.8L298.5,635.3L298.7,630.7L298.9,605.7L299.1,608.0L299.3,637.6L299.5,644.2L299.7,640.5L299.9,633.0L300.1,624.1L300.3,608.0L300.5,602.8L300.7,628.0L300.9,634.7L301.1,625.6L301.3,625.0L301.5,629.4L301.7,600.2L301.9,603.1L302.1,630.0L302.3,635.7L302.5,642.1L302.7,633.7L302.9,630.3L303.1,609.0L303.3,608.1L303.5,636.2L303.7,636.9L303.9,640.9L304.1,636.6L304.2,632.7L304.4,612.5L304.6,605.7L304.8,639.3L305.0,640.5L305.2,633.7L305.4,638.1L305.6,634.8L305.8,607.0L306.0,597.5L306.2,621.8L306.4,628.7L306.6,624.9L306.8,628.6L307.0,625.2L307.2,603.5L307.4,600.1L307.6,629.6L307.8,629.0L308.0,641.4L308.2,637.5L308.4,639.0L308.6,614.2L308.8,604.1L309.0,635.3L309.2,633.4L309.4,643.1L309.6,645.3L309.8,633.0L310.0,616.1L310.2,614.9L310.4,638.2L310.6,644.3L310.8,641.0L310.9,641.5L311.1,626.7L311.3,609.0L311.5,599.5L311.7,628.8L311.9,632.0L312.1,635.2L312.3,625.8L312.5,623.8L312.7,606.5L312.9,592.0L313.1,592.0L313.3,634.6L313.5,632.3L313.7,635.6L313.9,630.1L314.1,608.1L314.3,609.3L314.5,637.5L314.7,635.3L314.9,639.0L315.1,635.1L315.3,638.4L315.5,603.3L315.7,606.1L315.9,641.9L316.1,641.1L316.3,639.4L316.5,632.3L316.7,622.1L316.9,610.9L317.1,602.2L317.3,638.9L317.5,635.9L317.6,643.3L317.8,635.4L318.0,645.0L318.2,645.0L318.4,601.2L318.6,633.8L318.8,636.2L319.0,637.2L319.2,642.3L319.4,632.5L319.6,614.0L319.8,607.6L320.0,638.5L320.2,637.9L320.4,642.2L320.6,638.8L320.8,629.7L321.0,607.5L321.2,615.3L321.4,636.0L321.6,638.3L321.8,636.4L322.0,634.5L322.2,625.2L322.4,606.8L322.6,605.2L322.8,631.6L323.0,631.5L323.2,625.6L323.4,625.1L323.6,623.1L323.8,599.6L324.0,598.9L324.1,629.6L324.3,634.1L324.5,638.1L324.7,639.9L324.9,628.6L325.1,617.6L325.3,613.6L325.5,634.6L325.7,639.2L325.9,642.6L326.1,642.6L326.3,642.6L326.5,621.8L326.7,621.4L326.9,641.2L327.1,640.6L327.3,639.8L327.5,642.3L327.7,632.4L327.9,609.5L328.1,610.2L328.3,637.6L328.5,641.3L328.7,642.0L328.9,640.6L329.1,628.4L329.3,607.8L329.5,607.5L329.7,637.8L329.9,633.0L330.1,640.3L330.3,631.6L330.5,628.4L330.7,597.0L330.8,601.1L331.0,628.2L331.2,627.6L331.4,628.2L331.6,627.8L331.8,615.6L332.0,582.5L332.2,581.5L332.4,610.7L332.6,624.8L332.8,612.4L333.0,616.7L333.2,614.4L333.4,580.8L333.6,579.1L333.8,615.3L334.0,625.4L334.2,636.5L334.4,630.1L334.6,624.2L334.8,588.4L335.0,584.4L335.2,615.7L335.4,629.4L335.6,626.7L335.8,624.2L336.0,621.4L336.2,588.3L336.4,575.4L336.6,616.8L336.8,621.8L337.0,627.3L337.2,622.0L337.4,615.6L337.5,579.1L337.7,574.6L337.9,611.9L338.1,608.0L338.3,612.5L338.5,598.7L338.7,597.9L338.9,562.9L339.1,568.1L339.3,603.5L339.5,607.5L339.7,609.2L339.9,606.7L340.1,603.8L340.3,566.9L340.5,556.9L340.7,612.0L340.9,616.3L341.1,627.2L341.3,621.9L341.5,612.2L341.7,575.9L341.9,571.5L342.1,601.1L342.3,612.9L342.5,611.0L342.7,612.7L342.9,600.6L343.1,569.3L343.3,566.8L343.5,601.8L343.7,612.7L343.9,624.8L344.1,601.1L344.2,595.2L344.4,565.5L344.6,562.1L344.8,616.6L345.0,616.6L345.2,625.7L345.4,625.6L345.6,609.0L345.8,575.3L346.0,575.7L346.2,607.9L346.4,616.3L346.6,610.7L346.8,612.2L347.0,616.2L347.2,583.7L347.4,567.5L347.6,610.4L347.8,624.6L348.0,624.5L348.2,621.2L348.4,616.4L348.6,588.3L348.8,572.8L349.0,619.8L349.2,624.0L349.4,623.9L349.6,623.9L349.8,617.2L350.0,583.7L350.2,583.0L350.4,618.4L350.6,612.7L350.7,615.9L350.9,617.0L351.1,600.4L351.3,576.9L351.5,569.7L351.7,607.3L351.9,639.0L352.1,639.0L352.3,619.9L352.5,611.8L352.7,575.5L352.9,562.9L353.1,612.3L353.3,613.3L353.5,610.3L353.7,608.3L353.9,608.1L354.1,569.4L354.3,572.7L354.5,612.4L354.7,612.0L354.9,619.1L355.1,603.5L355.3,598.3L355.5,560.4L355.7,547.9L355.9,604.7L356.1,594.9L356.3,604.7L356.5,601.1L356.7,588.9L356.9,554.8L357.1,563.4L357.3,597.7L357.4,605.1L357.6,601.7L357.8,604.4L358.0,593.7L358.2,560.0L358.4,561.8L358.6,594.3L358.8,597.8L359.0,608.1L359.2,599.7L359.4,593.3L359.6,554.6L359.8,556.7L360.0,601.8L360.2,600.8L360.4,605.0L360.6,603.6L360.8,597.8L361.0,564.2L361.2,560.0L361.4,603.3L361.6,617.3L361.8,609.7L362.0,608.1L362.2,605.4L362.4,578.0L362.6,566.6L362.8,613.7L363.0,617.7L363.2,624.6L363.4,609.8L363.6,595.1L363.8,568.8L364.0,558.3L364.1,598.4L364.3,611.9L364.5,608.4L364.7,606.0L364.9,592.0L365.1,551.0L365.3,555.5L365.5,583.5L365.7,595.5L365.9,596.0L366.1,591.1L366.3,590.9L366.5,563.6L366.7,563.7L366.9,596.7L367.1,602.1L367.3,607.6L367.5,602.5L367.7,608.0L367.9,566.6L368.1,565.6L368.3,603.6L368.5,609.9L368.7,612.2L368.9,612.8L369.1,603.3L369.3,573.3L369.5,569.2L369.7,616.5L369.9,610.1L370.1,615.2L370.3,611.7L370.5,606.1L370.7,563.8L370.8,575.6L371.0,616.6L371.2,625.8L371.4,610.4L371.6,611.5L371.8,601.2L372.0,555.9L372.2,556.1L372.4,587.4L372.6,596.9L372.8,589.8L373.0,577.7L373.2,578.6L373.4,553.0L373.6,552.0L373.8,592.5L374.0,595.6L374.2,608.3L374.4,612.3L374.6,588.5L374.8,552.0L375.0,552.9L375.2,593.9L375.4,592.0L375.6,590.5L375.8,587.2L376.0,594.4L376.2,560.7L376.4,561.8L376.6,591.8L376.8,599.4L377.0,598.3L377.2,597.8L377.3,598.3L377.5,558.9L377.7,551.3L377.9,544.0L378.1,544.0L378.3,598.8L378.5,594.3L378.7,578.3L378.9,553.6L379.1,548.4L379.3,593.3L379.5,591.6L379.7,590.9L379.9,592.3L380.1,593.8L380.3,558.6L380.5,557.3L380.7,596.9L380.9,607.6L381.1,616.8L381.3,612.1L381.5,605.9L381.7,580.4L381.9,582.1L382.1,620.7L382.3,628.2L382.5,629.9L382.7,630.4L382.9,617.0L383.1,591.4L383.3,582.7L383.5,618.6L383.7,633.0L383.9,631.9L384.0,622.5L384.2,623.6L384.4,594.7L384.6,586.5L384.8,629.3L385.0,626.8L385.2,629.4L385.4,624.2L385.6,618.1L385.8,593.2L386.0,582.1L386.2,626.3L386.4,620.5L386.6,620.4L386.8,622.4L387.0,614.9L387.2,592.8L387.4,591.4L387.6,623.1L387.8,636.0L388.0,631.4L388.2,630.7L388.4,630.5L388.6,585.0L388.8,586.8L389.0,628.2L389.2,635.9L389.4,633.6L389.6,631.1L389.8,617.9L390.0,577.0L390.2,577.1L390.4,625.4L390.6,638.3L390.7,636.4L390.9,639.2L391.1,630.1L391.3,571.7L391.5,577.9L391.7,637.8L391.9,634.6L392.1,639.0L392.3,627.4L392.5,618.0L392.7,577.9L392.9,661.0L393.1,661.0L393.3,625.7L393.5,616.4L393.7,623.9L393.9,636.3L394.1,579.6L394.3,590.2L394.5,637.4L394.7,625.2L394.9,638.5L395.1,638.5L395.3,613.8L395.5,576.4L395.7,571.4L395.9,617.2L396.1,618.5L396.3,628.9L396.5,634.9L396.7,628.5L396.9,587.1L397.1,553.0L397.2,553.0L397.4,638.0L397.6,638.0L397.8,638.0L398.0,628.1L398.2,585.4L398.4,576.8L398.6,634.2L398.8,631.0L399.0,635.5L399.2,635.5L399.4,626.6L399.6,584.3L399.8,580.7L400.0,627.8L400.2,616.5L400.4,617.0L400.6,612.8L400.8,611.0L401.0,564.1L401.2,561.5L401.4,599.6L401.6,609.8L401.8,597.7L402.0,601.2L402.2,587.1L402.4,558.4L402.6,548.0L402.8,612.2L403.0,612.1L403.2,619.9L403.4,611.5L403.6,590.8L403.8,552.4L403.9,632.0L404.1,632.0L404.3,618.2L404.5,604.6L404.7,599.7L404.9,584.3L405.1,558.7L405.3,555.8L405.5,591.1L405.7,609.1L405.9,599.2L406.1,588.3L406.3,582.5L406.5,547.2L406.7,539.7L406.9,578.2L407.1,587.6L407.3,601.5L407.5,589.8L407.7,589.0L407.9,548.0L408.1,552.5L408.3,608.3L408.5,623.7L408.7,626.9L408.9,624.1L409.1,600.8L409.3,579.0L409.5,567.0L409.7,622.0L409.9,624.4L410.1,623.6L410.3,621.9L410.5,620.2L410.6,599.3L410.8,588.3L411.0,615.2L411.2,613.6L411.4,611.9L411.6,610.2L411.8,603.6L412.0,563.2L412.2,554.3L412.4,599.2L412.6,601.9L412.8,600.2L413.0,592.9L413.2,570.5L413.4,538.3L413.6,535.0L413.8,585.4L414.0,584.7L414.2,590.0L414.4,580.3L414.6,557.0L414.8,532.1L415.0,521.5L415.2,571.6L415.4,572.3L415.6,579.2L415.8,560.2L416.0,560.3L416.2,533.5L416.4,529.2L416.6,575.1L416.8,587.0L417.0,589.3L417.2,589.2L417.3,575.0L417.5,552.4L417.7,541.0L417.9,490.0L418.1,490.0L418.3,565.6L418.5,571.8L418.7,579.1L418.9,532.5L419.1,521.0L419.3,584.5L419.5,582.2L419.7,589.4L419.9,575.2L420.1,563.7L420.3,511.1L420.5,519.5L420.7,571.8L420.9,480.0L421.1,480.0L421.3,573.4L421.5,569.1L421.7,520.9L421.9,533.9L422.1,601.5L422.3,602.8L422.5,603.6L422.7,603.2L422.9,605.3L423.1,566.6L423.3,570.8L423.5,607.7L423.7,608.5L423.8,609.4L424.0,610.2L424.2,606.0L424.4,566.0L424.6,568.6L424.8,603.8L425.0,611.7L425.2,612.1L425.4,602.3L425.6,582.7L425.8,555.1L426.0,557.9L426.2,590.0L426.4,602.2L426.6,588.7L426.8,593.5L427.0,590.5L427.2,560.0L427.4,562.8L427.6,595.1L427.8,606.5L428.0,607.4L428.2,597.3L428.4,598.3L428.6,572.8L428.8,571.6L429.0,612.6L429.2,621.3L429.4,628.2L429.6,623.4L429.8,619.7L430.0,589.6L430.2,587.6L430.4,624.7L430.5,627.0L430.7,645.5L430.9,635.2L431.1,635.1L431.3,607.2L431.5,610.4L431.7,637.4L431.9,647.4L432.1,640.7L432.3,639.5L432.5,634.2L432.7,613.5L432.9,603.4L433.1,640.2L433.3,644.5L433.5,642.0L433.7,637.5L433.9,638.6L434.1,615.4L434.3,609.3L434.5,641.9L434.7,644.4L434.9,646.1L435.1,643.4L435.3,637.8L435.5,614.0L435.7,611.1L435.9,641.7L436.1,650.1L436.3,649.0L436.5,653.9L436.7,647.8L436.9,625.6L437.1,621.7L437.2,648.6L437.4,649.3L437.6,651.5L437.8,646.0L438.0,637.0L438.2,614.9L438.4,617.1L438.6,647.9L438.8,653.3L439.0,660.1L439.2,652.3L439.4,643.1L439.6,616.3L439.8,616.7L440.0,640.5L440.2,637.5L440.4,651.0L440.6,648.1L440.8,649.8L441.0,660.0L441.2,660.0L441.4,647.1L441.6,649.8L441.8,651.0L442.0,643.0L442.2,633.5L442.4,608.4L442.6,614.6L442.8,642.3L443.0,642.5L443.2,643.7L443.4,646.3L443.6,634.8L443.8,608.2L443.9,610.0L444.1,634.4L444.3,643.0L444.5,647.3L444.7,631.5L444.9,621.9L445.1,606.3L445.3,606.1L445.5,633.7L445.7,640.4L445.9,600.0L446.1,600.0L446.3,638.4L446.5,613.0L446.7,611.9L446.9,646.3L447.1,656.2L447.3,655.1L447.5,654.5L447.7,649.5L447.9,615.2L448.1,608.4L448.3,641.7L448.5,647.4L448.7,645.9L448.9,644.8L449.1,638.2L449.3,616.2L449.5,610.5L449.7,643.9L449.9,639.0L450.1,635.9L450.3,636.2L450.4,643.1L450.6,617.8L450.8,616.3L451.0,647.2L451.2,649.9L451.4,654.9L451.6,655.4L451.8,648.1L452.0,620.9L452.2,619.3L452.4,643.2L452.6,650.3L452.8,656.3L453.0,640.3L453.2,640.1L453.4,620.7L453.6,612.6L453.8,650.1L454.0,649.5L454.2,648.4L454.4,640.4L454.6,636.0L454.8,620.9L455.0,608.8L455.2,641.6L455.4,642.7L455.6,647.4L455.8,644.7L456.0,648.3L456.2,625.2L456.4,623.6L456.6,639.6L456.8,647.5L457.0,645.3L457.1,638.1L457.3,641.8L457.5,614.1L457.7,608.9L457.9,639.5L458.1,633.3L458.3,640.1L458.5,639.0L458.7,632.3L458.9,607.6L459.1,603.3L459.3,624.0L459.5,635.3L459.7,634.8L459.9,636.1L460.1,629.9L460.3,603.6L460.5,608.9L460.7,636.2L460.9,638.6L461.1,630.9L461.3,632.3L461.5,631.8L461.7,606.0L461.9,606.6L462.1,635.8L462.3,638.2L462.5,635.8L462.7,639.9L462.9,638.7L463.1,610.0L463.3,607.3L463.5,635.9L463.7,638.9L463.8,647.0L464.0,638.2L464.2,636.1L464.4,609.4L464.6,613.4L464.8,649.4L465.0,649.8L465.2,645.4L465.4,634.9L465.6,635.3L465.8,609.3L466.0,602.7L466.2,624.8L466.4,629.7L466.6,630.3L466.8,625.4L467.0,630.7L467.2,594.6L467.4,601.0L467.6,625.4L467.8,629.9L468.0,636.5L468.2,635.6L468.4,622.7L468.6,597.8L468.8,592.1L469.0,617.3L469.2,625.0L469.4,626.3L469.6,622.3L469.8,618.0L470.0,591.0L470.2,590.8L470.3,617.5L470.5,616.6L470.7,620.6L470.9,614.5L471.1,613.0L471.3,592.8L471.5,591.3L471.7,624.8L471.9,626.7L472.1,633.0L472.3,631.7L472.5,630.2L472.7,603.7L472.9,595.9L473.1,633.7L473.3,632.9L473.5,637.7L473.7,628.9L473.9,631.3L474.1,599.0L474.3,596.5L474.5,619.7L474.7,631.6L474.9,635.9L475.1,629.8L475.3,627.7L475.5,597.6L475.7,602.6L475.9,636.9L476.1,641.0L476.3,639.0L476.5,633.1L476.7,629.0L476.9,607.2L477.0,592.6L477.2,633.4L477.4,628.8L477.6,622.7L477.8,625.4L478.0,620.0L478.2,591.5L478.4,591.1L478.6,621.6L478.8,619.2L479.0,621.6L479.2,619.9L479.4,615.6L479.6,599.1L479.8,586.5L480.0,616.4L480.2,621.8L480.4,630.8L480.6,616.6L480.8,613.2L481.0,596.9L481.2,586.6L481.4,623.6L481.6,624.1L481.8,620.5L482.0,622.6L482.2,610.2L482.4,588.9L482.6,582.6L482.8,609.6L483.0,617.6L483.2,611.7L483.4,608.8L483.6,608.7L483.7,583.2L483.9,579.2L484.1,611.0L484.3,614.6L484.5,616.2L484.7,614.1L484.9,607.2L485.1,587.3L485.3,586.8L485.5,615.9L485.7,620.5L485.9,610.5L486.1,607.3L486.3,598.1L486.5,576.4L486.7,580.6L486.9,602.9L487.1,606.9L487.3,615.4L487.5,604.8L487.7,605.3L487.9,581.0L488.1,582.7L488.3,606.7L488.5,612.4L488.7,612.0L488.9,605.1L489.1,601.0L489.3,585.8L489.5,579.6L489.7,610.9L489.9,614.1L490.1,616.1L490.3,615.5L490.4,610.1L490.6,586.9L490.8,593.2L491.0,614.8L491.2,614.5L491.4,614.1L491.6,613.8L491.8,609.2L492.0,590.4L492.2,587.6L492.4,612.4L492.6,612.1L492.8,611.7L493.0,611.4L493.2,610.7L493.4,582.0L493.6,587.2L493.8,609.9L494.0,608.7L494.2,608.4L494.4,608.7L494.6,603.6L494.8,586.2L495.0,571.9L495.2,601.1L495.4,598.3L495.6,602.8L495.8,597.8L496.0,594.6L496.2,568.4L496.4,562.2L496.6,589.9L496.8,594.6L496.9,599.4L497.1,589.9L497.3,583.7L497.5,557.5L497.7,563.8L497.9,592.2L498.1,595.4L498.3,585.2L498.5,580.0L498.7,572.2L498.9,545.6L499.1,545.4L499.3,576.6L499.5,578.6L499.7,585.8L499.9,583.5L500.1,575.8L500.3,564.7L500.5,559.0L500.7,595.2L500.9,599.6L501.1,590.9L501.3,589.4L501.5,579.8L501.7,551.4L501.9,548.6L502.1,580.2L502.3,577.1L502.5,581.8L502.7,581.3L502.9,569.4L503.1,554.3L503.3,541.3L503.5,571.3L503.6,579.5L503.8,575.5L504.0,578.7L504.2,566.9L504.4,548.7L504.6,540.2L504.8,575.1L505.0,579.2L505.2,583.3L505.4,578.1L505.6,567.0L505.8,549.6L506.0,551.9L506.2,581.0L506.4,579.2L506.6,588.3L506.8,587.7L507.0,575.3L507.2,559.7L507.4,563.0L507.6,585.9L507.8,591.0L508.0,587.1L508.2,586.8L508.4,585.3L508.6,558.0L508.8,558.5L509.0,578.5L509.2,582.0L509.4,585.4L509.6,581.7L509.8,584.5L510.0,620.0L510.2,620.0L510.3,586.6L510.5,585.0L510.7,585.1L510.9,586.5L511.1,582.1L511.3,561.4L511.5,560.0L511.7,585.3L511.9,583.9L512.1,583.8L512.3,572.6L512.5,569.4L512.7,552.5L512.9,551.0L513.1,583.3L513.3,583.1L513.5,582.8L513.7,582.5L513.9,576.1L514.1,558.7L514.3,548.8L514.5,581.3L514.7,581.1L514.9,580.8L515.1,580.6L515.3,577.6L515.5,554.1L515.7,540.0L515.9,573.0L516.1,581.0L516.3,575.9L516.5,579.0L516.7,576.0L516.9,558.0L517.0,546.8L517.2,581.4L517.4,581.5L517.6,581.5L517.8,573.2L518.0,570.3L518.2,533.2L518.4,533.7L518.6,568.5L518.8,574.0L519.0,568.9L519.2,557.7L519.4,557.0L519.6,531.9L519.8,531.9L520.0,502.0L520.2,502.0L520.4,566.3L520.6,568.5L520.8,568.9L521.0,539.9L521.2,530.6L521.4,566.9L521.6,577.8L521.8,574.9L522.0,570.3L522.2,567.4L522.4,535.7L522.6,533.5L522.8,573.8L523.0,568.8L523.2,567.3L523.4,563.8L523.5,567.2L523.7,537.6L523.9,530.9L524.1,566.5L524.3,567.1L524.5,560.8L524.7,565.6L524.9,560.7L525.1,530.7L525.3,520.0L525.5,560.5L525.7,574.0L525.9,576.0L526.1,578.0L526.3,569.6L526.5,543.2L526.7,535.1L526.9,584.3L527.1,579.3L527.3,590.2L527.5,580.4L527.7,571.4L527.9,555.4L528.1,547.5L528.3,586.3L528.5,586.2L528.7,583.1L528.9,582.0L529.1,577.0L529.3,537.2L529.5,547.3L529.7,588.0L529.9,595.4L530.1,594.4L530.2,595.1L530.4,596.6L530.6,570.0L530.8,555.8L531.0,597.8L531.2,598.2L531.4,598.6L531.6,599.0L531.8,588.2L532.0,555.5L532.2,552.2L532.4,597.1L532.6,598.6L532.8,596.9L533.0,583.0L533.2,583.0L533.4,561.9L533.6,549.9L533.8,584.8L534.0,590.6L534.2,576.7L534.4,581.1L534.6,571.7L534.8,530.5L535.0,531.3L535.2,571.8L535.4,580.6L535.6,564.4L535.8,572.3L536.0,561.8L536.2,543.4L536.4,530.9L536.6,575.8L536.8,583.9L536.9,579.3L537.1,587.0L537.3,573.9L537.5,552.8L537.7,542.5L537.9,582.0L538.1,590.5L538.3,587.5L538.5,582.5L538.7,576.1L538.9,544.2L539.1,541.1L539.3,571.9L539.5,579.9L539.7,583.1L539.9,582.5L540.1,573.6L540.3,549.3L540.5,546.4L540.7,567.3L540.9,580.1L541.1,581.7L541.3,578.4L541.5,567.7L541.7,538.0L541.9,535.9L542.1,567.5L542.3,569.3L542.5,583.1L542.7,569.9L542.9,558.1L543.1,536.7L543.3,536.8L543.4,562.7L543.6,573.7L543.8,577.2L544.0,573.9L544.2,561.2L544.4,540.0L544.6,538.9L544.8,577.4L545.0,581.1L545.2,579.6L545.4,576.0L545.6,577.2L545.8,549.1L546.0,549.8L546.2,583.7L546.4,590.4L546.6,578.4L546.8,577.3L547.0,568.8L547.2,545.8L547.4,539.0L547.6,581.2L547.8,585.7L548.0,575.4L548.2,581.9L548.4,566.2L548.6,539.5L548.8,539.6L549.0,568.5L549.2,563.8L549.4,571.4L549.6,577.9L549.8,574.3L550.0,545.3L550.1,540.7L550.3,579.6L550.5,580.5L550.7,590.2L550.9,592.6L551.1,576.8L551.3,553.2L551.5,549.2L551.7,584.4L551.9,576.5L552.1,589.3L552.3,584.3L552.5,569.8L552.7,548.5L552.9,550.8L553.1,583.3L553.3,586.4L553.5,590.5L553.7,594.2L553.9,583.1L554.1,563.7L554.3,554.8L554.5,588.8L554.7,596.0L554.9,602.5L555.1,594.5L555.3,596.8L555.5,560.8L555.7,555.9L555.9,590.0L556.1,591.9L556.3,596.5L556.5,594.7L556.7,594.3L556.8,564.8L557.0,551.3L557.2,590.6L557.4,593.3L557.6,590.8L557.8,588.5L558.0,582.8L558.2,566.1L558.4,561.6L558.6,595.2L558.8,596.7L559.0,590.6L559.2,587.1L559.4,573.9L559.6,557.9L559.8,551.0L560.0,587.3L560.2,596.2L560.4,591.4L560.6,584.1L560.8,584.1L561.0,558.0L561.2,559.8L561.4,586.2L561.6,597.8L561.8,595.3L562.0,588.6L562.2,592.7L562.4,564.4L562.6,561.1L562.8,591.0L563.0,590.4L563.2,594.5L563.4,581.2L563.5,573.9L563.7,558.8L563.9,555.2L564.1,585.5L564.3,580.8L564.5,592.2L564.7,576.7L564.9,575.9L565.1,549.7L565.3,543.2L565.5,584.9L565.7,582.8L565.9,582.5L566.1,576.0L566.3,570.5L566.5,541.3L566.7,541.8L566.9,587.4L567.1,585.9L567.3,590.7L567.5,582.4L567.7,579.3L567.9,545.3L568.1,539.2L568.3,568.3L568.5,576.5L568.7,572.4L568.9,562.8L569.1,576.1L569.3,547.5L569.5,541.9L569.7,579.1L569.9,582.6L570.0,583.1L570.2,582.4L570.4,580.3L570.6,561.3L570.8,551.4L571.0,584.1L571.2,590.0L571.4,583.6L571.6,586.7L571.8,586.7L572.0,548.8L572.2,545.1L572.4,583.7L572.6,589.8L572.8,585.1L573.0,584.5L573.2,571.5L573.4,544.3L573.6,542.4L573.8,579.2L574.0,590.0L574.2,578.7L574.4,577.4L574.6,581.7L574.8,551.6L575.0,553.8L575.2,577.9L575.4,575.8L575.6,585.3L575.8,577.6L576.0,581.2L576.2,556.3L576.4,557.8L576.6,582.4L576.7,586.0L576.9,585.8L577.1,576.3L577.3,570.2L577.5,550.6L577.7,554.6L577.9,579.8L578.1,575.2L578.3,572.6L578.5,573.3L578.7,570.5L578.9,553.4L579.1,542.1L579.3,570.4L579.5,579.7L579.7,576.2L579.9,573.0" class="d"/>
<path d="M88.2,701.02L88.7,701.03L89.2,701.04L89.7,701.06L90.2,701.08L90.7,701.10L91.2,701.12L91.7,701.14L92.2,701.16L92.7,701.18L93.2,701.20L93.7,701.22L94.2,701.23L94.7,701.24L95.2,701.24L95.7,701.24L96.2,701.23L96.7,701.22L97.2,701.20L97.7,701.18L98.2,701.15L98.7,701.13L99.2,701.10L99.7,701.07L100.2,701.03L100.7,700.99L101.2,700.94L101.7,700.88L102.2,700.81L102.7,700.74L103.2,700.66L103.7,700.57L104.2,700.48L104.7,700.39L105.2,700.30L105.7,700.21L106.2,700.11L106.7,700.02L107.2,699.93L107.7,699.84L108.2,699.74L108.7,699.65L109.2,699.56L109.7,699.47L110.2,699.37L110.7,699.28L111.2,699.19L111.7,699.10L112.2,699.00L112.7,698.91L113.2,698.82L113.7,698.73L114.2,698.64L114.7,698.54L115.2,698.45L115.7,698.36L116.2,698.27L116.7,698.17L117.2,698.08L117.7,697.99L118.2,697.90L118.7,697.81L119.2,697.72L119.7,697.63L120.2,697.54L120.7,697.46L121.2,697.37L121.7,697.29L122.2,697.22L122.7,697.14L123.2,697.07L123.7,696.99L124.2,696.92L124.7,696.85L125.2,696.77L125.7,696.70L126.2,696.63L126.7,696.56L127.2,696.48L127.7,696.41L128.2,696.34L128.7,696.26L129.2,696.19L129.7,696.12L130.2,696.05L130.7,695.97L131.2,695.90L131.7,695.83L132.2,695.75L132.7,695.68L133.2,695.61L133.7,695.53L134.2,695.46L134.7,695.39L135.2,695.31L135.7,695.24L136.2,695.16L136.7,695.09L137.2,695.02L137.7,694.94L138.2,694.87L138.7,694.80L139.2,694.73L139.7,694.66L140.2,694.59L140.7,694.53L141.2,694.47L141.7,694.42L142.2,694.38L142.7,694.34L143.2,694.30L143.7,694.27L144.2,694.24L144.7,694.21L145.2,694.18L145.7,694.15L146.2,694.12L146.7,694.09L147.2,694.06L147.7,694.03L148.2,694.00L148.7,693.98L149.2,693.95L149.7,693.92L150.2,693.89L150.7,693.87L151.2,693.84L151.7,693.82L152.2,693.80L152.7,693.79L153.2,693.77L153.7,693.76L154.2,693.74L154.7,693.73L155.2,693.72L155.7,693.71L156.2,693.70L156.7,693.69L157.2,693.68L157.7,693.66L158.2,693.65L158.7,693.64L159.2,693.63L159.7,693.62L160.2,693.61L160.7,693.60L161.2,693.59L161.7,693.57L162.2,693.56L162.7,693.55L163.2,693.53L163.7,693.52L164.2,693.50L164.7,693.47L165.2,693.44L165.7,693.41L166.2,693.37L166.7,693.33L167.2,693.28L167.7,693.24L168.2,693.19L168.7,693.14L169.2,693.09L169.7,693.04L170.2,692.99L170.7,692.93L171.2,692.86L171.7,692.79L172.2,692.71L172.7,692.62L173.2,692.52L173.7,692.41L174.2,692.30L174.7,692.18L175.2,692.06L175.7,691.94L176.2,691.82L176.7,691.70L177.2,691.57L177.7,691.45L178.2,691.33L178.7,691.21L179.2,691.08L179.7,690.96L180.2,690.84L180.7,690.71L181.2,690.58L181.7,690.45L182.2,690.32L182.7,690.18L183.2,690.04L183.7,689.90L184.2,689.75L184.7,689.61L185.2,689.46L185.7,689.31L186.2,689.16L186.7,689.01L187.2,688.86L187.7,688.70L188.2,688.55L188.7,688.40L189.2,688.25L189.7,688.10L190.2,687.95L190.7,687.80L191.2,687.64L191.7,687.48L192.2,687.31L192.7,687.13L193.2,686.95L193.7,686.76L194.2,686.57L194.7,686.37L195.2,686.17L195.7,685.97L196.2,685.76L196.7,685.56L197.2,685.35L197.7,685.15L198.2,684.95L198.7,684.75L199.2,684.55L199.7,684.36L200.2,684.17L200.7,683.98L201.2,683.80L201.7,683.63L202.2,683.46L202.7,683.28L203.2,683.11L203.7,682.94L204.2,682.77L204.7,682.60L205.2,682.43L205.7,682.26L206.2,682.09L206.7,681.92L207.2,681.75L207.7,681.58L208.2,681.41L208.7,681.24L209.2,681.07L209.7,680.91L210.2,680.74L210.7,680.57L211.2,680.41L211.7,680.24L212.2,680.07L212.7,679.91L213.2,679.74L213.7,679.58L214.2,679.41L214.7,679.25L215.2,679.08L215.7,678.92L216.2,678.75L216.7,678.59L217.2,678.42L217.7,678.25L218.2,678.09L218.7,677.91L219.2,677.73L219.7,677.55L220.2,677.36L220.7,677.16L221.2,676.96L221.7,676.75L222.2,676.54L222.7,676.32L223.2,676.10L223.7,675.89L224.2,675.67L224.7,675.45L225.2,675.23L225.7,675.01L226.2,674.80L226.7,674.58L227.2,674.36L227.7,674.14L228.2,673.92L228.7,673.71L229.2,673.49L229.7,673.27L230.2,673.05L230.7,672.83L231.2,672.61L231.7,672.39L232.2,672.17L232.7,671.94L233.2,671.71L233.7,671.47L234.2,671.23L234.7,670.99L235.2,670.75L235.7,670.50L236.2,670.25L236.7,670.00L237.2,669.75L237.7,669.50L238.2,669.25L238.7,669.00L239.2,668.75L239.7,668.50L240.2,668.25L240.7,668.00L241.2,667.75L241.7,667.49L242.2,667.23L242.7,666.97L243.2,666.70L243.7,666.43L244.2,666.15L244.7,665.86L245.2,665.57L245.7,665.28L246.2,664.99L246.7,664.69L247.2,664.40L247.7,664.10L248.2,663.81L248.7,663.51L249.2,663.22L249.7,662.92L250.2,662.63L250.7,662.33L251.2,662.03L251.7,661.72L252.2,661.41L252.7,661.09L253.2,660.75L253.7,660.40L254.2,660.04L254.7,659.67L255.2,659.29L255.7,658.91L256.2,658.52L256.7,658.13L257.2,657.74L257.7,657.34L258.2,656.95L258.7,656.55L259.2,656.16L259.7,655.75L260.2,655.34L260.7,654.91L261.2,654.47L261.7,654.01L262.2,653.52L262.7,653.02L263.2,652.50L263.7,651.96L264.2,651.42L264.7,650.87L265.2,650.32L265.7,649.77L266.2,649.21L266.7,648.66L267.2,648.10L267.7,647.55L268.2,646.99L268.7,646.44L269.2,645.88L269.7,645.33L270.2,644.77L270.7,644.21L271.2,643.65L271.7,643.10L272.2,642.54L272.7,641.98L273.2,641.42L273.7,640.86L274.2,640.31L274.7,639.75L275.2,639.21L275.7,638.67L276.2,638.15L276.7,637.64L277.2,637.15L277.7,636.67L278.2,636.21L278.7,635.76L279.2,635.31L279.7,634.87L280.2,634.43L280.7,633.99L281.2,633.56L281.7,633.14L282.2,632.72L282.7,632.33L283.2,631.95L283.7,631.58L284.2,631.24L284.7,630.91L285.2,630.60L285.7,630.29L286.2,629.99L286.7,629.70L287.2,629.40L287.7,629.10L288.2,628.81L288.7,628.51L289.2,628.22L289.7,627.92L290.2,627.63L290.7,627.34L291.2,627.04L291.7,626.75L292.2,626.47L292.7,626.18L293.2,625.91L293.7,625.64L294.2,625.37L294.7,625.11L295.2,624.86L295.7,624.60L296.2,624.35L296.7,624.10L297.2,623.85L297.7,623.60L298.2,623.35L298.7,623.10L299.2,622.85L299.7,622.60L300.2,622.35L300.7,622.10L301.2,621.86L301.7,621.62L302.2,621.38L302.7,621.16L303.2,620.94L303.7,620.74L304.2,620.55L304.7,620.36L305.2,620.19L305.7,620.01L306.2,619.85L306.7,619.68L307.2,619.51L307.7,619.35L308.2,619.18L308.7,619.02L309.2,618.85L309.7,618.69L310.2,618.52L310.7,618.35L311.2,618.18L311.7,618.00L312.2,617.82L312.7,617.62L313.2,617.41L313.7,617.19L314.2,616.95L314.7,616.70L315.2,616.44L315.7,616.18L316.2,615.91L316.7,615.64L317.2,615.36L317.7,615.09L318.2,614.82L318.7,614.54L319.2,614.27L319.7,614.00L320.2,613.72L320.7,613.44L321.2,613.16L321.7,612.87L322.2,612.57L322.7,612.27L323.2,611.95L323.7,611.63L324.2,611.29L324.7,610.95L325.2,610.61L325.7,610.26L326.2,609.91L326.7,609.56L327.2,609.21L327.7,608.85L328.2,608.50L328.7,608.15L329.2,607.80L329.7,607.45L330.2,607.10L330.7,606.75L331.2,606.39L331.7,606.04L332.2,605.69L332.7,605.34L333.2,604.99L333.7,604.63L334.2,604.28L334.7,603.92L335.2,603.57L335.7,603.21L336.2,602.85L336.7,602.48L337.2,602.12L337.7,601.75L338.2,601.38L338.7,601.02L339.2,600.65L339.7,600.28L340.2,599.91L340.7,599.54L341.2,599.18L341.7,598.81L342.2,598.44L342.7,598.07L343.2,597.70L343.7,597.33L344.2,596.97L344.7,596.60L345.2,596.23L345.7,595.87L346.2,595.50L346.7,595.14L347.2,594.79L347.7,594.45L348.2,594.12L348.7,593.81L349.2,593.51L349.7,593.22L350.2,592.94L350.7,592.68L351.2,592.41L351.7,592.15L352.2,591.89L352.7,591.63L353.2,591.38L353.7,591.12L354.2,590.86L354.7,590.60L355.2,590.35L355.7,590.09L356.2,589.83L356.7,589.57L357.2,589.31L357.7,589.06L358.2,588.80L358.7,588.55L359.2,588.30L359.7,588.06L360.2,587.84L360.7,587.63L361.2,587.44L361.7,587.27L362.2,587.13L362.7,587.00L363.2,586.89L363.7,586.79L364.2,586.69L364.7,586.60L365.2,586.51L365.7,586.42L366.2,586.34L366.7,586.25L367.2,586.16L367.7,586.07L368.2,585.98L368.7,585.90L369.2,585.82L369.7,585.74L370.2,585.68L370.7,585.63L371.2,585.59L371.7,585.58L372.2,585.58L372.7,585.61L373.2,585.64L373.7,585.69L374.2,585.75L374.7,585.81L375.2,585.87L375.7,585.93L376.2,585.99L376.7,586.06L377.2,586.12L377.7,586.18L378.2,586.25L378.7,586.31L379.2,586.38L379.7,586.44L380.2,586.51L380.7,586.59L381.2,586.67L381.7,586.76L382.2,586.86L382.7,586.97L383.2,587.08L383.7,587.20L384.2,587.32L384.7,587.45L385.2,587.58L385.7,587.71L386.2,587.83L386.7,587.96L387.2,588.09L387.7,588.22L388.2,588.35L388.7,588.48L389.2,588.61L389.7,588.74L390.2,588.87L390.7,588.99L391.2,589.12L391.7,589.25L392.2,589.37L392.7,589.48L393.2,589.58L393.7,589.67L394.2,589.73L394.7,589.76L395.2,589.77L395.7,589.76L396.2,589.72L396.7,589.67L397.2,589.61L397.7,589.54L398.2,589.47L398.7,589.40L399.2,589.33L399.7,589.26L400.2,589.18L400.7,589.11L401.2,589.04L401.7,588.97L402.2,588.89L402.7,588.82L403.2,588.75L403.7,588.67L404.2,588.59L404.7,588.52L405.2,588.44L405.7,588.36L406.2,588.28L406.7,588.19L407.2,588.11L407.7,588.03L408.2,587.94L408.7,587.86L409.2,587.78L409.7,587.70L410.2,587.62L410.7,587.55L411.2,587.50L411.7,587.46L412.2,587.45L412.7,587.46L413.2,587.50L413.7,587.57L414.2,587.66L414.7,587.77L415.2,587.89L415.7,588.01L416.2,588.14L416.7,588.27L417.2,588.40L417.7,588.55L418.2,588.70L418.7,588.88L419.2,589.10L419.7,589.36L420.2,589.67L420.7,590.05L421.2,590.48L421.7,590.96L422.2,591.49L422.7,592.04L423.2,592.60L423.7,593.18L424.2,593.76L424.7,594.35L425.2,594.94L425.7,595.53L426.2,596.14L426.7,596.77L427.2,597.42L427.7,598.10L428.2,598.82L428.7,599.58L429.2,600.36L429.7,601.18L430.2,602.01L430.7,602.85L431.2,603.71L431.7,604.56L432.2,605.42L432.7,606.28L433.2,607.14L433.7,607.99L434.2,608.84L434.7,609.68L435.2,610.50L435.7,611.30L436.2,612.08L436.7,612.83L437.2,613.56L437.7,614.27L438.2,614.97L438.7,615.65L439.2,616.32L439.7,616.99L440.2,617.64L440.7,618.27L441.2,618.88L441.7,619.44L442.2,619.97L442.7,620.45L443.2,620.88L443.7,621.27L444.2,621.63L444.7,621.97L445.2,622.29L445.7,622.61L446.2,622.92L446.7,623.24L447.2,623.54L447.7,623.85L448.2,624.15L448.7,624.44L449.2,624.72L449.7,624.97L450.2,625.20L450.7,625.40L451.2,625.57L451.7,625.71L452.2,625.83L452.7,625.93L453.2,626.02L453.7,626.11L454.2,626.18L454.7,626.25L455.2,626.30L455.7,626.33L456.2,626.34L456.7,626.31L457.2,626.25L457.7,626.16L458.2,626.05L458.7,625.91L459.2,625.77L459.7,625.61L460.2,625.44L460.7,625.26L461.2,625.08L461.7,624.87L462.2,624.65L462.7,624.40L463.2,624.12L463.7,623.81L464.2,623.48L464.7,623.13L465.2,622.77L465.7,622.40L466.2,622.03L466.7,621.65L467.2,621.27L467.7,620.89L468.2,620.51L468.7,620.13L469.2,619.74L469.7,619.34L470.2,618.94L470.7,618.51L471.2,618.08L471.7,617.62L472.2,617.16L472.7,616.68L473.2,616.19L473.7,615.69L474.2,615.20L474.7,614.70L475.2,614.20L475.7,613.70L476.2,613.19L476.7,612.69L477.2,612.17L477.7,611.64L478.2,611.09L478.7,610.51L479.2,609.90L479.7,609.26L480.2,608.59L480.7,607.89L481.2,607.17L481.7,606.44L482.2,605.69L482.7,604.95L483.2,604.20L483.7,603.45L484.2,602.70L484.7,601.94L485.2,601.19L485.7,600.43L486.2,599.66L486.7,598.87L487.2,598.08L487.7,597.26L488.2,596.44L488.7,595.59L489.2,594.74L489.7,593.88L490.2,593.01L490.7,592.14L491.2,591.27L491.7,590.40L492.2,589.53L492.7,588.66L493.2,587.79L493.7,586.93L494.2,586.08L494.7,585.23L495.2,584.40L495.7,583.58L496.2,582.78L496.7,582.00L497.2,581.23L497.7,580.46L498.2,579.71L498.7,578.95L499.2,578.20L499.7,577.45L500.2,576.70L500.7,575.95L501.2,575.21L501.7,574.47L502.2,573.74L502.7,573.02L503.2,572.33L503.7,571.65L504.2,571.00L504.7,570.37L505.2,569.76L505.7,569.17L506.2,568.59L506.7,568.02L507.2,567.45L507.7,566.88L508.2,566.31L508.7,565.75L509.2,565.18L509.7,564.63L510.2,564.08L510.7,563.56L511.2,563.05L511.7,562.58L512.2,562.13L512.7,561.73L513.2,561.35L513.7,560.99L514.2,560.66L514.7,560.33L515.2,560.01L515.7,559.70L516.2,559.39L516.7,559.08L517.2,558.77L517.7,558.47L518.2,558.17L518.7,557.89L519.2,557.62L519.7,557.38L520.2,557.17L520.7,556.99L521.2,556.84L521.7,556.71L522.2,556.61L522.7,556.51L523.2,556.43L523.7,556.35L524.2,556.28L524.7,556.22L525.2,556.18L525.7,556.16L526.2,556.17L526.7,556.21L527.2,556.27L527.7,556.37L528.2,556.49L528.7,556.62L529.2,556.76L529.7,556.91L530.2,557.06L530.7,557.21L531.2,557.36L531.7,557.51L532.2,557.66L532.7,557.82L533.2,557.97L533.7,558.12L534.2,558.28L534.7,558.44L535.2,558.60L535.7,558.77L536.2,558.96L536.7,559.15L537.2,559.36L537.7,559.58L538.2,559.81L538.7,560.05L539.2,560.29L539.7,560.54L540.2,560.79L540.7,561.03L541.2,561.28L541.7,561.53L542.2,561.78L542.7,562.03L543.2,562.27L543.7,562.52L544.2,562.77L544.7,563.02L545.2,563.26L545.7,563.51L546.2,563.76L546.7,564.01L547.2,564.25L547.7,564.50L548.2,564.74L548.7,564.98L549.2,565.22L549.7,565.46L550.2,565.69L550.7,565.92L551.2,566.16L551.7,566.39L552.2,566.62L552.7,566.85L553.2,567.08L553.7,567.31L554.2,567.54L554.7,567.76L555.2,567.99L555.7,568.22L556.2,568.45L556.7,568.68L557.2,568.91L557.7,569.13L558.2,569.35L558.7,569.56L559.2,569.75L559.7,569.93L560.2,570.09L560.7,570.24L561.2,570.37L561.7,570.48L562.2,570.58L562.7,570.68L563.2,570.77L563.7,570.87L564.2,570.96L564.7,571.05L565.2,571.14L565.7,571.23L566.2,571.32L566.7,571.41L567.2,571.49L567.7,571.58L568.2,571.66L568.7,571.75L569.2,571.82L569.7,571.89L570.2,571.94L570.7,571.99L571.2,572.04L571.7,572.07L572.2,572.10L572.7,572.13L573.2,572.16L573.7,572.18L574.2,572.21L574.7,572.23L575.2,572.26L575.7,572.28L576.2,572.31L576.7,572.33L577.2,572.36L577.7,572.38L578.2,572.40L578.7,572.42L579.2,572.44L579.7,572.46" class="t"/>
<path d="M88.20,725.00V430.50H580.00V725.00Z" class="f"/>
<line x1="82.20" y1="725.00" x2="88.20" y2="725.00" class="k"/>
<text x="76.70" y="730.00" class="yl">0</text>
<line x1="82.20" y1="675.92" x2="88.20" y2="675.92" class="k"/>
<text x="76.70" y="680.92" class="yl">100,000</text>
<line x1="82.20" y1="626.83" x2="88.20" y2="626.83" class="k"/>
<text x="76.70" y="631.83" class="yl">200,000</text>
<line x1="82.20" y1="577.75" x2="88.20" y2="577.75" class="k"/>
<text x="76.70" y="582.75" class="yl">300,000</text>
<line x1="82.20" y1="528.67" x2="88.20" y2="528.67" class="k"/>
<text x="76.70" y="533.67" class="yl">400,000</text>
<line x1="82.20" y1="479.58" x2="88.20" y2="479.58" class="k"/>
<text x="76.70" y="484.58" class="yl">500,000</text>
<line x1="82.20" y1="430.50" x2="88.20" y2="430.50" class="k"/>
<text x="76.70" y="435.50" class="yl">600,000</text>
<line x1="88.20" y1="725.00" x2="88.20" y2="731.60" class="k"/>
<line x1="94.69" y1="725.00" x2="94.69" y2="728.80" class="k"/>
<line x1="100.69" y1="725.00" x2="100.69" y2="728.80" class="k"/>
<line x1="106.68" y1="725.00" x2="106.68" y2="728.80" class="k"/>
<line x1="112.67" y1="725.00" x2="112.67" y2="731.60" class="k"/>
<line x1="118.67" y1="725.00" x2="118.67" y2="728.80" class="k"/>
<line x1="124.66" y1="725.00" x2="124.66" y2="728.80" class="k"/>
<line x1="130.65" y1="725.00" x2="130.65" y2="728.80" class="k"/>
<line x1="136.65" y1="725.00" x2="136.65" y2="731.60" class="k"/>
<line x1="142.64" y1="725.00" x2="142.64" y2="728.80" class="k"/>
<line x1="148.63" y1="725.00" x2="148.63" y2="728.80" class="k"/>
<line x1="154.63" y1="725.00" x2="154.63" y2="728.80" class="k"/>
<line x1="160.62" y1="725.00" x2="160.62" y2="731.60" class="k"/>
<line x1="166.62" y1="725.00" x2="166.62" y2="728.80" class="k"/>
<line x1="172.61" y1="725.00" x2="172.61" y2="728.80" class="k"/>
<line x1="178.60" y1="725.00" x2="178.60" y2="728.80" class="k"/>
<line x1="184.60" y1="725.00" x2="184.60" y2="731.60" class="k"/>
<line x1="190.59" y1="725.00" x2="190.59" y2="728.80" class="k"/>
<line x1="196.58" y1="725.00" x2="196.58" y2="728.80" class="k"/>
<line x1="202.58" y1="725.00" x2="202.58" y2="728.80" class="k"/>
<line x1="208.57" y1="725.00" x2="208.57" y2="731.60" class="k"/>
<line x1="214.56" y1="725.00" x2="214.56" y2="728.80" class="k"/>
<line x1="220.56" y1="725.00" x2="220.56" y2="728.80" class="k"/>
<line x1="226.55" y1="725.00" x2="226.55" y2="728.80" class="k"/>
<line x1="232.54" y1="725.00" x2="232.54" y2="731.60" class="k"/>
<line x1="238.54" y1="725.00" x2="238.54" y2="728.80" class="k"/>
<line x1="244.53" y1="725.00" x2="244.53" y2="728.80" class="k"/>
<line x1="250.52" y1="725.00" x2="250.52" y2="728.80" class="k"/>
<line x1="256.52" y1="725.00" x2="256.52" y2="731.60" class="k"/>
<line x1="262.51" y1="725.00" x2="262.51" y2="728.80" class="k"/>
<line x1="268.50" y1="725.00" x2="268.50" y2="728.80" class="k"/>
<line x1="274.50" y1="725.00" x2="274.50" y2="728.80" class="k"/>
<line x1="280.49" y1="725.00" x2="280.49" y2="731.60" class="k"/>
<line x1="286.49" y1="725.00" x2="286.49" y2="728.80" class="k"/>
<line x1="292.48" y1="725.00" x2="292.48" y2="728.80" class="k"/>
<line x1="298.47" y1="725.00" x2="298.47" y2="728.80" class="k"/>
<line x1="304.47" y1="725.00" x2="304.47" y2="731.60" class="k"/>
<line x1="310.46" y1="725.00" x2="310.46" y2="728.80" class="k"/>
<line x1="316.45" y1="725.00" x2="316.45" y2="728.80" class="k"/>
<line x1="322.45" y1="725.00" x2="322.45" y2="728.80" class="k"/>
<line x1="328.44" y1="725.00" x2="328.44" y2="731.60" class="k"/>
<line x1="334.43" y1="725.00" x2="334.43" y2="728.80" class="k"/>
<line x1="340.43" y1="725.00" x2="340.43" y2="728.80" class="k"/>
<line x1="346.42" y1="725.00" x2="346.42" y2="728.80" class="k"/>
<line x1="352.41" y1="725.00" x2="352.41" y2="731.60" class="k"/>
<line x1="358.41" y1="725.00" x2="358.41" y2="728.80" class="k"/>
<line x1="364.40" y1="725.00" x2="364.40" y2="728.80" class="k"/>
<line x1="370.39" y1="725.00" x2="370.39" y2="728.80" class="k"/>
<line x1="376.39" y1="725.00" x2="376.39" y2="731.60" class="k"/>
<line x1="382.38" y1="725.00" x2="382.38" y2="728.80" class="k"/>
<line x1="388.38" y1="725.00" x2="388.38" y2="728.80" class="k"/>
<line x1="394.37" y1="725.00" x2="394.37" y2="728.80" class="k"/>
<line x1="400.36" y1="725.00" x2="400.36" y2="731.60" class="k"/>
<line x1="406.36" y1="725.00" x2="406.36" y2="728.80" class="k"/>
<line x1="412.35" y1="725.00" x2="412.35" y2="728.80" class="k"/>
<line x1="418.34" y1="725.00" x2="418.34" y2="728.80" class="k"/>
<line x1="424.34" y1="725.00" x2="424.34" y2="731.60" class="k"/>
<line x1="430.33" y1="725.00" x2="430.33" y2="728.80" class="k"/>
<line x1="436.32" y1="725.00" x2="436.32" y2="728.80" class="k"/>
<line x1="442.32" y1="725.00" x2="442.32" y2="728.80" class="k"/>
<line x1="448.31" y1="725.00" x2="448.31" y2="731.60" class="k"/>
<line x1="454.30" y1="725.00" x2="454.30" y2="728.80" class="k"/>
<line x1="460.30" y1="725.00" x2="460.30" y2="728.80" class="k"/>
<line x1="466.29" y1="725.00" x2="466.29" y2="728.80" class="k"/>
<line x1="472.28" y1="725.00" x2="472.28" y2="731.60" class="k"/>
<line x1="478.28" y1="725.00" x2="478.28" y2="728.80" class="k"/>
<line x1="484.27" y1="725.00" x2="484.27" y2="728.80" class="k"/>
<line x1="490.26" y1="725.00" x2="490.26" y2="728.80" class="k"/>
<line x1="496.26" y1="725.00" x2="496.26" y2="731.60" class="k"/>
<line x1="502.25" y1="725.00" x2="502.25" y2="728.80" class="k"/>
<line x1="508.25" y1="725.00" x2="508.25" y2="728.80" class="k"/>
<line x1="514.24" y1="725.00" x2="514.24" y2="728.80" class="k"/>
<line x1="520.23" y1="725.00" x2="520.23" y2="731.60" class="k"/>
<line x1="526.23" y1="725.00" x2="526.23" y2="728.80" class="k"/>
<line x1="532.22" y1="725.00" x2="532.22" y2="728.80" class="k"/>
<line x1="538.21" y1="725.00" x2="538.21" y2="728.80" class="k"/>
<line x1="544.21" y1="725.00" x2="544.21" y2="731.60" class="k"/>
<line x1="550.20" y1="725.00" x2="550.20" y2="728.80" class="k"/>
<line x1="556.19" y1="725.00" x2="556.19" y2="728.80" class="k"/>
<line x1="562.19" y1="725.00" x2="562.19" y2="728.80" class="k"/>
<line x1="568.18" y1="725.00" x2="568.18" y2="731.60" class="k"/>
<line x1="574.17" y1="725.00" x2="574.17" y2="728.80" class="k"/>
<line x1="580.00" y1="725.00" x2="580.00" y2="728.80" class="k"/>
<text x="95.00" y="742.60" transform="rotate(-45 95.00 742.60)" class="ml">May</text>
<text x="118.97" y="742.60" transform="rotate(-45 118.97 742.60)" class="ml">Sep</text>
<text x="142.95" y="742.60" transform="rotate(-45 142.95 742.60)" class="ml">Jan</text>
<text x="166.92" y="742.60" transform="rotate(-45 166.92 742.60)" class="ml">May</text>
<text x="190.90" y="742.60" transform="rotate(-45 190.90 742.60)" class="ml">Sep</text>
<text x="214.87" y="742.60" transform="rotate(-45 214.87 742.60)" class="ml">Jan</text>
<text x="238.84" y="742.60" transform="rotate(-45 238.84 742.60)" class="ml">May</text>
<text x="262.82" y="742.60" transform="rotate(-45 262.82 742.60)" class="ml">Sep</text>
<text x="286.79" y="742.60" transform="rotate(-45 286.79 742.60)" class="ml">Jan</text>
<text x="310.77" y="742.60" transform="rotate(-45 310.77 742.60)" class="ml">May</text>
<text x="334.74" y="742.60" transform="rotate(-45 334.74 742.60)" class="ml">Sep</text>
<text x="358.71" y="742.60" transform="rotate(-45 358.71 742.60)" class="ml">Jan</text>
<text x="382.69" y="742.60" transform="rotate(-45 382.69 742.60)" class="ml">May</text>
<text x="406.66" y="742.60" transform="rotate(-45 406.66 742.60)" class="ml">Sep</text>
<text x="430.64" y="742.60" transform="rotate(-45 430.64 742.60)" class="ml">Jan</text>
<text x="454.61" y="742.60" transform="rotate(-45 454.61 742.60)" class="ml">May</text>
<text x="478.58" y="742.60" transform="rotate(-45 478.58 742.60)" class="ml">Sep</text>
<text x="502.56" y="742.60" transform="rotate(-45 502.56 742.60)" class="ml">Jan</text>
<text x="526.53" y="742.60" transform="rotate(-45 526.53 742.60)" class="ml">May</text>
<text x="550.51" y="742.60" transform="rotate(-45 550.51 742.60)" class="ml">Sep</text>
<text x="574.48" y="742.60" transform="rotate(-45 574.48 742.60)" class="ml">Jan</text>
<text x="102.60" y="777.80" class="yr">2013</text>
<text x="162.54" y="777.80" class="yr">2014</text>
<text x="233.98" y="777.80" class="yr">2015</text>
<text x="309.26" y="777.80" class="yr">2016</text>
<text x="381.18" y="777.80" class="yr">2017</text>
<text x="453.10" y="777.80" class="yr">2018</text>
<text x="522.63" y="777.80" class="yr">2019</text>
<text x="570.58" y="777.80" class="yr">2020</text>
<text x="333.50" y="420.70" class="ti">Number of Transactions</text>
<line x1="696.60" y1="679.60" x2="1191.80" y2="679.60" class="g"/>
<line x1="696.60" y1="635.70" x2="1191.80" y2="635.70" class="g"/>
<line x1="696.60" y1="591.80" x2="1191.80" y2="591.80" class="g"/>
<line x1="696.60" y1="547.90" x2="1191.80" y2="547.90" class="g"/>
<line x1="696.60" y1="504.00" x2="1191.80" y2="504.00" class="g"/>
<line x1="696.60" y1="460.10" x2="1191.80" y2="460.10" class="g"/>
<line x1="721.16" y1="427.70" x2="721.16" y2="725.30" class="g"/>
<line x1="745.32" y1="427.70" x2="745.32" y2="725.30" class="g"/>
<line x1="769.49" y1="427.70" x2="769.49" y2="725.30" class="g"/>
<line x1="793.65" y1="427.70" x2="793.65" y2="725.30" class="g"/>
<line x1="817.81" y1="427.70" x2="817.81" y2="725.30" class="g"/>
<line x1="841.97" y1="427.70" x2="841.97" y2="725.30" class="g"/>
<line x1="866.13" y1="427.70" x2="866.13" y2="725.30" class="g"/>
<line x1="890.30" y1="427.70" x2="890.30" y2="725.30" class="g"/>
<line x1="914.46" y1="427.70" x2="914.46" y2="725.30" class="g"/>
<line x1="938.62" y1="427.70" x2="938.62" y2="725.30" class="g"/>
<line x1="962.78" y1="427.70" x2="962.78" y2="725.30" class="g"/>
<line x1="986.94" y1="427.70" x2="986.94" y2="725.30" class="g"/>
<line x1="1011.11" y1="427.70" x2="1011.11" y2="725.30" class="g"/>
<line x1="1035.27" y1="427.70" x2="1035.27" y2="725.30" class="g"/>
<line x1="1059.43" y1="427.70" x2="1059.43" y2="725.30" class="g"/>
<line x1="1083.59" y1="427.70" x2="1083.59" y2="725.30" class="g"/>
<line x1="1107.75" y1="427.70" x2="1107.75" y2="725.30" class="g"/>
<line x1="1131.92" y1="427.70" x2="1131.92" y2="725.30" class="g"/>
<line x1="1156.08" y1="427.70" x2="1156.08" y2="725.30" class="g"/>
<line x1="1180.24" y1="427.70" x2="1180.24" y2="725.30" class="g"/>
<path d="M696.7,723.6L696.9,723.5L697.1,723.7L697.3,723.5L697.5,723.5L697.7,722.9L697.9,722.8L698.1,723.6L698.3,723.5L698.5,723.5L698.7,723.5L698.9,723.3L699.1,722.9L699.3,722.8L699.5,723.5L699.7,723.7L699.9,723.7L700.1,723.7L700.3,723.5L700.5,722.9L700.7,722.7L700.9,723.4L701.1,723.5L701.3,723.6L701.5,723.7L701.7,723.4L701.9,722.8L702.1,722.7L702.3,723.4L702.5,723.5L702.7,723.3L702.8,723.5L703.0,723.2L703.2,722.8L703.4,722.7L703.6,723.3L703.8,723.5L704.0,723.5L704.2,723.5L704.4,723.2L704.6,722.7L704.8,722.8L705.0,723.6L705.2,723.6L705.4,723.5L705.6,723.3L705.8,723.3L706.0,722.8L706.2,722.8L706.4,723.5L706.6,723.5L706.8,723.5L707.0,723.5L707.2,723.3L707.4,722.8L707.6,722.7L707.8,723.3L708.0,723.5L708.2,723.5L708.4,723.5L708.6,723.4L708.8,722.8L709.0,723.0L709.2,723.6L709.4,723.6L709.6,723.8L709.8,723.6L710.0,723.6L710.2,723.0L710.4,722.7L710.6,723.5L710.8,723.7L711.0,723.5L711.2,723.7L711.4,723.4L711.6,723.0L711.8,723.0L712.0,723.6L712.2,723.6L712.4,723.5L712.6,723.3L712.8,723.2L713.0,722.7L713.2,722.9L713.4,723.4L713.6,723.7L713.8,723.6L714.0,723.5L714.2,723.2L714.4,722.8L714.6,722.6L714.8,723.4L715.0,723.4L715.2,723.3L715.3,723.4L715.5,723.2L715.7,722.8L715.9,722.8L716.1,723.6L716.3,723.5L716.5,723.5L716.7,723.5L716.9,723.5L717.1,723.0L717.3,722.9L717.5,723.7L717.7,723.5L717.9,723.6L718.1,723.6L718.3,723.6L718.5,722.9L718.7,722.9L718.9,723.6L719.1,723.7L719.3,723.7L719.5,723.6L719.7,723.4L719.9,723.0L720.1,722.9L720.3,723.4L720.5,723.8L720.7,723.7L720.9,723.5L721.1,723.5L721.3,723.1L721.5,722.9L721.7,723.7L721.9,723.7L722.1,723.8L722.3,723.8L722.5,723.7L722.7,723.1L722.9,723.2L723.1,723.8L723.3,723.8L723.5,723.8L723.7,723.6L723.9,723.5L724.1,723.0L724.3,722.9L724.5,723.6L724.7,723.6L724.9,723.7L725.1,723.6L725.3,723.5L725.5,722.9L725.7,722.8L725.9,723.6L726.1,723.6L726.3,723.7L726.5,723.7L726.7,723.4L726.9,722.9L727.1,722.9L727.3,723.5L727.5,723.6L727.6,723.5L727.8,723.5L728.0,723.5L728.2,723.0L728.4,722.7L728.6,723.4L728.8,723.5L729.0,723.5L729.2,723.6L729.4,723.4L729.6,722.7L729.8,722.7L730.0,723.5L730.2,723.5L730.4,723.5L730.6,723.5L730.8,723.4L731.0,722.8L731.2,722.9L731.4,723.6L731.6,723.7L731.8,723.7L732.0,723.8L732.2,723.6L732.4,722.9L732.6,723.0L732.8,723.6L733.0,723.7L733.2,723.6L733.4,723.7L733.6,723.6L733.8,723.0L734.0,722.9L734.2,723.6L734.4,723.6L734.6,723.7L734.8,723.5L735.0,723.4L735.2,722.8L735.4,722.7L735.6,723.6L735.8,723.6L736.0,723.6L736.2,723.5L736.4,723.3L736.6,722.9L736.8,722.8L737.0,723.6L737.2,723.6L737.4,723.7L737.6,723.5L737.8,723.3L738.0,722.7L738.2,722.6L738.4,723.3L738.6,723.5L738.8,723.5L739.0,723.4L739.2,723.2L739.4,723.0L739.6,722.9L739.8,723.6L739.9,723.6L740.1,723.7L740.3,723.6L740.5,723.6L740.7,723.0L740.9,723.0L741.1,723.6L741.3,723.7L741.5,723.6L741.7,723.5L741.9,723.4L742.1,723.0L742.3,722.9L742.5,723.4L742.7,723.5L742.9,723.6L743.1,723.5L743.3,723.5L743.5,722.8L743.7,722.8L743.9,723.5L744.1,723.6L744.3,723.6L744.5,723.5L744.7,723.5L744.9,722.8L745.1,722.9L745.3,723.5L745.5,723.7L745.7,723.8L745.9,723.5L746.1,723.5L746.3,722.9L746.5,722.8L746.7,723.7L746.9,723.7L747.1,723.8L747.3,723.8L747.5,723.5L747.7,723.0L747.9,723.0L748.1,723.8L748.3,723.7L748.5,723.8L748.7,723.8L748.9,723.7L749.1,723.1L749.3,723.0L749.5,723.8L749.7,723.8L749.9,723.8L750.1,723.8L750.3,723.4L750.5,722.8L750.7,722.8L750.9,723.6L751.1,723.7L751.3,723.8L751.5,723.6L751.7,723.5L751.9,722.9L752.1,722.8L752.3,723.5L752.4,723.8L752.6,723.8L752.8,723.6L753.0,723.4L753.2,723.0L753.4,723.0L753.6,723.7L753.8,723.7L754.0,723.7L754.2,723.5L754.4,723.4L754.6,723.0L754.8,722.9L755.0,723.8L755.2,723.8L755.4,723.8L755.6,723.6L755.8,723.5L756.0,723.1L756.2,722.8L756.4,723.4L756.6,723.6L756.8,723.7L757.0,723.7L757.2,723.6L757.4,722.9L757.6,722.9L757.8,723.4L758.0,723.7L758.2,723.7L758.4,723.5L758.6,723.4L758.8,722.8L759.0,722.6L759.2,723.4L759.4,723.6L759.6,723.5L759.8,723.4L760.0,723.2L760.2,722.7L760.4,722.6L760.6,723.3L760.8,723.4L761.0,723.5L761.2,723.4L761.4,723.3L761.6,722.6L761.8,722.6L762.0,723.6L762.2,723.4L762.4,723.6L762.6,723.5L762.8,723.4L763.0,722.7L763.2,722.7L763.4,723.3L763.6,723.6L763.8,723.7L764.0,723.4L764.2,723.4L764.4,722.8L764.6,722.8L764.7,723.6L764.9,723.7L765.1,723.7L765.3,723.6L765.5,723.5L765.7,723.0L765.9,723.1L766.1,723.5L766.3,723.6L766.5,723.7L766.7,723.6L766.9,723.7L767.1,723.0L767.3,722.8L767.5,723.5L767.7,723.6L767.9,723.7L768.1,723.6L768.3,723.5L768.5,722.9L768.7,722.7L768.9,723.4L769.1,723.6L769.3,723.7L769.5,723.5L769.7,723.4L769.9,723.0L770.1,722.5L770.3,723.4L770.5,723.4L770.7,723.4L770.9,723.5L771.1,723.2L771.3,722.5L771.5,722.5L771.7,723.2L771.9,723.2L772.1,723.3L772.3,723.3L772.5,723.0L772.7,722.5L772.9,722.5L773.1,723.2L773.3,723.2L773.5,723.3L773.7,723.2L773.9,722.8L774.1,722.5L774.3,722.5L774.5,723.1L774.7,723.2L774.9,723.1L775.1,723.1L775.3,723.0L775.5,722.6L775.7,722.5L775.9,723.1L776.1,723.0L776.3,723.2L776.5,723.3L776.7,723.1L776.9,722.7L777.1,722.5L777.2,723.2L777.4,723.4L777.6,723.3L777.8,723.3L778.0,723.3L778.2,722.7L778.4,722.6L778.6,723.3L778.8,723.3L779.0,723.4L779.2,723.4L779.4,723.2L779.6,722.7L779.8,722.8L780.0,723.4L780.2,723.5L780.4,723.5L780.6,723.3L780.8,723.2L781.0,722.6L781.2,722.5L781.4,723.3L781.6,723.4L781.8,723.4L782.0,723.6L782.2,723.3L782.4,722.7L782.6,722.8L782.8,723.5L783.0,723.6L783.2,723.6L783.4,723.6L783.6,723.3L783.8,722.8L784.0,722.6L784.2,723.4L784.4,723.4L784.6,723.3L784.8,723.3L785.0,723.1L785.2,722.6L785.4,722.5L785.6,723.1L785.8,723.3L786.0,723.3L786.2,723.1L786.4,723.1L786.6,722.5L786.8,722.5L787.0,723.1L787.2,723.2L787.4,723.2L787.6,723.2L787.8,722.9L788.0,722.6L788.2,722.5L788.4,723.2L788.6,723.4L788.8,723.4L789.0,723.4L789.2,723.3L789.4,722.7L789.5,722.5L789.7,723.4L789.9,723.5L790.1,723.3L790.3,723.4L790.5,723.4L790.7,722.7L790.9,722.8L791.1,723.6L791.3,723.7L791.5,723.6L791.7,723.6L791.9,723.3L792.1,722.7L792.3,722.7L792.5,723.4L792.7,723.6L792.9,723.6L793.1,723.6L793.3,723.4L793.5,722.8L793.7,722.9L793.9,723.5L794.1,723.5L794.3,723.7L794.5,723.6L794.7,723.3L794.9,722.7L795.1,722.8L795.3,723.5L795.5,723.5L795.7,723.4L795.9,723.3L796.1,723.3L796.3,722.6L796.5,722.7L796.7,723.5L796.9,723.6L797.1,723.7L797.3,723.7L797.5,723.5L797.7,723.0L797.9,722.8L798.1,723.6L798.3,723.5L798.5,723.5L798.7,723.5L798.9,723.4L799.1,722.8L799.3,723.1L799.5,723.8L799.7,723.8L799.9,723.8L800.1,723.7L800.3,723.5L800.5,722.8L800.7,722.9L800.9,723.6L801.1,723.7L801.3,723.6L801.5,723.6L801.7,723.4L801.8,722.8L802.0,722.8L802.2,723.4L802.4,723.6L802.6,723.5L802.8,723.4L803.0,723.4L803.2,722.8L803.4,722.8L803.6,723.3L803.8,723.5L804.0,723.4L804.2,723.3L804.4,723.3L804.6,722.6L804.8,722.6L805.0,723.4L805.2,723.3L805.4,723.5L805.6,723.5L805.8,723.3L806.0,722.6L806.2,722.5L806.4,723.4L806.6,723.4L806.8,723.6L807.0,723.3L807.2,723.3L807.4,722.8L807.6,722.7L807.8,723.2L808.0,723.5L808.2,723.4L808.4,723.4L808.6,723.3L808.8,722.8L809.0,722.6L809.2,723.5L809.4,723.4L809.6,723.6L809.8,723.4L810.0,723.3L810.2,722.7L810.4,722.7L810.6,723.5L810.8,723.6L811.0,723.6L811.2,723.7L811.4,723.4L811.6,722.9L811.8,722.9L812.0,723.5L812.2,723.6L812.4,723.6L812.6,723.5L812.8,723.5L813.0,722.9L813.2,722.8L813.4,723.6L813.6,723.8L813.8,723.6L814.0,723.5L814.2,723.4L814.3,722.8L814.5,722.8L814.7,723.5L814.9,723.4L815.1,723.6L815.3,723.3L815.5,723.3L815.7,722.8L815.9,722.9L816.1,723.6L816.3,723.6L816.5,723.7L816.7,723.6L816.9,723.3L817.1,722.9L817.3,722.8L817.5,723.7L817.7,723.5L817.9,723.5L818.1,723.7L818.3,723.5L818.5,722.8L818.7,722.6L818.9,723.3L819.1,723.6L819.3,723.3L819.5,723.5L819.7,723.4L819.9,722.7L820.1,722.6L820.3,723.4L820.5,723.5L820.7,723.6L820.9,723.5L821.1,723.4L821.3,723.0L821.5,722.7L821.7,723.5L821.9,723.5L822.1,723.5L822.3,723.5L822.5,723.3L822.7,722.8L822.9,722.6L823.1,723.5L823.3,723.5L823.5,723.4L823.7,723.3L823.9,723.2L824.1,722.7L824.3,722.7L824.5,723.2L824.7,723.3L824.9,723.3L825.1,723.3L825.3,723.0L825.5,722.5L825.7,722.6L825.9,723.2L826.1,723.3L826.3,723.5L826.5,723.2L826.6,723.1L826.8,722.6L827.0,722.5L827.2,723.4L827.4,723.6L827.6,723.4L827.8,723.6L828.0,723.3L828.2,722.7L828.4,722.6L828.6,723.5L828.8,723.8L829.0,723.5L829.2,723.5L829.4,723.4L829.6,722.5L829.8,722.6L830.0,723.4L830.2,723.5L830.4,723.5L830.6,723.3L830.8,723.0L831.0,722.5L831.2,722.4L831.4,723.2L831.6,723.4L831.8,723.4L832.0,723.4L832.2,723.3L832.4,722.9L832.6,722.6L832.8,723.5L833.0,723.4L833.2,723.5L833.4,723.6L833.6,723.2L833.8,722.6L834.0,722.7L834.2,723.5L834.4,723.7L834.6,723.6L834.8,723.6L835.0,723.4L835.2,722.7L835.4,722.7L835.6,723.5L835.8,723.3L836.0,723.4L836.2,723.4L836.4,723.2L836.6,722.5L836.8,722.7L837.0,723.4L837.2,723.5L837.4,723.6L837.6,723.6L837.8,723.4L838.0,722.8L838.2,722.6L838.4,723.5L838.6,723.7L838.8,723.7L839.0,723.6L839.1,723.5L839.3,722.9L839.5,722.7L839.7,723.5L839.9,723.6L840.1,723.5L840.3,723.4L840.5,723.4L840.7,722.7L840.9,722.7L841.1,723.4L841.3,723.4L841.5,723.7L841.7,723.6L841.9,723.4L842.1,722.9L842.3,722.8L842.5,723.6L842.7,723.5L842.9,723.4L843.1,723.4L843.3,723.3L843.5,722.5L843.7,722.8L843.9,723.4L844.1,723.6L844.3,723.6L844.5,723.5L844.7,723.3L844.9,722.6L845.1,722.6L845.3,723.5L845.5,723.2L845.7,723.4L845.9,723.2L846.1,723.3L846.3,722.6L846.5,722.6L846.7,723.5L846.9,723.4L847.1,723.5L847.3,723.5L847.5,723.2L847.7,722.6L847.9,722.6L848.1,723.5L848.3,723.6L848.5,723.3L848.7,723.3L848.9,723.3L849.1,722.5L849.3,722.5L849.5,723.2L849.7,723.4L849.9,723.3L850.1,723.5L850.3,723.2L850.5,722.8L850.7,722.7L850.9,723.4L851.1,723.4L851.3,723.5L851.4,723.7L851.6,723.3L851.8,722.8L852.0,723.0L852.2,723.6L852.4,723.7L852.6,723.6L852.8,723.6L853.0,723.2L853.2,722.7L853.4,722.7L853.6,723.5L853.8,723.4L854.0,723.4L854.2,723.4L854.4,723.2L854.6,722.6L854.8,722.5L855.0,723.4L855.2,723.4L855.4,723.4L855.6,723.5L855.8,723.4L856.0,722.6L856.2,722.7L856.4,723.4L856.6,723.4L856.8,723.4L857.0,723.3L857.2,723.2L857.4,722.7L857.6,722.4L857.8,723.4L858.0,723.4L858.2,723.3L858.4,723.4L858.6,723.3L858.8,722.6L859.0,722.4L859.2,723.2L859.4,723.4L859.6,723.5L859.8,723.4L860.0,723.4L860.2,722.8L860.4,722.6L860.6,723.5L860.8,723.6L861.0,723.7L861.2,723.5L861.4,723.4L861.6,722.9L861.8,722.8L862.0,723.4L862.2,723.6L862.4,723.6L862.6,723.6L862.8,723.2L863.0,722.6L863.2,722.7L863.4,723.3L863.6,723.2L863.7,723.6L863.9,723.4L864.1,723.4L864.3,723.0L864.5,722.7L864.7,723.5L864.9,723.5L865.1,723.6L865.3,723.5L865.5,723.3L865.7,722.8L865.9,722.8L866.1,723.5L866.3,723.7L866.5,723.6L866.7,723.6L866.9,723.4L867.1,722.6L867.3,722.5L867.5,723.5L867.7,723.6L867.9,723.5L868.1,723.5L868.3,723.3L868.5,722.8L868.7,722.6L868.9,723.4L869.1,723.5L869.3,723.5L869.5,723.3L869.7,723.1L869.9,722.7L870.1,722.5L870.3,723.3L870.5,723.4L870.7,723.4L870.9,723.3L871.1,723.1L871.3,722.4L871.5,722.4L871.7,723.2L871.9,723.4L872.1,723.2L872.3,723.4L872.5,723.1L872.7,722.6L872.9,722.5L873.1,723.2L873.3,723.4L873.5,723.2L873.7,723.1L873.9,723.0L874.1,722.4L874.3,722.4L874.5,722.9L874.7,723.2L874.9,723.1L875.1,723.2L875.3,723.1L875.5,722.4L875.7,722.4L875.9,723.4L876.1,723.4L876.2,723.4L876.4,723.4L876.6,723.1L876.8,722.6L877.0,722.5L877.2,723.1L877.4,723.4L877.6,723.5L877.8,723.4L878.0,723.2L878.2,722.6L878.4,722.7L878.6,723.4L878.8,723.5L879.0,723.5L879.2,723.4L879.4,723.2L879.6,722.8L879.8,722.6L880.0,723.4L880.2,723.4L880.4,723.6L880.6,723.4L880.8,723.2L881.0,722.5L881.2,722.7L881.4,723.4L881.6,723.4L881.8,723.5L882.0,723.4L882.2,723.4L882.4,722.7L882.6,722.6L882.8,723.5L883.0,723.5L883.2,723.6L883.4,723.6L883.6,723.4L883.8,722.7L884.0,722.8L884.2,723.3L884.4,723.5L884.6,723.4L884.8,723.5L885.0,723.3L885.2,722.6L885.4,722.5L885.6,723.3L885.8,723.5L886.0,723.6L886.2,723.4L886.4,723.4L886.6,722.7L886.8,722.6L887.0,723.4L887.2,723.7L887.4,723.7L887.6,723.5L887.8,723.5L888.0,722.7L888.2,722.4L888.4,723.4L888.5,723.6L888.7,723.5L888.9,723.5L889.1,723.2L889.3,722.7L889.5,722.7L889.7,723.5L889.9,723.6L890.1,723.6L890.3,723.5L890.5,723.1L890.7,722.6L890.9,722.5L891.1,723.4L891.3,723.7L891.5,723.5L891.7,723.6L891.9,723.3L892.1,722.7L892.3,722.7L892.5,723.6L892.7,723.6L892.9,723.6L893.1,723.4L893.3,723.2L893.5,722.6L893.7,722.5L893.9,723.5L894.1,723.4L894.3,723.6L894.5,723.4L894.7,723.2L894.9,722.5L895.1,722.6L895.3,723.4L895.5,723.4L895.7,723.3L895.9,723.2L896.1,723.2L896.3,722.6L896.5,722.6L896.7,723.2L896.9,723.5L897.1,723.5L897.3,723.5L897.5,723.4L897.7,722.7L897.9,722.7L898.1,723.4L898.3,723.5L898.5,723.5L898.7,723.4L898.9,723.5L899.1,722.7L899.3,722.7L899.5,723.5L899.7,723.3L899.9,723.4L900.1,723.3L900.3,723.2L900.5,722.7L900.7,722.4L900.9,723.4L901.0,723.4L901.2,723.4L901.4,723.4L901.6,723.1L901.8,722.4L902.0,722.3L902.2,723.1L902.4,723.2L902.6,723.2L902.8,723.1L903.0,722.9L903.2,722.5L903.4,722.4L903.6,723.3L903.8,723.4L904.0,723.3L904.2,723.4L904.4,723.0L904.6,722.6L904.8,722.3L905.0,723.0L905.2,723.4L905.4,723.5L905.6,723.3L905.8,723.3L906.0,722.5L906.2,722.6L906.4,723.3L906.6,723.5L906.8,723.4L907.0,723.3L907.2,723.2L907.4,722.7L907.6,722.6L907.8,723.3L908.0,723.5L908.2,723.6L908.4,723.4L908.6,723.4L908.8,722.6L909.0,722.8L909.2,723.6L909.4,723.5L909.6,723.7L909.8,723.5L910.0,723.2L910.2,722.5L910.4,722.6L910.6,723.3L910.8,723.5L911.0,723.6L911.2,723.5L911.4,723.3L911.6,722.7L911.8,722.8L912.0,723.6L912.2,723.5L912.4,723.7L912.6,723.5L912.8,723.3L913.0,722.6L913.2,722.6L913.3,723.3L913.5,723.5L913.7,723.5L913.9,723.3L914.1,723.1L914.3,722.6L914.5,722.5L914.7,723.2L914.9,723.4L915.1,723.4L915.3,722.9L915.5,722.9L915.7,722.1L915.9,722.2L916.1,722.9L916.3,723.1L916.5,723.1L916.7,723.1L916.9,723.1L917.1,722.3L917.3,722.4L917.5,723.3L917.7,723.3L917.9,723.2L918.1,723.2L918.3,723.3L918.5,722.4L918.7,722.5L918.9,723.3L919.1,723.5L919.3,723.5L919.5,723.3L919.7,723.3L919.9,722.4L920.1,722.6L920.3,723.4L920.5,723.5L920.7,723.5L920.9,723.5L921.1,723.2L921.3,722.8L921.5,722.4L921.7,723.3L921.9,723.4L922.1,723.6L922.3,723.5L922.5,723.5L922.7,722.8L922.9,722.8L923.1,723.5L923.3,723.6L923.5,723.6L923.7,723.4L923.9,723.3L924.1,722.6L924.3,722.3L924.5,723.2L924.7,723.4L924.9,723.3L925.1,723.2L925.3,723.2L925.5,722.4L925.6,722.2L925.8,723.0L926.0,723.3L926.2,723.4L926.4,723.1L926.6,722.9L926.8,722.1L927.0,722.0L927.2,722.9L927.4,723.0L927.6,723.2L927.8,723.2L928.0,723.2L928.2,722.2L928.4,722.4L928.6,723.3L928.8,723.2L929.0,723.4L929.2,723.0L929.4,722.9L929.6,722.4L929.8,722.3L930.0,723.2L930.2,723.3L930.4,723.3L930.6,723.4L930.8,723.0L931.0,722.4L931.2,722.5L931.4,723.3L931.6,723.3L931.8,723.5L932.0,723.3L932.2,722.8L932.4,722.3L932.6,722.3L932.8,723.0L933.0,723.2L933.2,723.1L933.4,722.9L933.6,722.8L933.8,722.3L934.0,722.1L934.2,723.1L934.4,723.1L934.6,722.8L934.8,722.8L935.0,722.7L935.2,722.1L935.4,722.0L935.6,723.0L935.8,723.0L936.0,723.0L936.2,722.9L936.4,722.7L936.6,722.1L936.8,722.1L937.0,723.1L937.2,723.2L937.4,723.2L937.6,722.9L937.8,722.8L938.0,722.2L938.1,722.3L938.3,722.9L938.5,723.1L938.7,723.0L938.9,722.9L939.1,722.9L939.3,722.1L939.5,721.9L939.7,723.1L939.9,722.9L940.1,723.1L940.3,722.8L940.5,722.5L940.7,721.9L940.9,721.8L941.1,722.8L941.3,723.1L941.5,723.1L941.7,723.0L941.9,722.6L942.1,722.1L942.3,722.0L942.5,723.0L942.7,723.0L942.9,723.1L943.1,722.8L943.3,722.7L943.5,722.0L943.7,721.8L943.9,722.8L944.1,723.1L944.3,723.0L944.5,722.8L944.7,722.7L944.9,721.8L945.1,721.8L945.3,722.9L945.5,723.1L945.7,723.0L945.9,722.7L946.1,722.7L946.3,721.6L946.5,721.7L946.7,722.6L946.9,722.9L947.1,722.9L947.3,722.8L947.5,722.6L947.7,721.6L947.9,721.4L948.1,722.6L948.3,722.4L948.5,722.5L948.7,722.5L948.9,722.4L949.1,721.7L949.3,721.5L949.5,722.4L949.7,722.4L949.9,722.7L950.1,722.7L950.3,722.3L950.4,721.2L950.6,721.3L950.8,722.4L951.0,722.7L951.2,722.7L951.4,722.5L951.6,722.4L951.8,721.3L952.0,721.3L952.2,722.1L952.4,722.6L952.6,722.5L952.8,722.4L953.0,722.1L953.2,721.1L953.4,721.1L953.6,722.2L953.8,722.1L954.0,722.0L954.2,722.0L954.4,721.8L954.6,720.5L954.8,720.7L955.0,721.7L955.2,722.0L955.4,722.1L955.6,721.8L955.8,721.6L956.0,720.6L956.2,720.4L956.4,721.9L956.6,721.9L956.8,722.1L957.0,721.8L957.2,721.2L957.4,720.4L957.6,720.6L957.8,721.7L958.0,721.7L958.2,722.1L958.4,722.0L958.6,721.5L958.8,720.7L959.0,720.5L959.2,721.7L959.4,721.6L959.6,722.0L959.8,721.7L960.0,721.3L960.2,720.3L960.4,720.3L960.6,721.5L960.8,721.9L961.0,721.6L961.2,721.6L961.4,721.3L961.6,720.1L961.8,720.2L962.0,721.4L962.2,721.5L962.4,721.6L962.6,721.2L962.8,721.0L962.9,720.1L963.1,720.1L963.3,721.2L963.5,721.2L963.7,721.2L963.9,721.2L964.1,720.6L964.3,719.6L964.5,719.7L964.7,721.0L964.9,721.1L965.1,720.9L965.3,720.7L965.5,720.9L965.7,719.5L965.9,719.0L966.1,720.5L966.3,721.1L966.5,721.0L966.7,720.6L966.9,720.4L967.1,719.1L967.3,719.3L967.5,720.2L967.7,720.7L967.9,720.5L968.1,720.4L968.3,720.1L968.5,718.7L968.7,718.6L968.9,719.9L969.1,719.9L969.3,719.9L969.5,719.8L969.7,719.5L969.9,718.3L970.1,718.2L970.3,719.8L970.5,719.5L970.7,719.9L970.9,719.8L971.1,719.2L971.3,718.4L971.5,718.2L971.7,719.3L971.9,719.3L972.1,719.7L972.3,719.6L972.5,719.2L972.7,718.5L972.9,718.2L973.1,719.7L973.3,719.9L973.5,719.6L973.7,719.6L973.9,719.3L974.1,718.0L974.3,717.9L974.5,719.2L974.7,719.6L974.9,719.2L975.1,719.2L975.2,718.8L975.4,718.0L975.6,717.9L975.8,718.9L976.0,719.0L976.2,719.4L976.4,719.4L976.6,718.8L976.8,717.5L977.0,717.4L977.2,718.8L977.4,719.2L977.6,719.0L977.8,718.7L978.0,718.7L978.2,717.4L978.4,716.7L978.6,718.2L978.8,718.6L979.0,718.9L979.2,718.6L979.4,717.9L979.6,716.6L979.8,716.7L980.0,718.3L980.2,718.6L980.4,718.1L980.6,717.4L980.8,717.5L981.0,715.5L981.2,715.0L981.4,717.4L981.6,717.5L981.8,717.4L982.0,716.9L982.2,716.6L982.4,715.0L982.6,714.3L982.8,716.0L983.0,716.2L983.2,716.1L983.4,715.5L983.6,715.3L983.8,712.7L984.0,712.4L984.2,714.9L984.4,714.6L984.6,714.4L984.8,714.4L985.0,713.3L985.2,711.2L985.4,711.2L985.6,713.0L985.8,713.3L986.0,713.1L986.2,712.5L986.4,712.3L986.6,709.3L986.8,708.9L987.0,711.6L987.2,711.0L987.4,710.7L987.5,710.7L987.7,710.1L987.9,707.6L988.1,707.4L988.3,708.9L988.5,709.2L988.7,708.7L988.9,708.5L989.1,707.9L989.3,705.4L989.5,704.8L989.7,707.3L989.9,707.0L990.1,707.5L990.3,706.8L990.5,706.0L990.7,703.3L990.9,702.4L991.1,705.2L991.3,705.0L991.5,704.2L991.7,703.9L991.9,702.6L992.1,699.3L992.3,698.3L992.5,701.3L992.7,701.0L992.9,700.7L993.1,700.0L993.3,696.5L993.5,696.5L993.7,697.0L993.9,700.7L994.1,700.5L994.3,701.4L994.5,701.2L994.7,701.2L994.9,698.9L995.1,699.7L995.3,702.2L995.5,703.4L995.7,703.4L995.9,704.3L996.1,703.7L996.3,702.3L996.5,701.6L996.7,704.7L996.9,705.6L997.1,706.7L997.3,706.0L997.5,705.8L997.7,703.5L997.9,705.0L998.1,708.6L998.3,709.7L998.5,709.6L998.7,710.3L998.9,710.4L999.1,708.2L999.3,707.9L999.5,711.4L999.7,711.7L999.9,712.3L1000.0,711.9L1000.2,712.0L1000.4,709.5L1000.6,709.6L1000.8,712.1L1001.0,713.1L1001.2,713.6L1001.4,713.0L1001.6,712.9L1001.8,710.0L1002.0,710.0L1002.2,713.4L1002.4,714.4L1002.6,714.5L1002.8,714.5L1003.0,714.1L1003.2,712.3L1003.4,712.2L1003.6,716.0L1003.8,716.2L1004.0,716.6L1004.2,716.5L1004.4,716.7L1004.6,714.6L1004.8,713.6L1005.0,715.4L1005.2,715.7L1005.4,714.8L1005.6,712.7L1005.8,711.5L1006.0,707.2L1006.2,705.5L1006.4,707.8L1006.6,706.0L1006.8,704.4L1007.0,702.0L1007.2,700.3L1007.4,694.5L1007.6,693.5L1007.8,696.8L1008.0,694.6L1008.2,693.0L1008.4,692.2L1008.6,690.9L1008.8,684.9L1009.0,679.0L1009.2,679.0L1009.4,690.9L1009.6,690.9L1009.8,692.4L1010.0,691.2L1010.2,689.6L1010.4,689.0L1010.6,696.4L1010.8,697.5L1011.0,699.5L1011.2,701.2L1011.4,702.4L1011.6,700.9L1011.8,702.5L1012.0,707.1L1012.2,709.5L1012.3,709.2L1012.5,709.9L1012.7,710.4L1012.9,707.0L1013.1,708.1L1013.3,711.3L1013.5,713.2L1013.7,713.6L1013.9,714.1L1014.1,714.3L1014.3,711.3L1014.5,710.9L1014.7,714.6L1014.9,715.6L1015.1,715.0L1015.3,714.8L1015.5,714.6L1015.7,710.7L1015.9,710.6L1016.1,714.4L1016.3,714.6L1016.5,714.6L1016.7,714.2L1016.9,712.9L1017.1,709.0L1017.3,708.3L1017.5,711.2L1017.7,709.4L1017.9,708.6L1018.1,706.1L1018.3,703.9L1018.5,699.9L1018.7,697.0L1018.9,700.1L1019.1,700.9L1019.3,701.5L1019.5,702.7L1019.7,703.3L1019.9,701.4L1020.1,701.5L1020.3,706.4L1020.5,707.8L1020.7,708.8L1020.9,709.2L1021.1,708.8L1021.3,703.8L1021.5,701.4L1021.7,703.7L1021.9,702.1L1022.1,701.8L1022.3,699.2L1022.5,697.1L1022.7,691.5L1022.9,688.3L1023.1,692.8L1023.3,693.8L1023.5,695.8L1023.7,690.3L1023.9,689.8L1024.1,669.5L1024.3,656.5L1024.5,687.2L1024.7,614.5L1024.8,614.5L1025.0,690.0L1025.2,681.4L1025.4,668.5L1025.6,670.4L1025.8,688.5L1026.0,692.5L1026.2,693.5L1026.4,696.5L1026.6,696.2L1026.8,690.0L1027.0,684.5L1027.2,692.0L1027.4,690.5L1027.6,692.9L1027.8,688.7L1028.0,687.4L1028.2,663.6L1028.4,651.5L1028.6,674.7L1028.8,672.5L1029.0,660.5L1029.2,649.5L1029.4,640.6L1029.6,589.8L1029.8,584.9L1030.0,575.0L1030.2,575.0L1030.4,634.1L1030.6,637.5L1030.8,625.9L1031.0,581.6L1031.2,577.8L1031.4,631.1L1031.6,619.2L1031.8,632.5L1032.0,600.0L1032.2,600.0L1032.4,576.2L1032.6,564.1L1032.8,623.4L1033.0,623.1L1033.2,610.5L1033.4,430.0L1033.6,430.0L1033.8,427.7L1034.0,427.7L1034.2,432.0L1034.4,432.0L1034.6,598.8L1034.8,604.9L1035.0,592.6L1035.2,560.4L1035.4,556.4L1035.6,599.2L1035.8,609.4L1036.0,621.1L1036.2,616.4L1036.4,619.7L1036.6,560.0L1036.8,560.0L1037.0,631.9L1037.1,649.1L1037.3,643.2L1037.5,637.8L1037.7,637.2L1037.9,596.4L1038.1,606.7L1038.3,643.4L1038.5,659.6L1038.7,664.9L1038.9,672.2L1039.1,666.5L1039.3,639.9L1039.5,634.1L1039.7,677.4L1039.9,680.4L1040.1,680.8L1040.3,686.4L1040.5,682.1L1040.7,673.9L1040.9,679.1L1041.1,695.8L1041.3,702.9L1041.5,703.0L1041.7,704.0L1041.9,700.9L1042.1,692.8L1042.3,693.3L1042.5,702.4L1042.7,705.3L1042.9,704.7L1043.1,703.0L1043.3,703.4L1043.5,696.5L1043.7,696.3L1043.9,704.3L1044.1,707.1L1044.3,709.4L1044.5,709.3L1044.7,710.6L1044.9,708.9L1045.1,710.1L1045.3,717.3L1045.5,716.5L1045.7,717.0L1045.9,717.0L1046.1,716.3L1046.3,714.3L1046.5,712.7L1046.7,716.8L1046.9,717.4L1047.1,717.3L1047.3,717.9L1047.5,716.4L1047.7,713.9L1047.9,713.3L1048.1,717.8L1048.3,718.5L1048.5,718.4L1048.7,718.9L1048.9,719.1L1049.1,715.9L1049.3,717.0L1049.4,719.6L1049.6,720.4L1049.8,721.1L1050.0,721.1L1050.2,720.7L1050.4,719.1L1050.6,718.3L1050.8,721.0L1051.0,721.6L1051.2,721.6L1051.4,721.3L1051.6,720.4L1051.8,718.3L1052.0,717.7L1052.2,721.4L1052.4,722.0L1052.6,721.1L1052.8,721.0L1053.0,721.1L1053.2,717.9L1053.4,717.8L1053.6,720.7L1053.8,721.0L1054.0,721.5L1054.2,721.6L1054.4,721.3L1054.6,718.7L1054.8,718.7L1055.0,721.1L1055.2,720.9L1055.4,720.4L1055.6,719.7L1055.8,719.6L1056.0,716.0L1056.2,714.7L1056.4,717.4L1056.6,718.6L1056.8,718.0L1057.0,717.8L1057.2,716.3L1057.4,708.7L1057.6,708.7L1057.8,717.6L1058.0,717.7L1058.2,718.3L1058.4,717.9L1058.6,717.5L1058.8,714.8L1059.0,714.7L1059.2,719.3L1059.4,719.6L1059.6,720.2L1059.8,720.3L1060.0,719.5L1060.2,716.7L1060.4,716.2L1060.6,718.4L1060.8,719.1L1061.0,718.1L1061.2,717.9L1061.4,715.9L1061.6,712.8L1061.8,711.7L1061.9,714.6L1062.1,715.8L1062.3,716.1L1062.5,716.6L1062.7,716.1L1062.9,713.9L1063.1,714.1L1063.3,718.0L1063.5,719.0L1063.7,719.2L1063.9,719.9L1064.1,720.0L1064.3,717.8L1064.5,717.7L1064.7,720.3L1064.9,720.4L1065.1,720.8L1065.3,721.3L1065.5,720.9L1065.7,718.4L1065.9,717.2L1066.1,720.7L1066.3,720.6L1066.5,721.3L1066.7,721.1L1066.9,720.4L1067.1,717.0L1067.3,717.2L1067.5,719.8L1067.7,720.7L1067.9,720.9L1068.1,720.4L1068.3,719.4L1068.5,717.4L1068.7,716.7L1068.9,719.7L1069.1,720.8L1069.3,704.0L1069.5,704.0L1069.7,719.0L1069.9,716.5L1070.1,717.1L1070.3,720.3L1070.5,721.2L1070.7,720.6L1070.9,720.6L1071.1,720.6L1071.3,718.3L1071.5,718.3L1071.7,721.2L1071.9,721.6L1072.1,721.9L1072.3,721.6L1072.5,721.4L1072.7,719.4L1072.9,719.5L1073.1,721.4L1073.3,721.8L1073.5,722.2L1073.7,722.2L1073.9,721.4L1074.1,720.3L1074.2,719.6L1074.4,721.9L1074.6,721.9L1074.8,722.6L1075.0,722.3L1075.2,721.6L1075.4,719.6L1075.6,719.9L1075.8,722.1L1076.0,722.6L1076.2,722.3L1076.4,722.8L1076.6,722.6L1076.8,721.1L1077.0,720.4L1077.2,722.3L1077.4,722.2L1077.6,722.8L1077.8,722.6L1078.0,722.1L1078.2,720.4L1078.4,720.8L1078.6,722.5L1078.8,722.3L1079.0,722.4L1079.2,722.1L1079.4,721.8L1079.6,720.6L1079.8,720.7L1080.0,722.2L1080.2,722.4L1080.4,722.7L1080.6,722.4L1080.8,722.2L1081.0,721.3L1081.2,720.9L1081.4,722.4L1081.6,722.6L1081.8,722.9L1082.0,722.9L1082.2,722.4L1082.4,721.3L1082.6,721.2L1082.8,722.8L1083.0,722.9L1083.2,722.9L1083.4,722.6L1083.6,722.6L1083.8,721.2L1084.0,720.8L1084.2,722.5L1084.4,723.1L1084.6,722.8L1084.8,722.9L1085.0,722.4L1085.2,721.0L1085.4,721.1L1085.6,722.7L1085.8,722.5L1086.0,722.7L1086.2,722.4L1086.4,722.1L1086.6,721.0L1086.7,720.8L1086.9,722.5L1087.1,722.1L1087.3,722.6L1087.5,722.5L1087.7,722.1L1087.9,720.8L1088.1,721.0L1088.3,722.3L1088.5,722.9L1088.7,722.6L1088.9,722.6L1089.1,722.1L1089.3,721.1L1089.5,720.9L1089.7,722.2L1089.9,722.3L1090.1,722.4L1090.3,722.3L1090.5,722.4L1090.7,721.0L1090.9,720.8L1091.1,722.2L1091.3,722.3L1091.5,722.5L1091.7,722.2L1091.9,722.0L1092.1,720.8L1092.3,721.1L1092.5,722.6L1092.7,722.4L1092.9,722.6L1093.1,722.3L1093.3,722.4L1093.5,720.8L1093.7,720.5L1093.9,722.1L1094.1,722.6L1094.3,722.5L1094.5,722.4L1094.7,721.9L1094.9,720.8L1095.1,720.3L1095.3,721.9L1095.5,722.3L1095.7,722.5L1095.9,722.0L1096.1,722.0L1096.3,720.6L1096.5,720.5L1096.7,722.2L1096.9,722.4L1097.1,722.3L1097.3,722.0L1097.5,721.6L1097.7,720.2L1097.9,720.2L1098.1,722.0L1098.3,722.1L1098.5,722.3L1098.7,722.0L1098.9,722.1L1099.0,721.0L1099.2,720.6L1099.4,722.0L1099.6,722.1L1099.8,722.4L1100.0,722.7L1100.2,722.2L1100.4,720.6L1100.6,721.0L1100.8,722.7L1101.0,722.3L1101.2,722.4L1101.4,722.2L1101.6,722.0L1101.8,720.4L1102.0,720.4L1102.2,721.9L1102.4,722.0L1102.6,722.1L1102.8,721.8L1103.0,721.5L1103.2,720.0L1103.4,720.0L1103.6,721.3L1103.8,721.5L1104.0,721.4L1104.2,721.4L1104.4,721.0L1104.6,719.5L1104.8,719.6L1105.0,720.8L1105.2,721.1L1105.4,721.6L1105.6,720.7L1105.8,720.5L1106.0,719.2L1106.2,719.2L1106.4,721.0L1106.6,721.6L1106.8,721.5L1107.0,721.5L1107.2,721.1L1107.4,719.8L1107.6,719.3L1107.8,721.5L1108.0,721.6L1108.2,721.6L1108.4,721.5L1108.6,721.0L1108.8,718.9L1109.0,719.3L1109.2,720.9L1109.4,721.3L1109.6,721.6L1109.8,721.7L1110.0,721.4L1110.2,719.4L1110.4,719.0L1110.6,720.7L1110.8,721.1L1111.0,721.2L1111.2,720.5L1111.3,720.1L1111.5,718.5L1111.7,718.3L1111.9,720.5L1112.1,720.4L1112.3,720.9L1112.5,720.0L1112.7,720.2L1112.9,717.7L1113.1,717.6L1113.3,719.7L1113.5,720.9L1113.7,720.5L1113.9,720.4L1114.1,720.4L1114.3,718.2L1114.5,718.4L1114.7,720.8L1114.9,721.2L1115.1,721.0L1115.3,720.8L1115.5,720.1L1115.7,718.6L1115.9,717.5L1116.1,720.5L1116.3,720.2L1116.5,720.8L1116.7,720.1L1116.9,719.5L1117.1,717.5L1117.3,717.0L1117.5,719.7L1117.7,719.7L1117.9,720.1L1118.1,719.9L1118.3,718.8L1118.5,716.9L1118.7,716.2L1118.9,719.3L1119.1,719.0L1119.3,718.8L1119.5,719.2L1119.7,718.4L1119.9,715.5L1120.1,715.4L1120.3,718.4L1120.5,718.8L1120.7,718.7L1120.9,718.2L1121.1,718.1L1121.3,715.1L1121.5,715.0L1121.7,717.9L1121.9,718.8L1122.1,719.4L1122.3,718.3L1122.5,717.8L1122.7,715.4L1122.9,715.3L1123.1,718.0L1123.3,718.5L1123.5,718.0L1123.7,717.9L1123.8,717.0L1124.0,714.0L1124.2,714.6L1124.4,717.9L1124.6,717.7L1124.8,718.0L1125.0,717.6L1125.2,717.0L1125.4,714.2L1125.6,714.6L1125.8,717.7L1126.0,718.9L1126.2,718.2L1126.4,718.1L1126.6,717.8L1126.8,714.2L1127.0,713.8L1127.2,717.4L1127.4,718.5L1127.6,717.3L1127.8,716.8L1128.0,717.6L1128.2,712.5L1128.4,712.4L1128.6,717.2L1128.8,716.9L1129.0,717.6L1129.2,717.4L1129.4,716.2L1129.6,711.0L1129.8,710.8L1130.0,716.6L1130.2,715.3L1130.4,715.3L1130.6,714.3L1130.8,714.6L1131.0,709.6L1131.2,709.2L1131.4,714.9L1131.6,715.7L1131.8,713.5L1132.0,712.7L1132.2,710.9L1132.4,706.9L1132.6,703.8L1132.8,710.4L1133.0,712.4L1133.2,710.7L1133.4,712.0L1133.6,708.8L1133.8,700.9L1134.0,697.5L1134.2,708.8L1134.4,711.0L1134.6,708.4L1134.8,708.2L1135.0,708.7L1135.2,700.5L1135.4,698.9L1135.6,708.5L1135.8,712.1L1136.0,711.4L1136.1,712.0L1136.3,708.6L1136.5,703.0L1136.7,701.3L1136.9,709.4L1137.1,712.3L1137.3,692.5L1137.5,692.5L1137.7,707.2L1137.9,701.7L1138.1,700.7L1138.3,711.8L1138.5,709.8L1138.7,710.8L1138.9,710.6L1139.1,710.5L1139.3,702.2L1139.5,702.6L1139.7,712.4L1139.9,712.9L1140.1,712.3L1140.3,711.5L1140.5,709.4L1140.7,702.5L1140.9,700.3L1141.1,711.4L1141.3,710.8L1141.5,710.7L1141.7,709.9L1141.9,707.7L1142.1,702.9L1142.3,701.4L1142.5,709.6L1142.7,692.5L1142.9,692.5L1143.1,710.7L1143.3,708.1L1143.5,701.5L1143.7,700.2L1143.9,708.5L1144.1,709.7L1144.3,711.4L1144.5,709.2L1144.7,709.3L1144.9,704.3L1145.1,703.1L1145.3,709.5L1145.5,710.9L1145.7,712.0L1145.9,710.1L1146.1,709.2L1146.3,705.5L1146.5,704.1L1146.7,712.3L1146.9,711.9L1147.1,713.2L1147.3,712.7L1147.5,712.2L1147.7,706.7L1147.9,706.0L1148.1,711.8L1148.3,713.5L1148.5,710.9L1148.6,712.7L1148.8,710.9L1149.0,705.5L1149.2,705.3L1149.4,712.0L1149.6,712.5L1149.8,713.3L1150.0,712.4L1150.2,711.7L1150.4,707.6L1150.6,707.6L1150.8,712.6L1151.0,713.6L1151.2,715.2L1151.4,713.4L1151.6,713.8L1151.8,709.3L1152.0,709.4L1152.2,714.3L1152.4,714.8L1152.6,716.5L1152.8,716.1L1153.0,714.2L1153.2,711.3L1153.4,711.2L1153.6,715.9L1153.8,717.5L1154.0,717.2L1154.2,716.7L1154.4,716.0L1154.6,712.9L1154.8,712.9L1155.0,716.8L1155.2,718.1L1155.4,718.9L1155.6,718.6L1155.8,718.5L1156.0,716.1L1156.2,716.4L1156.4,719.1L1156.6,720.2L1156.8,719.3L1157.0,719.5L1157.2,718.9L1157.4,715.2L1157.6,715.0L1157.8,717.8L1158.0,718.3L1158.2,718.7L1158.4,718.9L1158.6,719.0L1158.8,716.0L1159.0,715.7L1159.2,719.0L1159.4,718.8L1159.6,718.8L1159.8,719.2L1160.0,718.2L1160.2,715.4L1160.4,715.9L1160.6,719.3L1160.8,719.4L1160.9,719.4L1161.1,719.1L1161.3,719.3L1161.5,715.7L1161.7,715.9L1161.9,718.3L1162.1,719.6L1162.3,719.2L1162.5,720.3L1162.7,720.1L1162.9,716.5L1163.1,716.6L1163.3,720.6L1163.5,720.0L1163.7,720.3L1163.9,720.4L1164.1,720.3L1164.3,717.7L1164.5,717.4L1164.7,721.0L1164.9,721.3L1165.1,721.1L1165.3,721.3L1165.5,720.7L1165.7,718.0L1165.9,718.1L1166.1,720.1L1166.3,720.8L1166.5,720.7L1166.7,720.8L1166.9,720.4L1167.1,718.0L1167.3,717.5L1167.5,720.1L1167.7,721.0L1167.9,721.1L1168.1,720.7L1168.3,720.2L1168.5,718.0L1168.7,717.6L1168.9,719.8L1169.1,720.4L1169.3,720.8L1169.5,720.3L1169.7,719.6L1169.9,717.0L1170.1,717.1L1170.3,720.1L1170.5,720.7L1170.7,720.1L1170.9,719.5L1171.1,719.5L1171.3,717.5L1171.5,717.0L1171.7,720.3L1171.9,720.5L1172.1,721.1L1172.3,720.9L1172.5,720.9L1172.7,718.1L1172.9,718.1L1173.1,720.4L1173.2,720.9L1173.4,721.4L1173.6,721.2L1173.8,720.0L1174.0,718.1L1174.2,717.7L1174.4,720.5L1174.6,721.5L1174.8,721.0L1175.0,721.1L1175.2,720.7L1175.4,718.0L1175.6,718.0L1175.8,721.1L1176.0,720.7L1176.2,721.2L1176.4,720.9L1176.6,720.3L1176.8,717.7L1177.0,718.2L1177.2,720.9L1177.4,720.8L1177.6,720.5L1177.8,720.2L1178.0,719.5L1178.2,718.1L1178.4,718.3L1178.6,720.0L1178.8,720.6L1179.0,720.6L1179.2,721.0L1179.4,720.2L1179.6,718.8L1179.8,718.3L1180.0,720.8L1180.2,721.7L1180.4,721.3L1180.6,721.7L1180.8,721.3L1181.0,718.7L1181.2,718.2L1181.4,720.7L1181.6,721.0L1181.8,720.8L1182.0,720.9L1182.2,721.1L1182.4,718.2L1182.6,718.1L1182.8,720.3L1183.0,720.5L1183.2,720.6L1183.4,720.3L1183.6,720.0L1183.8,718.2L1184.0,718.1L1184.2,720.1L1184.4,720.8L1184.6,721.2L1184.8,720.3L1185.0,720.3L1185.2,717.5L1185.4,717.3L1185.6,719.6L1185.7,720.2L1185.9,720.5L1186.1,720.7L1186.3,719.7L1186.5,718.5L1186.7,718.0L1186.9,720.3L1187.1,720.5L1187.3,721.1L1187.5,721.2L1187.7,720.0L1187.9,718.9L1188.1,718.3L1188.3,721.0L1188.5,720.6L1188.7,721.2L1188.9,720.9L1189.1,720.0L1189.3,718.1L1189.5,718.0L1189.7,720.5L1189.9,720.9L1190.1,721.1L1190.3,721.1L1190.5,720.5L1190.7,718.2L1190.9,718.8L1191.1,721.2L1191.3,721.5L1191.5,721.1L1191.7,721.0" class="d"/>
<path d="M696.6,723.30L697.1,723.30L697.6,723.30L698.1,723.30L698.6,723.30L699.1,723.30L699.6,723.30L700.1,723.30L700.6,723.30L701.1,723.30L701.6,723.30L702.1,723.30L702.6,723.30L703.1,723.30L703.6,723.30L704.1,723.30L704.6,723.30L705.1,723.30L705.6,723.30L706.1,723.30L706.6,723.30L707.1,723.29L707.6,723.29L708.1,723.29L708.6,723.29L709.1,723.29L709.6,723.29L710.1,723.29L710.6,723.29L711.1,723.29L711.6,723.29L712.1,723.29L712.6,723.29L713.1,723.29L713.6,723.29L714.1,723.29L714.6,723.29L715.1,723.29L715.6,723.29L716.1,723.29L716.6,723.29L717.1,723.29L717.6,723.29L718.1,723.29L718.6,723.29L719.1,723.29L719.6,723.29L720.1,723.29L720.6,723.29L721.1,723.29L721.6,723.29L722.1,723.29L722.6,723.29L723.1,723.29L723.6,723.29L724.1,723.29L724.6,723.29L725.1,723.29L725.6,723.29L726.1,723.29L726.6,723.29L727.1,723.29L727.6,723.28L728.1,723.28L728.6,723.28L729.1,723.28L729.6,723.28L730.1,723.28L730.6,723.28L731.1,723.28L731.6,723.28L732.1,723.28L732.6,723.28L733.1,723.28L733.6,723.28L734.1,723.28L734.6,723.28L735.1,723.28L735.6,723.28L736.1,723.28L736.6,723.28L737.1,723.28L737.6,723.28L738.1,723.28L738.6,723.28L739.1,723.28L739.6,723.28L740.1,723.28L740.6,723.28L741.1,723.28L741.6,723.28L742.1,723.28L742.6,723.28L743.1,723.28L743.6,723.28L744.1,723.28L744.6,723.28L745.1,723.28L745.6,723.28L746.1,723.28L746.6,723.28L747.1,723.28L747.6,723.27L748.1,723.27L748.6,723.27L749.1,723.27L749.6,723.27L750.1,723.27L750.6,723.27L751.1,723.27L751.6,723.27L752.1,723.27L752.6,723.27L753.1,723.27L753.6,723.27L754.1,723.27L754.6,723.27L755.1,723.27L755.6,723.27L756.1,723.27L756.6,723.27L757.1,723.27L757.6,723.27L758.1,723.27L758.6,723.27L759.1,723.27L759.6,723.27L760.1,723.27L760.6,723.27L761.1,723.27L761.6,723.27L762.1,723.27L762.6,723.27L763.1,723.27L763.6,723.27L764.1,723.27L764.6,723.27L765.1,723.27L765.6,723.27L766.1,723.27L766.6,723.27L767.1,723.27L767.6,723.27L768.1,723.26L768.6,723.26L769.1,723.26L769.6,723.26L770.1,723.26L770.6,723.26L771.1,723.26L771.6,723.26L772.1,723.26L772.6,723.26L773.1,723.26L773.6,723.26L774.1,723.26L774.6,723.26L775.1,723.26L775.6,723.26L776.1,723.26L776.6,723.26L777.1,723.26L777.6,723.26L778.1,723.26L778.6,723.26L779.1,723.26L779.6,723.26L780.1,723.26L780.6,723.26L781.1,723.26L781.6,723.26L782.1,723.26L782.6,723.26L783.1,723.26L783.6,723.26L784.1,723.26L784.6,723.26L785.1,723.26L785.6,723.26L786.1,723.26L786.6,723.26L787.1,723.26L787.6,723.26L788.1,723.26L788.6,723.25L789.1,723.25L789.6,723.25L790.1,723.25L790.6,723.25L791.1,723.25L791.6,723.25L792.1,723.25L792.6,723.25L793.1,723.25L793.6,723.25L794.1,723.25L794.6,723.25L795.1,723.25L795.6,723.25L796.1,723.25L796.6,723.25L797.1,723.25L797.6,723.25L798.1,723.25L798.6,723.25L799.1,723.25L799.6,723.25L800.1,723.25L800.6,723.25L801.1,723.25L801.6,723.25L802.1,723.25L802.6,723.25L803.1,723.25L803.6,723.25L804.1,723.25L804.6,723.25L805.1,723.25L805.6,723.25L806.1,723.25L806.6,723.25L807.1,723.25L807.6,723.25L808.1,723.25L808.6,723.24L809.1,723.24L809.6,723.24L810.1,723.24L810.6,723.24L811.1,723.24L811.6,723.24L812.1,723.24L812.6,723.24L813.1,723.24L813.6,723.24L814.1,723.24L814.6,723.24L815.1,723.24L815.6,723.24L816.1,723.24L816.6,723.24L817.1,723.24L817.6,723.24L818.1,723.24L818.6,723.24L819.1,723.24L819.6,723.24L820.1,723.24L820.6,723.24L821.1,723.24L821.6,723.24L822.1,723.24L822.6,723.24L823.1,723.24L823.6,723.24L824.1,723.24L824.6,723.24L825.1,723.24L825.6,723.24L826.1,723.24L826.6,723.24L827.1,723.24L827.6,723.24L828.1,723.24L828.6,723.24L829.1,723.23L829.6,723.23L830.1,723.23L830.6,723.23L831.1,723.23L831.6,723.23L832.1,723.23L832.6,723.23L833.1,723.23L833.6,723.23L834.1,723.23L834.6,723.23L835.1,723.23L835.6,723.23L836.1,723.23L836.6,723.23L837.1,723.23L837.6,723.23L838.1,723.23L838.6,723.23L839.1,723.23L839.6,723.23L840.1,723.23L840.6,723.23L841.1,723.23L841.6,723.23L842.1,723.23L842.6,723.23L843.1,723.23L843.6,723.23L844.1,723.23L844.6,723.23L845.1,723.23L845.6,723.23L846.1,723.23L846.6,723.23L847.1,723.23L847.6,723.23L848.1,723.23L848.6,723.23L849.1,723.23L849.6,723.22L850.1,723.22L850.6,723.22L851.1,723.22L851.6,723.22L852.1,723.22L852.6,723.22L853.1,723.22L853.6,723.22L854.1,723.22L854.6,723.22L855.1,723.22L855.6,723.22L856.1,723.22L856.6,723.22L857.1,723.22L857.6,723.22L858.1,723.22L858.6,723.22L859.1,723.22L859.6,723.22L860.1,723.22L860.6,723.22L861.1,723.22L861.6,723.22L862.1,723.22L862.6,723.22L863.1,723.22L863.6,723.22L864.1,723.22L864.6,723.22L865.1,723.22L865.6,723.22L866.1,723.22L866.6,723.22L867.1,723.22L867.6,723.22L868.1,723.22L868.6,723.22L869.1,723.22L869.6,723.21L870.1,723.21L870.6,723.21L871.1,723.21L871.6,723.21L872.1,723.21L872.6,723.21L873.1,723.21L873.6,723.21L874.1,723.21L874.6,723.21L875.1,723.21L875.6,723.21L876.1,723.21L876.6,723.21L877.1,723.21L877.6,723.21L878.1,723.21L878.6,723.21L879.1,723.21L879.6,723.21L880.1,723.21L880.6,723.21L881.1,723.21L881.6,723.21L882.1,723.21L882.6,723.21L883.1,723.21L883.6,723.21L884.1,723.21L884.6,723.21L885.1,723.21L885.6,723.21L886.1,723.21L886.6,723.21L887.1,723.21L887.6,723.21L888.1,723.21L888.6,723.21L889.1,723.21L889.6,723.21L890.1,723.20L890.6,723.20L891.1,723.20L891.6,723.20L892.1,723.20L892.6,723.20L893.1,723.20L893.6,723.20L894.1,723.20L894.6,723.20L895.1,723.20L895.6,723.20L896.1,723.20L896.6,723.20L897.1,723.20L897.6,723.20L898.1,723.20L898.6,723.20L899.1,723.20L899.6,723.20L900.1,723.20L900.6,723.20L901.1,723.20L901.6,723.20L902.1,723.19L902.6,723.19L903.1,723.19L903.6,723.19L904.1,723.19L904.6,723.19L905.1,723.19L905.6,723.19L906.1,723.18L906.6,723.18L907.1,723.18L907.6,723.18L908.1,723.18L908.6,723.18L909.1,723.18L909.6,723.18L910.1,723.17L910.6,723.17L911.1,723.17L911.6,723.17L912.1,723.17L912.6,723.17L913.1,723.17L913.6,723.17L914.1,723.16L914.6,723.16L915.1,723.16L915.6,723.16L916.1,723.16L916.6,723.16L917.1,723.16L917.6,723.16L918.1,723.15L918.6,723.15L919.1,723.15L919.6,723.15L920.1,723.15L920.6,723.15L921.1,723.15L921.6,723.15L922.1,723.14L922.6,723.14L923.1,723.14L923.6,723.14L924.1,723.14L924.6,723.14L925.1,723.14L925.6,723.14L926.1,723.13L926.6,723.13L927.1,723.13L927.6,723.13L928.1,723.13L928.6,723.13L929.1,723.13L929.6,723.13L930.1,723.12L930.6,723.12L931.1,723.12L931.6,723.12L932.1,723.12L932.6,723.12L933.1,723.12L933.6,723.12L934.1,723.11L934.6,723.11L935.1,723.11L935.6,723.11L936.1,723.11L936.6,723.11L937.1,723.11L937.6,723.11L938.1,723.10L938.6,723.10L939.1,723.10L939.6,723.09L940.1,723.08L940.6,723.07L941.1,723.06L941.6,723.05L942.1,723.04L942.6,723.02L943.1,723.01L943.6,722.99L944.1,722.98L944.6,722.96L945.1,722.95L945.6,722.93L946.1,722.92L946.6,722.90L947.1,722.89L947.6,722.87L948.1,722.86L948.6,722.84L949.1,722.83L949.6,722.81L950.1,722.80L950.6,722.78L951.1,722.76L951.6,722.74L952.1,722.71L952.6,722.68L953.1,722.65L953.6,722.60L954.1,722.55L954.6,722.49L955.1,722.42L955.6,722.35L956.1,722.28L956.6,722.21L957.1,722.13L957.6,722.06L958.1,721.98L958.6,721.91L959.1,721.83L959.6,721.76L960.1,721.69L960.6,721.61L961.1,721.54L961.6,721.46L962.1,721.39L962.6,721.31L963.1,721.24L963.6,721.16L964.1,721.09L964.6,721.01L965.1,720.93L965.6,720.84L966.1,720.75L966.6,720.66L967.1,720.55L967.6,720.44L968.1,720.33L968.6,720.21L969.1,720.09L969.6,719.96L970.1,719.83L970.6,719.71L971.1,719.58L971.6,719.45L972.1,719.32L972.6,719.20L973.1,719.07L973.6,718.94L974.1,718.81L974.6,718.69L975.1,718.56L975.6,718.43L976.1,718.29L976.6,718.15L977.1,718.01L977.6,717.86L978.1,717.71L978.6,717.55L979.1,717.39L979.6,717.22L980.1,717.05L980.6,716.89L981.1,716.72L981.6,716.55L982.1,716.38L982.6,716.20L983.1,716.03L983.6,715.84L984.1,715.65L984.6,715.43L985.1,715.20L985.6,714.95L986.1,714.68L986.6,714.39L987.1,714.08L987.6,713.76L988.1,713.44L988.6,713.11L989.1,712.78L989.6,712.45L990.1,712.12L990.6,711.78L991.1,711.45L991.6,711.10L992.1,710.75L992.6,710.39L993.1,710.01L993.6,709.62L994.1,709.22L994.6,708.80L995.1,708.37L995.6,707.93L996.1,707.49L996.6,707.04L997.1,706.59L997.6,706.14L998.1,705.69L998.6,705.23L999.1,704.76L999.6,704.28L1000.1,703.78L1000.6,703.28L1001.1,702.76L1001.6,702.24L1002.1,701.70L1002.6,701.16L1003.1,700.62L1003.6,700.07L1004.1,699.53L1004.6,698.98L1005.1,698.42L1005.6,697.85L1006.1,697.28L1006.6,696.68L1007.1,696.08L1007.6,695.46L1008.1,694.82L1008.6,694.18L1009.1,693.53L1009.6,692.87L1010.1,692.22L1010.6,691.55L1011.1,690.89L1011.6,690.22L1012.1,689.55L1012.6,688.87L1013.1,688.18L1013.6,687.47L1014.1,686.76L1014.6,686.03L1015.1,685.30L1015.6,684.56L1016.1,683.82L1016.6,683.07L1017.1,682.33L1017.6,681.59L1018.1,680.84L1018.6,680.11L1019.1,679.37L1019.6,678.65L1020.1,677.93L1020.6,677.21L1021.1,676.51L1021.6,675.81L1022.1,675.12L1022.6,674.44L1023.1,673.76L1023.6,673.10L1024.1,672.47L1024.6,671.86L1025.1,671.30L1025.6,670.77L1026.1,670.29L1026.6,669.84L1027.1,669.42L1027.6,669.03L1028.1,668.65L1028.6,668.29L1029.1,667.96L1029.6,667.64L1030.1,667.37L1030.6,667.13L1031.1,666.93L1031.6,666.78L1032.1,666.67L1032.6,666.60L1033.1,666.57L1033.6,666.59L1034.1,666.66L1034.6,666.78L1035.1,666.96L1035.6,667.20L1036.1,667.49L1036.6,667.82L1037.1,668.20L1037.6,668.62L1038.1,669.08L1038.6,669.58L1039.1,670.13L1039.6,670.72L1040.1,671.35L1040.6,672.00L1041.1,672.68L1041.6,673.37L1042.1,674.08L1042.6,674.80L1043.1,675.53L1043.6,676.29L1044.1,677.07L1044.6,677.88L1045.1,678.70L1045.6,679.55L1046.1,680.40L1046.6,681.27L1047.1,682.14L1047.6,683.02L1048.1,683.89L1048.6,684.76L1049.1,685.63L1049.6,686.50L1050.1,687.37L1050.6,688.23L1051.1,689.10L1051.6,689.96L1052.1,690.82L1052.6,691.69L1053.1,692.55L1053.6,693.42L1054.1,694.28L1054.6,695.16L1055.1,696.03L1055.6,696.91L1056.1,697.79L1056.6,698.67L1057.1,699.55L1057.6,700.43L1058.1,701.30L1058.6,702.16L1059.1,703.01L1059.6,703.83L1060.1,704.63L1060.6,705.40L1061.1,706.15L1061.6,706.88L1062.1,707.59L1062.6,708.30L1063.1,709.00L1063.6,709.69L1064.1,710.38L1064.6,711.06L1065.1,711.74L1065.6,712.40L1066.1,713.04L1066.6,713.66L1067.1,714.25L1067.6,714.82L1068.1,715.37L1068.6,715.90L1069.1,716.42L1069.6,716.94L1070.1,717.44L1070.6,717.94L1071.1,718.44L1071.6,718.91L1072.1,719.36L1072.6,719.78L1073.1,720.17L1073.6,720.50L1074.1,720.80L1074.6,721.06L1075.1,721.29L1075.6,721.50L1076.1,721.69L1076.6,721.88L1077.1,722.06L1077.6,722.23L1078.1,722.40L1078.6,722.56L1079.1,722.71L1079.6,722.84L1080.1,722.96L1080.6,723.06L1081.1,723.14L1081.6,723.21L1082.1,723.27L1082.6,723.33L1083.1,723.37L1083.6,723.42L1084.1,723.46L1084.6,723.51L1085.1,723.54L1085.6,723.58L1086.1,723.60L1086.6,723.62L1087.1,723.63L1087.6,723.64L1088.1,723.63L1088.6,723.62L1089.1,723.61L1089.6,723.60L1090.1,723.58L1090.6,723.56L1091.1,723.54L1091.6,723.53L1092.1,723.51L1092.6,723.49L1093.1,723.47L1093.6,723.46L1094.1,723.44L1094.6,723.42L1095.1,723.40L1095.6,723.38L1096.1,723.37L1096.6,723.35L1097.1,723.33L1097.6,723.31L1098.1,723.29L1098.6,723.27L1099.1,723.25L1099.6,723.23L1100.1,723.20L1100.6,723.17L1101.1,723.14L1101.6,723.10L1102.1,723.05L1102.6,723.01L1103.1,722.96L1103.6,722.91L1104.1,722.85L1104.6,722.80L1105.1,722.74L1105.6,722.68L1106.1,722.61L1106.6,722.53L1107.1,722.43L1107.6,722.32L1108.1,722.19L1108.6,722.05L1109.1,721.89L1109.6,721.72L1110.1,721.55L1110.6,721.37L1111.1,721.19L1111.6,721.01L1112.1,720.82L1112.6,720.64L1113.1,720.46L1113.6,720.28L1114.1,720.10L1114.6,719.91L1115.1,719.73L1115.6,719.55L1116.1,719.37L1116.6,719.18L1117.1,719.00L1117.6,718.82L1118.1,718.64L1118.6,718.46L1119.1,718.29L1119.6,718.12L1120.1,717.96L1120.6,717.80L1121.1,717.65L1121.6,717.51L1122.1,717.37L1122.6,717.24L1123.1,717.11L1123.6,716.98L1124.1,716.85L1124.6,716.72L1125.1,716.59L1125.6,716.46L1126.1,716.34L1126.6,716.21L1127.1,716.08L1127.6,715.95L1128.1,715.82L1128.6,715.69L1129.1,715.57L1129.6,715.44L1130.1,715.32L1130.6,715.20L1131.1,715.08L1131.6,714.96L1132.1,714.85L1132.6,714.74L1133.1,714.63L1133.6,714.53L1134.1,714.42L1134.6,714.32L1135.1,714.21L1135.6,714.11L1136.1,714.01L1136.6,713.91L1137.1,713.80L1137.6,713.71L1138.1,713.62L1138.6,713.53L1139.1,713.46L1139.6,713.41L1140.1,713.38L1140.6,713.37L1141.1,713.38L1141.6,713.40L1142.1,713.44L1142.6,713.48L1143.1,713.53L1143.6,713.59L1144.1,713.65L1144.6,713.72L1145.1,713.80L1145.6,713.89L1146.1,713.99L1146.6,714.10L1147.1,714.22L1147.6,714.35L1148.1,714.49L1148.6,714.63L1149.1,714.77L1149.6,714.91L1150.1,715.05L1150.6,715.19L1151.1,715.34L1151.6,715.48L1152.1,715.62L1152.6,715.76L1153.1,715.90L1153.6,716.04L1154.1,716.18L1154.6,716.32L1155.1,716.45L1155.6,716.57L1156.1,716.69L1156.6,716.81L1157.1,716.92L1157.6,717.02L1158.1,717.12L1158.6,717.22L1159.1,717.32L1159.6,717.42L1160.1,717.52L1160.6,717.62L1161.1,717.71L1161.6,717.81L1162.1,717.91L1162.6,718.01L1163.1,718.10L1163.6,718.20L1164.1,718.30L1164.6,718.40L1165.1,718.49L1165.6,718.59L1166.1,718.69L1166.6,718.79L1167.1,718.88L1167.6,718.98L1168.1,719.08L1168.6,719.18L1169.1,719.28L1169.6,719.38L1170.1,719.48L1170.6,719.58L1171.1,719.68L1171.6,719.78L1172.1,719.88L1172.6,719.98L1173.1,720.08L1173.6,720.18L1174.1,720.28L1174.6,720.38L1175.1,720.48L1175.6,720.58L1176.1,720.68L1176.6,720.78L1177.1,720.87L1177.6,720.96L1178.1,721.05L1178.6,721.13L1179.1,721.20L1179.6,721.26L1180.1,721.30L1180.6,721.35L1181.1,721.38L1181.6,721.41L1182.1,721.44L1182.6,721.46L1183.1,721.49L1183.6,721.51L1184.1,721.53L1184.6,721.56L1185.1,721.58L1185.6,721.60L1186.1,721.63L1186.6,721.65L1187.1,721.68L1187.6,721.70L1188.1,721.72L1188.6,721.75L1189.1,721.77L1189.6,721.79L1190.1,721.81L1190.6,721.83L1191.1,721.85L1191.6,721.86" class="t"/>
<path d="M696.60,725.30V427.70H1191.80V725.30Z" class="f"/>
<line x1="690.60" y1="723.50" x2="696.60" y2="723.50" class="k"/>
<text x="685.10" y="728.50" class="yl">0</text>
<line x1="690.60" y1="679.60" x2="696.60" y2="679.60" class="k"/>
<text x="685.10" y="684.60" class="yl">5</text>
<line x1="690.60" y1="635.70" x2="696.60" y2="635.70" class="k"/>
<text x="685.10" y="640.70" class="yl">10</text>
<line x1="690.60" y1="591.80" x2="696.60" y2="591.80" class="k"/>
<text x="685.10" y="596.80" class="yl">15</text>
<line x1="690.60" y1="547.90" x2="696.60" y2="547.90" class="k"/>
<text x="685.10" y="552.90" class="yl">20</text>
<line x1="690.60" y1="504.00" x2="696.60" y2="504.00" class="k"/>
<text x="685.10" y="509.00" class="yl">25</text>
<line x1="690.60" y1="460.10" x2="696.60" y2="460.10" class="k"/>
<text x="685.10" y="465.10" class="yl">30</text>
<line x1="696.60" y1="725.30" x2="696.60" y2="731.90" class="k"/>
<line x1="703.04" y1="725.30" x2="703.04" y2="729.10" class="k"/>
<line x1="709.08" y1="725.30" x2="709.08" y2="729.10" class="k"/>
<line x1="715.12" y1="725.30" x2="715.12" y2="729.10" class="k"/>
<line x1="721.16" y1="725.30" x2="721.16" y2="731.90" class="k"/>
<line x1="727.20" y1="725.30" x2="727.20" y2="729.10" class="k"/>
<line x1="733.24" y1="725.30" x2="733.24" y2="729.10" class="k"/>
<line x1="739.28" y1="725.30" x2="739.28" y2="729.10" class="k"/>
<line x1="745.32" y1="725.30" x2="745.32" y2="731.90" class="k"/>
<line x1="751.36" y1="725.30" x2="751.36" y2="729.10" class="k"/>
<line x1="757.40" y1="725.30" x2="757.40" y2="729.10" class="k"/>
<line x1="763.45" y1="725.30" x2="763.45" y2="729.10" class="k"/>
<line x1="769.49" y1="725.30" x2="769.49" y2="731.90" class="k"/>
<line x1="775.53" y1="725.30" x2="775.53" y2="729.10" class="k"/>
<line x1="781.57" y1="725.30" x2="781.57" y2="729.10" class="k"/>
<line x1="787.61" y1="725.30" x2="787.61" y2="729.10" class="k"/>
<line x1="793.65" y1="725.30" x2="793.65" y2="731.90" class="k"/>
<line x1="799.69" y1="725.30" x2="799.69" y2="729.10" class="k"/>
<line x1="805.73" y1="725.30" x2="805.73" y2="729.10" class="k"/>
<line x1="811.77" y1="725.30" x2="811.77" y2="729.10" class="k"/>
<line x1="817.81" y1="725.30" x2="817.81" y2="731.90" class="k"/>
<line x1="823.85" y1="725.30" x2="823.85" y2="729.10" class="k"/>
<line x1="829.89" y1="725.30" x2="829.89" y2="729.10" class="k"/>
<line x1="835.93" y1="725.30" x2="835.93" y2="729.10" class="k"/>
<line x1="841.97" y1="725.30" x2="841.97" y2="731.90" class="k"/>
<line x1="848.01" y1="725.30" x2="848.01" y2="729.10" class="k"/>
<line x1="854.05" y1="725.30" x2="854.05" y2="729.10" class="k"/>
<line x1="860.09" y1="725.30" x2="860.09" y2="729.10" class="k"/>
<line x1="866.13" y1="725.30" x2="866.13" y2="731.90" class="k"/>
<line x1="872.17" y1="725.30" x2="872.17" y2="729.10" class="k"/>
<line x1="878.22" y1="725.30" x2="878.22" y2="729.10" class="k"/>
<line x1="884.26" y1="725.30" x2="884.26" y2="729.10" class="k"/>
<line x1="890.30" y1="725.30" x2="890.30" y2="731.90" class="k"/>
<line x1="896.34" y1="725.30" x2="896.34" y2="729.10" class="k"/>
<line x1="902.38" y1="725.30" x2="902.38" y2="729.10" class="k"/>
<line x1="908.42" y1="725.30" x2="908.42" y2="729.10" class="k"/>
<line x1="914.46" y1="725.30" x2="914.46" y2="731.90" class="k"/>
<line x1="920.50" y1="725.30" x2="920.50" y2="729.10" class="k"/>
<line x1="926.54" y1="725.30" x2="926.54" y2="729.10" class="k"/>
<line x1="932.58" y1="725.30" x2="932.58" y2="729.10" class="k"/>
<line x1="938.62" y1="725.30" x2="938.62" y2="731.90" class="k"/>
<line x1="944.66" y1="725.30" x2="944.66" y2="729.10" class="k"/>
<line x1="950.70" y1="725.30" x2="950.70" y2="729.10" class="k"/>
<line x1="956.74" y1="725.30" x2="956.74" y2="729.10" class="k"/>
<line x1="962.78" y1="725.30" x2="962.78" y2="731.90" class="k"/>
<line x1="968.82" y1="725.30" x2="968.82" y2="729.10" class="k"/>
<line x1="974.86" y1="725.30" x2="974.86" y2="729.10" class="k"/>
<line x1="980.90" y1="725.30" x2="980.90" y2="729.10" class="k"/>
<line x1="986.94" y1="725.30" x2="986.94" y2="731.90" class="k"/>
<line x1="992.98" y1="725.30" x2="992.98" y2="729.10" class="k"/>
<line x1="999.02" y1="725.30" x2="999.02" y2="729.10" class="k"/>
<line x1="1005.07" y1="725.30" x2="1005.07" y2="729.10" class="k"/>
<line x1="1011.11" y1="725.30" x2="1011.11" y2="731.90" class="k"/>
<line x1="1017.15" y1="725.30" x2="1017.15" y2="729.10" class="k"/>
<line x1="1023.19" y1="725.30" x2="1023.19" y2="729.10" class="k"/>
<line x1="1029.23" y1="725.30" x2="1029.23" y2="729.10" class="k"/>
<line x1="1035.27" y1="725.30" x2="1035.27" y2="731.90" class="k"/>
<line x1="1041.31" y1="725.30" x2="1041.31" y2="729.10" class="k"/>
<line x1="1047.35" y1="725.30" x2="1047.35" y2="729.10" class="k"/>
<line x1="1053.39" y1="725.30" x2="1053.39" y2="729.10" class="k"/>
<line x1="1059.43" y1="725.30" x2="1059.43" y2="731.90" class="k"/>
<line x1="1065.47" y1="725.30" x2="1065.47" y2="729.10" class="k"/>
<line x1="1071.51" y1="725.30" x2="1071.51" y2="729.10" class="k"/>
<line x1="1077.55" y1="725.30" x2="1077.55" y2="729.10" class="k"/>
<line x1="1083.59" y1="725.30" x2="1083.59" y2="731.90" class="k"/>
<line x1="1089.63" y1="725.30" x2="1089.63" y2="729.10" class="k"/>
<line x1="1095.67" y1="725.30" x2="1095.67" y2="729.10" class="k"/>
<line x1="1101.71" y1="725.30" x2="1101.71" y2="729.10" class="k"/>
<line x1="1107.75" y1="725.30" x2="1107.75" y2="731.90" class="k"/>
<line x1="1113.79" y1="725.30" x2="1113.79" y2="729.10" class="k"/>
<line x1="1119.84" y1="725.30" x2="1119.84" y2="729.10" class="k"/>
<line x1="1125.88" y1="725.30" x2="1125.88" y2="729.10" class="k"/>
<line x1="1131.92" y1="725.30" x2="1131.92" y2="731.90" class="k"/>
<line x1="1137.96" y1="725.30" x2="1137.96" y2="729.10" class="k"/>
<line x1="1144.00" y1="725.30" x2="1144.00" y2="729.10" class="k"/>
<line x1="1150.04" y1="725.30" x2="1150.04" y2="729.10" class="k"/>
<line x1="1156.08" y1="725.30" x2="1156.08" y2="731.90" class="k"/>
<line x1="1162.12" y1="725.30" x2="1162.12" y2="729.10" class="k"/>
<line x1="1168.16" y1="725.30" x2="1168.16" y2="729.10" class="k"/>
<line x1="1174.20" y1="725.30" x2="1174.20" y2="729.10" class="k"/>
<line x1="1180.24" y1="725.30" x2="1180.24" y2="731.90" class="k"/>
<line x1="1186.28" y1="725.30" x2="1186.28" y2="729.10" class="k"/>
<line x1="1191.80" y1="725.30" x2="1191.80" y2="729.10" class="k"/>
<text x="703.30" y="742.90" transform="rotate(-45 703.30 742.90)" class="ml">May</text>
<text x="727.46" y="742.90" transform="rotate(-45 727.46 742.90)" class="ml">Sep</text>
<text x="751.62" y="742.90" transform="rotate(-45 751.62 742.90)" class="ml">Jan</text>
<text x="775.79" y="742.90" transform="rotate(-45 775.79 742.90)" class="ml">May</text>
<text x="799.95" y="742.90" transform="rotate(-45 799.95 742.90)" class="ml">Sep</text>
<text x="824.11" y="742.90" transform="rotate(-45 824.11 742.90)" class="ml">Jan</text>
<text x="848.27" y="742.90" transform="rotate(-45 848.27 742.90)" class="ml">May</text>
<text x="872.43" y="742.90" transform="rotate(-45 872.43 742.90)" class="ml">Sep</text>
<text x="896.60" y="742.90" transform="rotate(-45 896.60 742.90)" class="ml">Jan</text>
<text x="920.76" y="742.90" transform="rotate(-45 920.76 742.90)" class="ml">May</text>
<text x="944.92" y="742.90" transform="rotate(-45 944.92 742.90)" class="ml">Sep</text>
<text x="969.08" y="742.90" transform="rotate(-45 969.08 742.90)" class="ml">Jan</text>
<text x="993.24" y="742.90" transform="rotate(-45 993.24 742.90)" class="ml">May</text>
<text x="1017.41" y="742.90" transform="rotate(-45 1017.41 742.90)" class="ml">Sep</text>
<text x="1041.57" y="742.90" transform="rotate(-45 1041.57 742.90)" class="ml">Jan</text>
<text x="1065.73" y="742.90" transform="rotate(-45 1065.73 742.90)" class="ml">May</text>
<text x="1089.89" y="742.90" transform="rotate(-45 1089.89 742.90)" class="ml">Sep</text>
<text x="1114.05" y="742.90" transform="rotate(-45 1114.05 742.90)" class="ml">Jan</text>
<text x="1138.22" y="742.90" transform="rotate(-45 1138.22 742.90)" class="ml">May</text>
<text x="1162.38" y="742.90" transform="rotate(-45 1162.38 742.90)" class="ml">Sep</text>
<text x="1186.54" y="742.90" transform="rotate(-45 1186.54 742.90)" class="ml">Jan</text>
<text x="711.01" y="778.10" class="yr">2013</text>
<text x="771.42" y="778.10" class="yr">2014</text>
<text x="843.42" y="778.10" class="yr">2015</text>
<text x="919.29" y="778.10" class="yr">2016</text>
<text x="991.78" y="778.10" class="yr">2017</text>
<text x="1064.26" y="778.10" class="yr">2018</text>
<text x="1134.33" y="778.10" class="yr">2019</text>
<text x="1182.66" y="778.10" class="yr">2020</text>
<text x="943.70" y="418.90" class="ti">Median Fee per Transaction</text>
</svg></body></html>
